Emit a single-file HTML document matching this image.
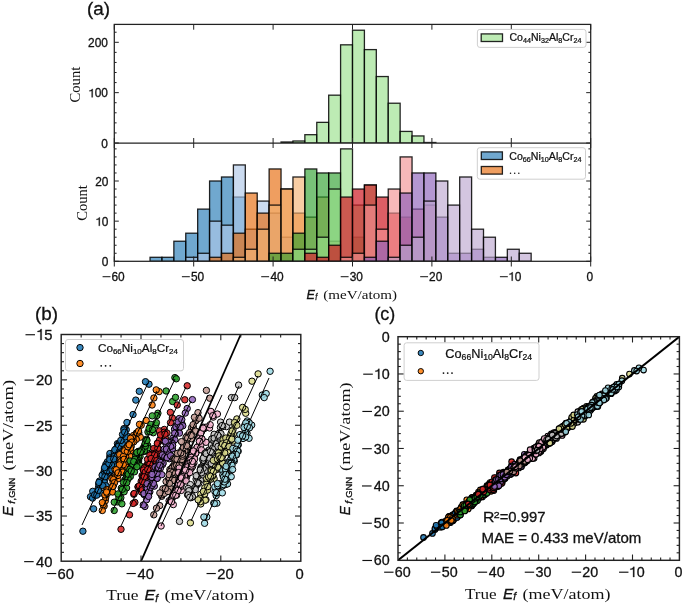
<!DOCTYPE html>
<html><head><meta charset="utf-8"><style>
html,body{margin:0;padding:0;background:#fff;}
svg{display:block;will-change:transform;filter:blur(0.3px);}
</style></head><body>
<svg width="685" height="606" viewBox="0 0 685 606" font-family='"Liberation Sans", sans-serif'>
<rect width="685" height="606" fill="#fff"/>
<defs>
<clipPath id="cu"><rect x="114.3" y="24.4" width="476.4" height="118.6"/></clipPath>
<clipPath id="cl"><rect x="114.3" y="143.0" width="476.4" height="118.3"/></clipPath>
</defs>
<rect x="281.04" y="141.99" width="11.91" height="1.01" fill="#98df8a" fill-opacity="0.64" stroke="#000" stroke-opacity="0.85" stroke-width="1.3" clip-path="url(#cu)"/>
<rect x="292.95" y="140.99" width="11.91" height="2.01" fill="#98df8a" fill-opacity="0.64" stroke="#000" stroke-opacity="0.85" stroke-width="1.3" clip-path="url(#cu)"/>
<rect x="304.86" y="134.69" width="11.91" height="8.31" fill="#98df8a" fill-opacity="0.64" stroke="#000" stroke-opacity="0.85" stroke-width="1.3" clip-path="url(#cu)"/>
<rect x="316.77" y="122.36" width="11.91" height="20.64" fill="#98df8a" fill-opacity="0.64" stroke="#000" stroke-opacity="0.85" stroke-width="1.3" clip-path="url(#cu)"/>
<rect x="328.68" y="95.17" width="11.91" height="47.83" fill="#98df8a" fill-opacity="0.64" stroke="#000" stroke-opacity="0.85" stroke-width="1.3" clip-path="url(#cu)"/>
<rect x="340.59" y="44.82" width="11.91" height="98.18" fill="#98df8a" fill-opacity="0.64" stroke="#000" stroke-opacity="0.85" stroke-width="1.3" clip-path="url(#cu)"/>
<rect x="352.5" y="30.22" width="11.91" height="112.78" fill="#98df8a" fill-opacity="0.64" stroke="#000" stroke-opacity="0.85" stroke-width="1.3" clip-path="url(#cu)"/>
<rect x="364.41" y="49.6" width="11.91" height="93.4" fill="#98df8a" fill-opacity="0.64" stroke="#000" stroke-opacity="0.85" stroke-width="1.3" clip-path="url(#cu)"/>
<rect x="376.32" y="76.54" width="11.91" height="66.46" fill="#98df8a" fill-opacity="0.64" stroke="#000" stroke-opacity="0.85" stroke-width="1.3" clip-path="url(#cu)"/>
<rect x="388.23" y="103.22" width="11.91" height="39.78" fill="#98df8a" fill-opacity="0.64" stroke="#000" stroke-opacity="0.85" stroke-width="1.3" clip-path="url(#cu)"/>
<rect x="400.14" y="131.42" width="11.91" height="11.58" fill="#98df8a" fill-opacity="0.64" stroke="#000" stroke-opacity="0.85" stroke-width="1.3" clip-path="url(#cu)"/>
<rect x="412.05" y="135.95" width="11.91" height="7.05" fill="#98df8a" fill-opacity="0.64" stroke="#000" stroke-opacity="0.85" stroke-width="1.3" clip-path="url(#cu)"/>
<rect x="423.96" y="142.5" width="11.91" height="0.5" fill="#98df8a" fill-opacity="0.64" stroke="#000" stroke-opacity="0.85" stroke-width="1.3" clip-path="url(#cu)"/>
<rect x="150.03" y="257.29" width="11.91" height="4.01" fill="#1f77b4" fill-opacity="0.64" stroke="#000" stroke-opacity="0.85" stroke-width="1.3" clip-path="url(#cl)"/>
<rect x="161.94" y="257.29" width="11.91" height="4.01" fill="#1f77b4" fill-opacity="0.64" stroke="#000" stroke-opacity="0.85" stroke-width="1.3" clip-path="url(#cl)"/>
<rect x="173.85" y="241.23" width="11.91" height="20.07" fill="#1f77b4" fill-opacity="0.64" stroke="#000" stroke-opacity="0.85" stroke-width="1.3" clip-path="url(#cl)"/>
<rect x="185.76" y="233.2" width="11.91" height="28.1" fill="#1f77b4" fill-opacity="0.64" stroke="#000" stroke-opacity="0.85" stroke-width="1.3" clip-path="url(#cl)"/>
<rect x="197.67" y="209.11" width="11.91" height="52.19" fill="#1f77b4" fill-opacity="0.64" stroke="#000" stroke-opacity="0.85" stroke-width="1.3" clip-path="url(#cl)"/>
<rect x="209.58" y="181" width="11.91" height="80.3" fill="#1f77b4" fill-opacity="0.64" stroke="#000" stroke-opacity="0.85" stroke-width="1.3" clip-path="url(#cl)"/>
<rect x="221.49" y="176.99" width="11.91" height="84.31" fill="#1f77b4" fill-opacity="0.64" stroke="#000" stroke-opacity="0.85" stroke-width="1.3" clip-path="url(#cl)"/>
<rect x="233.4" y="197.06" width="11.91" height="64.24" fill="#1f77b4" fill-opacity="0.64" stroke="#000" stroke-opacity="0.85" stroke-width="1.3" clip-path="url(#cl)"/>
<rect x="185.76" y="257.29" width="11.91" height="4.01" fill="#aec7e8" fill-opacity="0.64" stroke="#000" stroke-opacity="0.85" stroke-width="1.3" clip-path="url(#cl)"/>
<rect x="197.67" y="253.27" width="11.91" height="8.03" fill="#aec7e8" fill-opacity="0.64" stroke="#000" stroke-opacity="0.85" stroke-width="1.3" clip-path="url(#cl)"/>
<rect x="209.58" y="221.15" width="11.91" height="40.15" fill="#aec7e8" fill-opacity="0.64" stroke="#000" stroke-opacity="0.85" stroke-width="1.3" clip-path="url(#cl)"/>
<rect x="221.49" y="225.17" width="11.91" height="36.13" fill="#aec7e8" fill-opacity="0.64" stroke="#000" stroke-opacity="0.85" stroke-width="1.3" clip-path="url(#cl)"/>
<rect x="233.4" y="164.94" width="11.91" height="96.36" fill="#aec7e8" fill-opacity="0.64" stroke="#000" stroke-opacity="0.85" stroke-width="1.3" clip-path="url(#cl)"/>
<rect x="245.31" y="229.18" width="11.91" height="32.12" fill="#aec7e8" fill-opacity="0.64" stroke="#000" stroke-opacity="0.85" stroke-width="1.3" clip-path="url(#cl)"/>
<rect x="257.22" y="201.08" width="11.91" height="60.22" fill="#aec7e8" fill-opacity="0.64" stroke="#000" stroke-opacity="0.85" stroke-width="1.3" clip-path="url(#cl)"/>
<rect x="269.13" y="213.12" width="11.91" height="48.18" fill="#aec7e8" fill-opacity="0.64" stroke="#000" stroke-opacity="0.85" stroke-width="1.3" clip-path="url(#cl)"/>
<rect x="281.04" y="237.21" width="11.91" height="24.09" fill="#aec7e8" fill-opacity="0.64" stroke="#000" stroke-opacity="0.85" stroke-width="1.3" clip-path="url(#cl)"/>
<rect x="209.58" y="257.29" width="11.91" height="4.01" fill="#e66806" fill-opacity="0.64" stroke="#000" stroke-opacity="0.85" stroke-width="1.3" clip-path="url(#cl)"/>
<rect x="221.49" y="253.27" width="11.91" height="8.03" fill="#e66806" fill-opacity="0.64" stroke="#000" stroke-opacity="0.85" stroke-width="1.3" clip-path="url(#cl)"/>
<rect x="233.4" y="233.2" width="11.91" height="28.1" fill="#e66806" fill-opacity="0.64" stroke="#000" stroke-opacity="0.85" stroke-width="1.3" clip-path="url(#cl)"/>
<rect x="245.31" y="193.05" width="11.91" height="68.25" fill="#e66806" fill-opacity="0.64" stroke="#000" stroke-opacity="0.85" stroke-width="1.3" clip-path="url(#cl)"/>
<rect x="257.22" y="213.12" width="11.91" height="48.18" fill="#e66806" fill-opacity="0.64" stroke="#000" stroke-opacity="0.85" stroke-width="1.3" clip-path="url(#cl)"/>
<rect x="269.13" y="168.96" width="11.91" height="92.34" fill="#e66806" fill-opacity="0.64" stroke="#000" stroke-opacity="0.85" stroke-width="1.3" clip-path="url(#cl)"/>
<rect x="281.04" y="189.03" width="11.91" height="72.27" fill="#e66806" fill-opacity="0.64" stroke="#000" stroke-opacity="0.85" stroke-width="1.3" clip-path="url(#cl)"/>
<rect x="292.95" y="213.12" width="11.91" height="48.18" fill="#e66806" fill-opacity="0.64" stroke="#000" stroke-opacity="0.85" stroke-width="1.3" clip-path="url(#cl)"/>
<rect x="233.4" y="257.29" width="11.91" height="4.01" fill="#f2b170" fill-opacity="0.64" stroke="#000" stroke-opacity="0.85" stroke-width="1.3" clip-path="url(#cl)"/>
<rect x="245.31" y="249.26" width="11.91" height="12.04" fill="#f2b170" fill-opacity="0.64" stroke="#000" stroke-opacity="0.85" stroke-width="1.3" clip-path="url(#cl)"/>
<rect x="257.22" y="229.18" width="11.91" height="32.12" fill="#f2b170" fill-opacity="0.64" stroke="#000" stroke-opacity="0.85" stroke-width="1.3" clip-path="url(#cl)"/>
<rect x="269.13" y="205.09" width="11.91" height="56.21" fill="#f2b170" fill-opacity="0.64" stroke="#000" stroke-opacity="0.85" stroke-width="1.3" clip-path="url(#cl)"/>
<rect x="281.04" y="189.03" width="11.91" height="72.27" fill="#f2b170" fill-opacity="0.64" stroke="#000" stroke-opacity="0.85" stroke-width="1.3" clip-path="url(#cl)"/>
<rect x="292.95" y="176.99" width="11.91" height="84.31" fill="#f2b170" fill-opacity="0.64" stroke="#000" stroke-opacity="0.85" stroke-width="1.3" clip-path="url(#cl)"/>
<rect x="304.86" y="217.14" width="11.91" height="44.16" fill="#f2b170" fill-opacity="0.64" stroke="#000" stroke-opacity="0.85" stroke-width="1.3" clip-path="url(#cl)"/>
<rect x="316.77" y="197.06" width="11.91" height="64.24" fill="#f2b170" fill-opacity="0.64" stroke="#000" stroke-opacity="0.85" stroke-width="1.3" clip-path="url(#cl)"/>
<rect x="328.68" y="241.23" width="11.91" height="20.07" fill="#f2b170" fill-opacity="0.64" stroke="#000" stroke-opacity="0.85" stroke-width="1.3" clip-path="url(#cl)"/>
<rect x="269.13" y="253.27" width="11.91" height="8.03" fill="#2ca02c" fill-opacity="0.64" stroke="#000" stroke-opacity="0.85" stroke-width="1.3" clip-path="url(#cl)"/>
<rect x="281.04" y="253.27" width="11.91" height="8.03" fill="#2ca02c" fill-opacity="0.64" stroke="#000" stroke-opacity="0.85" stroke-width="1.3" clip-path="url(#cl)"/>
<rect x="292.95" y="233.2" width="11.91" height="28.1" fill="#2ca02c" fill-opacity="0.64" stroke="#000" stroke-opacity="0.85" stroke-width="1.3" clip-path="url(#cl)"/>
<rect x="304.86" y="168.96" width="11.91" height="92.34" fill="#2ca02c" fill-opacity="0.64" stroke="#000" stroke-opacity="0.85" stroke-width="1.3" clip-path="url(#cl)"/>
<rect x="316.77" y="172.97" width="11.91" height="88.33" fill="#2ca02c" fill-opacity="0.64" stroke="#000" stroke-opacity="0.85" stroke-width="1.3" clip-path="url(#cl)"/>
<rect x="328.68" y="172.97" width="11.91" height="88.33" fill="#2ca02c" fill-opacity="0.64" stroke="#000" stroke-opacity="0.85" stroke-width="1.3" clip-path="url(#cl)"/>
<rect x="352.5" y="237.21" width="11.91" height="24.09" fill="#2ca02c" fill-opacity="0.64" stroke="#000" stroke-opacity="0.85" stroke-width="1.3" clip-path="url(#cl)"/>
<rect x="292.95" y="249.26" width="11.91" height="12.04" fill="#98df8a" fill-opacity="0.64" stroke="#000" stroke-opacity="0.85" stroke-width="1.3" clip-path="url(#cl)"/>
<rect x="304.86" y="249.26" width="11.91" height="12.04" fill="#98df8a" fill-opacity="0.64" stroke="#000" stroke-opacity="0.85" stroke-width="1.3" clip-path="url(#cl)"/>
<rect x="316.77" y="237.21" width="11.91" height="24.09" fill="#98df8a" fill-opacity="0.64" stroke="#000" stroke-opacity="0.85" stroke-width="1.3" clip-path="url(#cl)"/>
<rect x="328.68" y="189.03" width="11.91" height="72.27" fill="#98df8a" fill-opacity="0.64" stroke="#000" stroke-opacity="0.85" stroke-width="1.3" clip-path="url(#cl)"/>
<rect x="340.59" y="148.88" width="11.91" height="112.42" fill="#98df8a" fill-opacity="0.64" stroke="#000" stroke-opacity="0.85" stroke-width="1.3" clip-path="url(#cl)"/>
<rect x="352.5" y="205.09" width="11.91" height="56.21" fill="#98df8a" fill-opacity="0.64" stroke="#000" stroke-opacity="0.85" stroke-width="1.3" clip-path="url(#cl)"/>
<rect x="364.41" y="185.02" width="11.91" height="76.28" fill="#98df8a" fill-opacity="0.64" stroke="#000" stroke-opacity="0.85" stroke-width="1.3" clip-path="url(#cl)"/>
<rect x="304.86" y="253.27" width="11.91" height="8.03" fill="#d0202a" fill-opacity="0.72" stroke="#000" stroke-opacity="0.85" stroke-width="1.3" clip-path="url(#cl)"/>
<rect x="316.77" y="257.29" width="11.91" height="4.01" fill="#d0202a" fill-opacity="0.72" stroke="#000" stroke-opacity="0.85" stroke-width="1.3" clip-path="url(#cl)"/>
<rect x="328.68" y="245.24" width="11.91" height="16.06" fill="#d0202a" fill-opacity="0.72" stroke="#000" stroke-opacity="0.85" stroke-width="1.3" clip-path="url(#cl)"/>
<rect x="340.59" y="197.06" width="11.91" height="64.24" fill="#d0202a" fill-opacity="0.72" stroke="#000" stroke-opacity="0.85" stroke-width="1.3" clip-path="url(#cl)"/>
<rect x="352.5" y="189.03" width="11.91" height="72.27" fill="#d0202a" fill-opacity="0.72" stroke="#000" stroke-opacity="0.85" stroke-width="1.3" clip-path="url(#cl)"/>
<rect x="364.41" y="185.02" width="11.91" height="76.28" fill="#d0202a" fill-opacity="0.72" stroke="#000" stroke-opacity="0.85" stroke-width="1.3" clip-path="url(#cl)"/>
<rect x="376.32" y="197.06" width="11.91" height="64.24" fill="#d0202a" fill-opacity="0.72" stroke="#000" stroke-opacity="0.85" stroke-width="1.3" clip-path="url(#cl)"/>
<rect x="388.23" y="213.12" width="11.91" height="48.18" fill="#d0202a" fill-opacity="0.72" stroke="#000" stroke-opacity="0.85" stroke-width="1.3" clip-path="url(#cl)"/>
<rect x="400.14" y="217.14" width="11.91" height="44.16" fill="#d0202a" fill-opacity="0.72" stroke="#000" stroke-opacity="0.85" stroke-width="1.3" clip-path="url(#cl)"/>
<rect x="340.59" y="257.29" width="11.91" height="4.01" fill="#f39092" fill-opacity="0.64" stroke="#000" stroke-opacity="0.85" stroke-width="1.3" clip-path="url(#cl)"/>
<rect x="352.5" y="253.27" width="11.91" height="8.03" fill="#f39092" fill-opacity="0.64" stroke="#000" stroke-opacity="0.85" stroke-width="1.3" clip-path="url(#cl)"/>
<rect x="364.41" y="205.09" width="11.91" height="56.21" fill="#f39092" fill-opacity="0.64" stroke="#000" stroke-opacity="0.85" stroke-width="1.3" clip-path="url(#cl)"/>
<rect x="376.32" y="229.18" width="11.91" height="32.12" fill="#f39092" fill-opacity="0.64" stroke="#000" stroke-opacity="0.85" stroke-width="1.3" clip-path="url(#cl)"/>
<rect x="388.23" y="189.03" width="11.91" height="72.27" fill="#f39092" fill-opacity="0.64" stroke="#000" stroke-opacity="0.85" stroke-width="1.3" clip-path="url(#cl)"/>
<rect x="400.14" y="156.91" width="11.91" height="104.39" fill="#f39092" fill-opacity="0.64" stroke="#000" stroke-opacity="0.85" stroke-width="1.3" clip-path="url(#cl)"/>
<rect x="412.05" y="209.11" width="11.91" height="52.19" fill="#f39092" fill-opacity="0.64" stroke="#000" stroke-opacity="0.85" stroke-width="1.3" clip-path="url(#cl)"/>
<rect x="423.96" y="205.09" width="11.91" height="56.21" fill="#f39092" fill-opacity="0.64" stroke="#000" stroke-opacity="0.85" stroke-width="1.3" clip-path="url(#cl)"/>
<rect x="364.41" y="257.29" width="11.91" height="4.01" fill="#8a5cb8" fill-opacity="0.64" stroke="#000" stroke-opacity="0.85" stroke-width="1.3" clip-path="url(#cl)"/>
<rect x="376.32" y="241.23" width="11.91" height="20.07" fill="#8a5cb8" fill-opacity="0.64" stroke="#000" stroke-opacity="0.85" stroke-width="1.3" clip-path="url(#cl)"/>
<rect x="400.14" y="193.05" width="11.91" height="68.25" fill="#8a5cb8" fill-opacity="0.64" stroke="#000" stroke-opacity="0.85" stroke-width="1.3" clip-path="url(#cl)"/>
<rect x="412.05" y="172.97" width="11.91" height="88.33" fill="#8a5cb8" fill-opacity="0.64" stroke="#000" stroke-opacity="0.85" stroke-width="1.3" clip-path="url(#cl)"/>
<rect x="423.96" y="172.97" width="11.91" height="88.33" fill="#8a5cb8" fill-opacity="0.64" stroke="#000" stroke-opacity="0.85" stroke-width="1.3" clip-path="url(#cl)"/>
<rect x="435.87" y="217.14" width="11.91" height="44.16" fill="#8a5cb8" fill-opacity="0.64" stroke="#000" stroke-opacity="0.85" stroke-width="1.3" clip-path="url(#cl)"/>
<rect x="447.78" y="253.27" width="11.91" height="8.03" fill="#8a5cb8" fill-opacity="0.64" stroke="#000" stroke-opacity="0.85" stroke-width="1.3" clip-path="url(#cl)"/>
<rect x="459.69" y="253.27" width="11.91" height="8.03" fill="#8a5cb8" fill-opacity="0.64" stroke="#000" stroke-opacity="0.85" stroke-width="1.3" clip-path="url(#cl)"/>
<rect x="471.6" y="249.26" width="11.91" height="12.04" fill="#8a5cb8" fill-opacity="0.64" stroke="#000" stroke-opacity="0.85" stroke-width="1.3" clip-path="url(#cl)"/>
<rect x="483.51" y="257.29" width="11.91" height="4.01" fill="#8a5cb8" fill-opacity="0.64" stroke="#000" stroke-opacity="0.85" stroke-width="1.3" clip-path="url(#cl)"/>
<rect x="495.42" y="257.29" width="11.91" height="4.01" fill="#8a5cb8" fill-opacity="0.64" stroke="#000" stroke-opacity="0.85" stroke-width="1.3" clip-path="url(#cl)"/>
<rect x="388.23" y="257.29" width="11.91" height="4.01" fill="#bba6cf" fill-opacity="0.64" stroke="#000" stroke-opacity="0.85" stroke-width="1.3" clip-path="url(#cl)"/>
<rect x="400.14" y="245.24" width="11.91" height="16.06" fill="#bba6cf" fill-opacity="0.64" stroke="#000" stroke-opacity="0.85" stroke-width="1.3" clip-path="url(#cl)"/>
<rect x="412.05" y="237.21" width="11.91" height="24.09" fill="#bba6cf" fill-opacity="0.64" stroke="#000" stroke-opacity="0.85" stroke-width="1.3" clip-path="url(#cl)"/>
<rect x="423.96" y="201.08" width="11.91" height="60.22" fill="#bba6cf" fill-opacity="0.64" stroke="#000" stroke-opacity="0.85" stroke-width="1.3" clip-path="url(#cl)"/>
<rect x="435.87" y="181" width="11.91" height="80.3" fill="#bba6cf" fill-opacity="0.64" stroke="#000" stroke-opacity="0.85" stroke-width="1.3" clip-path="url(#cl)"/>
<rect x="447.78" y="205.09" width="11.91" height="56.21" fill="#bba6cf" fill-opacity="0.64" stroke="#000" stroke-opacity="0.85" stroke-width="1.3" clip-path="url(#cl)"/>
<rect x="459.69" y="176.99" width="11.91" height="84.31" fill="#bba6cf" fill-opacity="0.64" stroke="#000" stroke-opacity="0.85" stroke-width="1.3" clip-path="url(#cl)"/>
<rect x="471.6" y="229.18" width="11.91" height="32.12" fill="#bba6cf" fill-opacity="0.64" stroke="#000" stroke-opacity="0.85" stroke-width="1.3" clip-path="url(#cl)"/>
<rect x="483.51" y="237.21" width="11.91" height="24.09" fill="#bba6cf" fill-opacity="0.64" stroke="#000" stroke-opacity="0.85" stroke-width="1.3" clip-path="url(#cl)"/>
<rect x="507.33" y="249.26" width="11.91" height="12.04" fill="#bba6cf" fill-opacity="0.64" stroke="#000" stroke-opacity="0.85" stroke-width="1.3" clip-path="url(#cl)"/>
<rect x="519.24" y="253.27" width="11.91" height="8.03" fill="#bba6cf" fill-opacity="0.64" stroke="#000" stroke-opacity="0.85" stroke-width="1.3" clip-path="url(#cl)"/>
<rect x="114.3" y="24.4" width="476.4" height="236.9" fill="none" stroke="#222" stroke-width="1.25"/>
<line x1="114.3" y1="143.0" x2="590.7" y2="143.0" stroke="#222" stroke-width="1.25"/>
<line x1="114.3" y1="24.4" x2="114.3" y2="29.7" stroke="#222" stroke-width="1.0"/>
<line x1="114.3" y1="138" x2="114.3" y2="148" stroke="#222" stroke-width="1.0"/>
<line x1="114.3" y1="256.5" x2="114.3" y2="266.5" stroke="#222" stroke-width="1.0"/>
<line x1="193.7" y1="24.4" x2="193.7" y2="29.7" stroke="#222" stroke-width="1.0"/>
<line x1="193.7" y1="138" x2="193.7" y2="148" stroke="#222" stroke-width="1.0"/>
<line x1="193.7" y1="256.5" x2="193.7" y2="266.5" stroke="#222" stroke-width="1.0"/>
<line x1="273.1" y1="24.4" x2="273.1" y2="29.7" stroke="#222" stroke-width="1.0"/>
<line x1="273.1" y1="138" x2="273.1" y2="148" stroke="#222" stroke-width="1.0"/>
<line x1="273.1" y1="256.5" x2="273.1" y2="266.5" stroke="#222" stroke-width="1.0"/>
<line x1="352.5" y1="24.4" x2="352.5" y2="29.7" stroke="#222" stroke-width="1.0"/>
<line x1="352.5" y1="138" x2="352.5" y2="148" stroke="#222" stroke-width="1.0"/>
<line x1="352.5" y1="256.5" x2="352.5" y2="266.5" stroke="#222" stroke-width="1.0"/>
<line x1="431.9" y1="24.4" x2="431.9" y2="29.7" stroke="#222" stroke-width="1.0"/>
<line x1="431.9" y1="138" x2="431.9" y2="148" stroke="#222" stroke-width="1.0"/>
<line x1="431.9" y1="256.5" x2="431.9" y2="266.5" stroke="#222" stroke-width="1.0"/>
<line x1="511.3" y1="24.4" x2="511.3" y2="29.7" stroke="#222" stroke-width="1.0"/>
<line x1="511.3" y1="138" x2="511.3" y2="148" stroke="#222" stroke-width="1.0"/>
<line x1="511.3" y1="256.5" x2="511.3" y2="266.5" stroke="#222" stroke-width="1.0"/>
<line x1="590.7" y1="24.4" x2="590.7" y2="29.7" stroke="#222" stroke-width="1.0"/>
<line x1="590.7" y1="138" x2="590.7" y2="148" stroke="#222" stroke-width="1.0"/>
<line x1="590.7" y1="256.5" x2="590.7" y2="266.5" stroke="#222" stroke-width="1.0"/>
<line x1="114.3" y1="143" x2="118.8" y2="143" stroke="#222" stroke-width="1.0"/>
<line x1="590.7" y1="143" x2="586.2" y2="143" stroke="#222" stroke-width="1.0"/>
<line x1="114.3" y1="132.93" x2="116.6" y2="132.93" stroke="#222" stroke-width="1.0"/>
<line x1="590.7" y1="132.93" x2="588.4" y2="132.93" stroke="#222" stroke-width="1.0"/>
<line x1="114.3" y1="122.86" x2="116.6" y2="122.86" stroke="#222" stroke-width="1.0"/>
<line x1="590.7" y1="122.86" x2="588.4" y2="122.86" stroke="#222" stroke-width="1.0"/>
<line x1="114.3" y1="112.79" x2="116.6" y2="112.79" stroke="#222" stroke-width="1.0"/>
<line x1="590.7" y1="112.79" x2="588.4" y2="112.79" stroke="#222" stroke-width="1.0"/>
<line x1="114.3" y1="102.72" x2="116.6" y2="102.72" stroke="#222" stroke-width="1.0"/>
<line x1="590.7" y1="102.72" x2="588.4" y2="102.72" stroke="#222" stroke-width="1.0"/>
<line x1="114.3" y1="92.65" x2="118.8" y2="92.65" stroke="#222" stroke-width="1.0"/>
<line x1="590.7" y1="92.65" x2="586.2" y2="92.65" stroke="#222" stroke-width="1.0"/>
<line x1="114.3" y1="82.58" x2="116.6" y2="82.58" stroke="#222" stroke-width="1.0"/>
<line x1="590.7" y1="82.58" x2="588.4" y2="82.58" stroke="#222" stroke-width="1.0"/>
<line x1="114.3" y1="72.51" x2="116.6" y2="72.51" stroke="#222" stroke-width="1.0"/>
<line x1="590.7" y1="72.51" x2="588.4" y2="72.51" stroke="#222" stroke-width="1.0"/>
<line x1="114.3" y1="62.44" x2="116.6" y2="62.44" stroke="#222" stroke-width="1.0"/>
<line x1="590.7" y1="62.44" x2="588.4" y2="62.44" stroke="#222" stroke-width="1.0"/>
<line x1="114.3" y1="52.37" x2="116.6" y2="52.37" stroke="#222" stroke-width="1.0"/>
<line x1="590.7" y1="52.37" x2="588.4" y2="52.37" stroke="#222" stroke-width="1.0"/>
<line x1="114.3" y1="42.3" x2="118.8" y2="42.3" stroke="#222" stroke-width="1.0"/>
<line x1="590.7" y1="42.3" x2="586.2" y2="42.3" stroke="#222" stroke-width="1.0"/>
<line x1="114.3" y1="32.23" x2="116.6" y2="32.23" stroke="#222" stroke-width="1.0"/>
<line x1="590.7" y1="32.23" x2="588.4" y2="32.23" stroke="#222" stroke-width="1.0"/>
<line x1="114.3" y1="261.3" x2="118.8" y2="261.3" stroke="#222" stroke-width="1.0"/>
<line x1="590.7" y1="261.3" x2="586.2" y2="261.3" stroke="#222" stroke-width="1.0"/>
<line x1="114.3" y1="253.27" x2="116.6" y2="253.27" stroke="#222" stroke-width="1.0"/>
<line x1="590.7" y1="253.27" x2="588.4" y2="253.27" stroke="#222" stroke-width="1.0"/>
<line x1="114.3" y1="245.24" x2="116.6" y2="245.24" stroke="#222" stroke-width="1.0"/>
<line x1="590.7" y1="245.24" x2="588.4" y2="245.24" stroke="#222" stroke-width="1.0"/>
<line x1="114.3" y1="237.21" x2="116.6" y2="237.21" stroke="#222" stroke-width="1.0"/>
<line x1="590.7" y1="237.21" x2="588.4" y2="237.21" stroke="#222" stroke-width="1.0"/>
<line x1="114.3" y1="229.18" x2="116.6" y2="229.18" stroke="#222" stroke-width="1.0"/>
<line x1="590.7" y1="229.18" x2="588.4" y2="229.18" stroke="#222" stroke-width="1.0"/>
<line x1="114.3" y1="221.15" x2="118.8" y2="221.15" stroke="#222" stroke-width="1.0"/>
<line x1="590.7" y1="221.15" x2="586.2" y2="221.15" stroke="#222" stroke-width="1.0"/>
<line x1="114.3" y1="213.12" x2="116.6" y2="213.12" stroke="#222" stroke-width="1.0"/>
<line x1="590.7" y1="213.12" x2="588.4" y2="213.12" stroke="#222" stroke-width="1.0"/>
<line x1="114.3" y1="205.09" x2="116.6" y2="205.09" stroke="#222" stroke-width="1.0"/>
<line x1="590.7" y1="205.09" x2="588.4" y2="205.09" stroke="#222" stroke-width="1.0"/>
<line x1="114.3" y1="197.06" x2="116.6" y2="197.06" stroke="#222" stroke-width="1.0"/>
<line x1="590.7" y1="197.06" x2="588.4" y2="197.06" stroke="#222" stroke-width="1.0"/>
<line x1="114.3" y1="189.03" x2="116.6" y2="189.03" stroke="#222" stroke-width="1.0"/>
<line x1="590.7" y1="189.03" x2="588.4" y2="189.03" stroke="#222" stroke-width="1.0"/>
<line x1="114.3" y1="181" x2="118.8" y2="181" stroke="#222" stroke-width="1.0"/>
<line x1="590.7" y1="181" x2="586.2" y2="181" stroke="#222" stroke-width="1.0"/>
<line x1="114.3" y1="172.97" x2="116.6" y2="172.97" stroke="#222" stroke-width="1.0"/>
<line x1="590.7" y1="172.97" x2="588.4" y2="172.97" stroke="#222" stroke-width="1.0"/>
<line x1="114.3" y1="164.94" x2="116.6" y2="164.94" stroke="#222" stroke-width="1.0"/>
<line x1="590.7" y1="164.94" x2="588.4" y2="164.94" stroke="#222" stroke-width="1.0"/>
<line x1="114.3" y1="156.91" x2="116.6" y2="156.91" stroke="#222" stroke-width="1.0"/>
<line x1="590.7" y1="156.91" x2="588.4" y2="156.91" stroke="#222" stroke-width="1.0"/>
<line x1="114.3" y1="148.88" x2="116.6" y2="148.88" stroke="#222" stroke-width="1.0"/>
<line x1="590.7" y1="148.88" x2="588.4" y2="148.88" stroke="#222" stroke-width="1.0"/>
<text x="88.11" y="46.99" font-size="11.9" fill="#111" stroke="#111" stroke-width="0.3">2</text>
<text x="94.73" y="46.99" font-size="11.9" fill="#111" stroke="#111" stroke-width="0.3">0</text>
<text x="101.35" y="46.99" font-size="11.9" fill="#111" stroke="#111" stroke-width="0.3">0</text>
<polygon points="92.7,97.34 92.7,88.91 91.95,88.91 91.57,89.67 90.73,90.23 89.42,90.47 89.42,91.25 91.68,90.95 91.68,97.34" fill="#111" stroke="#111" stroke-width="0.3"/>
<text x="94.73" y="97.34" font-size="11.9" fill="#111" stroke="#111" stroke-width="0.3">0</text>
<text x="101.35" y="97.34" font-size="11.9" fill="#111" stroke="#111" stroke-width="0.3">0</text>
<text x="101.35" y="147.69" font-size="11.9" fill="#111" stroke="#111" stroke-width="0.3">0</text>
<text x="95.23" y="185.69" font-size="11.9" fill="#111" stroke="#111" stroke-width="0.3">2</text>
<text x="101.85" y="185.69" font-size="11.9" fill="#111" stroke="#111" stroke-width="0.3">0</text>
<polygon points="99.81,225.84 99.81,217.41 99.06,217.41 98.68,218.17 97.85,218.73 96.54,218.97 96.54,219.75 98.8,219.45 98.8,225.84" fill="#111" stroke="#111" stroke-width="0.3"/>
<text x="101.85" y="225.84" font-size="11.9" fill="#111" stroke="#111" stroke-width="0.3">0</text>
<text x="101.85" y="265.99" font-size="11.9" fill="#111" stroke="#111" stroke-width="0.3">0</text>
<text x="111.46" y="280.7" font-size="11.9" fill="#111" stroke="#111" stroke-width="0.3">6</text>
<text x="118.08" y="280.7" font-size="11.9" fill="#111" stroke="#111" stroke-width="0.3">0</text>
<rect x="102.57" y="276.21" width="7.9" height="1" fill="#111"/>
<text x="190.93" y="280.7" font-size="11.9" fill="#111" stroke="#111" stroke-width="0.3">5</text>
<text x="197.54" y="280.7" font-size="11.9" fill="#111" stroke="#111" stroke-width="0.3">0</text>
<rect x="181.9" y="276.21" width="7.9" height="1" fill="#111"/>
<text x="270.43" y="280.7" font-size="11.9" fill="#111" stroke="#111" stroke-width="0.3">4</text>
<text x="277.05" y="280.7" font-size="11.9" fill="#111" stroke="#111" stroke-width="0.3">0</text>
<rect x="261.2" y="276.21" width="7.9" height="1" fill="#111"/>
<text x="349.74" y="280.7" font-size="11.9" fill="#111" stroke="#111" stroke-width="0.3">3</text>
<text x="356.36" y="280.7" font-size="11.9" fill="#111" stroke="#111" stroke-width="0.3">0</text>
<rect x="340.69" y="276.21" width="7.9" height="1" fill="#111"/>
<text x="429.07" y="280.7" font-size="11.9" fill="#111" stroke="#111" stroke-width="0.3">2</text>
<text x="435.68" y="280.7" font-size="11.9" fill="#111" stroke="#111" stroke-width="0.3">0</text>
<rect x="420.16" y="276.21" width="7.9" height="1" fill="#111"/>
<polygon points="512.7,280.7 512.7,272.26 511.95,272.26 511.57,273.02 510.74,273.58 509.43,273.82 509.43,274.61 511.69,274.31 511.69,280.7" fill="#111" stroke="#111" stroke-width="0.3"/>
<text x="514.73" y="280.7" font-size="11.9" fill="#111" stroke="#111" stroke-width="0.3">0</text>
<rect x="499.91" y="276.21" width="7.9" height="1" fill="#111"/>
<text x="586.49" y="280.7" font-size="11.9" fill="#111" stroke="#111" stroke-width="0.3">0</text>
<text transform="translate(79.7,102) rotate(-90)" x="-0.6" y="0" font-family='"Liberation Serif", serif' font-size="13.7" fill="#111" textLength="35.99" lengthAdjust="spacingAndGlyphs">Count</text>
<text transform="translate(86.5,220.2) rotate(-90)" x="-0.6" y="0" font-family='"Liberation Serif", serif' font-size="13.7" fill="#111" textLength="35.68" lengthAdjust="spacingAndGlyphs">Count</text>
<text x="306.61" y="298.8" font-family='"Liberation Sans", sans-serif' font-style="italic" font-size="12.3" fill="#111" stroke="#111" stroke-width="0.3" textLength="8.37" lengthAdjust="spacingAndGlyphs">E</text>
<text x="315.26" y="299.9" font-family='"Liberation Sans", sans-serif' font-style="italic" font-size="8.6" fill="#111" stroke="#111" stroke-width="0.3" textLength="2.02" lengthAdjust="spacingAndGlyphs">f</text>
<text x="323.34" y="298.8" font-family='"Liberation Serif", serif' font-size="12.4" fill="#111" textLength="73.62" lengthAdjust="spacingAndGlyphs">(meV/atom)</text>
<rect x="477.4" y="29.4" width="108.6" height="18" rx="2.5" fill="#fff" fill-opacity="0.8" stroke="#cfcfcf" stroke-width="1"/>
<rect x="481.2" y="33.9" width="21.3" height="7.6" fill="#98df8a" fill-opacity="0.64" stroke="#000" stroke-opacity="0.85" stroke-width="1.3"/>
<text x="509.46" y="40.9" font-family='"Liberation Sans", sans-serif' font-size="10.0" fill="#111" stroke="#111" stroke-width="0.24" textLength="71.95" lengthAdjust="spacingAndGlyphs"><tspan>Co</tspan><tspan font-size="6.8" dy="2.1">44</tspan><tspan dy="-2.1">Ni</tspan><tspan font-size="6.8" dy="2.1">32</tspan><tspan dy="-2.1">Al</tspan><tspan font-size="6.8" dy="2.1">8</tspan><tspan dy="-2.1">Cr</tspan><tspan font-size="6.8" dy="2.1">24</tspan></text>
<rect x="477.3" y="147.7" width="108.2" height="31.5" rx="2.5" fill="#fff" fill-opacity="0.8" stroke="#cfcfcf" stroke-width="1"/>
<rect x="481.3" y="151.9" width="21.1" height="7.6" fill="#1f77b4" fill-opacity="0.64" stroke="#000" stroke-opacity="0.85" stroke-width="1.3"/>
<rect x="481.3" y="166.5" width="21.1" height="7.6" fill="#e66806" fill-opacity="0.64" stroke="#000" stroke-opacity="0.85" stroke-width="1.3"/>
<text x="509.26" y="159.5" font-family='"Liberation Sans", sans-serif' font-size="10.0" fill="#111" stroke="#111" stroke-width="0.24" textLength="72.25" lengthAdjust="spacingAndGlyphs"><tspan>Co</tspan><tspan font-size="6.8" dy="2.1">66</tspan><tspan dy="-2.1">Ni</tspan><tspan font-size="6.8" dy="2.1">10</tspan><tspan dy="-2.1">Al</tspan><tspan font-size="6.8" dy="2.1">8</tspan><tspan dy="-2.1">Cr</tspan><tspan font-size="6.8" dy="2.1">24</tspan></text>
<circle cx="510.5" cy="173.2" r="0.75" fill="#111"/>
<circle cx="514.7" cy="173.2" r="0.75" fill="#111"/>
<circle cx="518.8" cy="173.2" r="0.75" fill="#111"/>
<text x="86.93" y="15.2" font-family='"Liberation Sans", sans-serif' font-size="18" fill="#111" stroke="#111" stroke-width="0.3" textLength="23.04" lengthAdjust="spacingAndGlyphs">(a)</text>
<defs>
<clipPath id="cb"><rect x="61.2" y="334.5" width="239.6" height="226.7"/></clipPath>
</defs>
<g clip-path="url(#cb)">
<circle cx="106.56" cy="471.61" r="3.2" fill="#1f77b4" fill-opacity="0.88" stroke="#000" stroke-width="1"/>
<circle cx="104.51" cy="479.31" r="3.2" fill="#1f77b4" fill-opacity="0.88" stroke="#000" stroke-width="1"/>
<circle cx="111" cy="458.16" r="3.2" fill="#1f77b4" fill-opacity="0.88" stroke="#000" stroke-width="1"/>
<circle cx="114.73" cy="461.87" r="3.2" fill="#1f77b4" fill-opacity="0.88" stroke="#000" stroke-width="1"/>
<circle cx="107.44" cy="461.79" r="3.2" fill="#1f77b4" fill-opacity="0.88" stroke="#000" stroke-width="1"/>
<circle cx="149" cy="384.2" r="3.2" fill="#1f77b4" fill-opacity="0.88" stroke="#000" stroke-width="1"/>
<circle cx="107.73" cy="466.61" r="3.2" fill="#1f77b4" fill-opacity="0.88" stroke="#000" stroke-width="1"/>
<circle cx="109.58" cy="463.55" r="3.2" fill="#1f77b4" fill-opacity="0.88" stroke="#000" stroke-width="1"/>
<circle cx="107.44" cy="475.35" r="3.2" fill="#1f77b4" fill-opacity="0.88" stroke="#000" stroke-width="1"/>
<circle cx="108.05" cy="470.01" r="3.2" fill="#1f77b4" fill-opacity="0.88" stroke="#000" stroke-width="1"/>
<circle cx="117" cy="447.99" r="3.2" fill="#1f77b4" fill-opacity="0.88" stroke="#000" stroke-width="1"/>
<circle cx="110.98" cy="461.95" r="3.2" fill="#1f77b4" fill-opacity="0.88" stroke="#000" stroke-width="1"/>
<circle cx="105.22" cy="469.54" r="3.2" fill="#1f77b4" fill-opacity="0.88" stroke="#000" stroke-width="1"/>
<circle cx="105.84" cy="475.31" r="3.2" fill="#1f77b4" fill-opacity="0.88" stroke="#000" stroke-width="1"/>
<circle cx="107.47" cy="469.01" r="3.2" fill="#1f77b4" fill-opacity="0.88" stroke="#000" stroke-width="1"/>
<circle cx="106.43" cy="474.58" r="3.2" fill="#1f77b4" fill-opacity="0.88" stroke="#000" stroke-width="1"/>
<circle cx="110.13" cy="457.39" r="3.2" fill="#1f77b4" fill-opacity="0.88" stroke="#000" stroke-width="1"/>
<circle cx="110.81" cy="470.96" r="3.2" fill="#1f77b4" fill-opacity="0.88" stroke="#000" stroke-width="1"/>
<circle cx="123.41" cy="437.72" r="3.2" fill="#1f77b4" fill-opacity="0.88" stroke="#000" stroke-width="1"/>
<circle cx="108.05" cy="469.57" r="3.2" fill="#1f77b4" fill-opacity="0.88" stroke="#000" stroke-width="1"/>
<circle cx="117.65" cy="456.68" r="3.2" fill="#1f77b4" fill-opacity="0.88" stroke="#000" stroke-width="1"/>
<circle cx="124.61" cy="440.34" r="3.2" fill="#1f77b4" fill-opacity="0.88" stroke="#000" stroke-width="1"/>
<circle cx="126.24" cy="429.66" r="3.2" fill="#1f77b4" fill-opacity="0.88" stroke="#000" stroke-width="1"/>
<circle cx="112.9" cy="457.8" r="3.2" fill="#1f77b4" fill-opacity="0.88" stroke="#000" stroke-width="1"/>
<circle cx="123.94" cy="428.58" r="3.2" fill="#1f77b4" fill-opacity="0.88" stroke="#000" stroke-width="1"/>
<circle cx="120.25" cy="446.64" r="3.2" fill="#1f77b4" fill-opacity="0.88" stroke="#000" stroke-width="1"/>
<circle cx="113.02" cy="455.61" r="3.2" fill="#1f77b4" fill-opacity="0.88" stroke="#000" stroke-width="1"/>
<circle cx="108.48" cy="474.95" r="3.2" fill="#1f77b4" fill-opacity="0.88" stroke="#000" stroke-width="1"/>
<circle cx="109.35" cy="466.64" r="3.2" fill="#1f77b4" fill-opacity="0.88" stroke="#000" stroke-width="1"/>
<circle cx="109.83" cy="456.38" r="3.2" fill="#1f77b4" fill-opacity="0.88" stroke="#000" stroke-width="1"/>
<circle cx="104.51" cy="470.27" r="3.2" fill="#1f77b4" fill-opacity="0.88" stroke="#000" stroke-width="1"/>
<circle cx="90.51" cy="496.75" r="3.2" fill="#1f77b4" fill-opacity="0.88" stroke="#000" stroke-width="1"/>
<circle cx="108.67" cy="465.32" r="3.2" fill="#1f77b4" fill-opacity="0.88" stroke="#000" stroke-width="1"/>
<circle cx="114.1" cy="463.94" r="3.2" fill="#1f77b4" fill-opacity="0.88" stroke="#000" stroke-width="1"/>
<circle cx="118.97" cy="446.71" r="3.2" fill="#1f77b4" fill-opacity="0.88" stroke="#000" stroke-width="1"/>
<circle cx="110.34" cy="460.27" r="3.2" fill="#1f77b4" fill-opacity="0.88" stroke="#000" stroke-width="1"/>
<circle cx="92.74" cy="491.33" r="3.2" fill="#1f77b4" fill-opacity="0.88" stroke="#000" stroke-width="1"/>
<circle cx="92.6" cy="498.1" r="3.2" fill="#1f77b4" fill-opacity="0.88" stroke="#000" stroke-width="1"/>
<circle cx="117.44" cy="443.64" r="3.2" fill="#1f77b4" fill-opacity="0.88" stroke="#000" stroke-width="1"/>
<circle cx="109.87" cy="453.53" r="3.2" fill="#1f77b4" fill-opacity="0.88" stroke="#000" stroke-width="1"/>
<circle cx="99.26" cy="487.53" r="3.2" fill="#1f77b4" fill-opacity="0.88" stroke="#000" stroke-width="1"/>
<circle cx="112.12" cy="462.46" r="3.2" fill="#1f77b4" fill-opacity="0.88" stroke="#000" stroke-width="1"/>
<circle cx="82.9" cy="531.2" r="3.2" fill="#1f77b4" fill-opacity="0.88" stroke="#000" stroke-width="1"/>
<circle cx="104.46" cy="482.45" r="3.2" fill="#1f77b4" fill-opacity="0.88" stroke="#000" stroke-width="1"/>
<circle cx="115.44" cy="455.28" r="3.2" fill="#1f77b4" fill-opacity="0.88" stroke="#000" stroke-width="1"/>
<circle cx="104.78" cy="474.63" r="3.2" fill="#1f77b4" fill-opacity="0.88" stroke="#000" stroke-width="1"/>
<circle cx="114.27" cy="451.84" r="3.2" fill="#1f77b4" fill-opacity="0.88" stroke="#000" stroke-width="1"/>
<circle cx="127.07" cy="436" r="3.2" fill="#1f77b4" fill-opacity="0.88" stroke="#000" stroke-width="1"/>
<circle cx="109.84" cy="466.71" r="3.2" fill="#1f77b4" fill-opacity="0.88" stroke="#000" stroke-width="1"/>
<circle cx="98.53" cy="487.4" r="3.2" fill="#1f77b4" fill-opacity="0.88" stroke="#000" stroke-width="1"/>
<circle cx="98.71" cy="483.92" r="3.2" fill="#1f77b4" fill-opacity="0.88" stroke="#000" stroke-width="1"/>
<circle cx="103.92" cy="472.39" r="3.2" fill="#1f77b4" fill-opacity="0.88" stroke="#000" stroke-width="1"/>
<circle cx="108.04" cy="472.95" r="3.2" fill="#1f77b4" fill-opacity="0.88" stroke="#000" stroke-width="1"/>
<circle cx="102.12" cy="475.09" r="3.2" fill="#1f77b4" fill-opacity="0.88" stroke="#000" stroke-width="1"/>
<circle cx="118.9" cy="443.67" r="3.2" fill="#1f77b4" fill-opacity="0.88" stroke="#000" stroke-width="1"/>
<circle cx="125.27" cy="436.75" r="3.2" fill="#1f77b4" fill-opacity="0.88" stroke="#000" stroke-width="1"/>
<circle cx="105.84" cy="464.47" r="3.2" fill="#1f77b4" fill-opacity="0.88" stroke="#000" stroke-width="1"/>
<circle cx="110.62" cy="457.71" r="3.2" fill="#1f77b4" fill-opacity="0.88" stroke="#000" stroke-width="1"/>
<circle cx="105.97" cy="485.79" r="3.2" fill="#1f77b4" fill-opacity="0.88" stroke="#000" stroke-width="1"/>
<circle cx="99.55" cy="481.07" r="3.2" fill="#1f77b4" fill-opacity="0.88" stroke="#000" stroke-width="1"/>
<circle cx="104.58" cy="471.57" r="3.2" fill="#1f77b4" fill-opacity="0.88" stroke="#000" stroke-width="1"/>
<circle cx="122.51" cy="434.47" r="3.2" fill="#1f77b4" fill-opacity="0.88" stroke="#000" stroke-width="1"/>
<circle cx="119.39" cy="443.92" r="3.2" fill="#1f77b4" fill-opacity="0.88" stroke="#000" stroke-width="1"/>
<circle cx="139.3" cy="391.3" r="3.2" fill="#1f77b4" fill-opacity="0.88" stroke="#000" stroke-width="1"/>
<circle cx="102.51" cy="485.6" r="3.2" fill="#1f77b4" fill-opacity="0.88" stroke="#000" stroke-width="1"/>
<circle cx="118.5" cy="445.91" r="3.2" fill="#1f77b4" fill-opacity="0.88" stroke="#000" stroke-width="1"/>
<circle cx="104.43" cy="468.98" r="3.2" fill="#1f77b4" fill-opacity="0.88" stroke="#000" stroke-width="1"/>
<circle cx="106.65" cy="471.88" r="3.2" fill="#1f77b4" fill-opacity="0.88" stroke="#000" stroke-width="1"/>
<circle cx="135.8" cy="400.1" r="3.2" fill="#1f77b4" fill-opacity="0.88" stroke="#000" stroke-width="1"/>
<circle cx="100.66" cy="493" r="3.2" fill="#1f77b4" fill-opacity="0.88" stroke="#000" stroke-width="1"/>
<circle cx="105.83" cy="466.11" r="3.2" fill="#1f77b4" fill-opacity="0.88" stroke="#000" stroke-width="1"/>
<circle cx="106.87" cy="470.62" r="3.2" fill="#1f77b4" fill-opacity="0.88" stroke="#000" stroke-width="1"/>
<circle cx="112.29" cy="458.34" r="3.2" fill="#1f77b4" fill-opacity="0.88" stroke="#000" stroke-width="1"/>
<circle cx="95.27" cy="494.98" r="3.2" fill="#1f77b4" fill-opacity="0.88" stroke="#000" stroke-width="1"/>
<circle cx="97.78" cy="491.39" r="3.2" fill="#1f77b4" fill-opacity="0.88" stroke="#000" stroke-width="1"/>
<circle cx="123.95" cy="429.92" r="3.2" fill="#1f77b4" fill-opacity="0.88" stroke="#000" stroke-width="1"/>
<circle cx="111.92" cy="469.87" r="3.2" fill="#1f77b4" fill-opacity="0.88" stroke="#000" stroke-width="1"/>
<circle cx="94.6" cy="494.77" r="3.2" fill="#1f77b4" fill-opacity="0.88" stroke="#000" stroke-width="1"/>
<circle cx="114.3" cy="456.38" r="3.2" fill="#1f77b4" fill-opacity="0.88" stroke="#000" stroke-width="1"/>
<circle cx="96.81" cy="495.13" r="3.2" fill="#1f77b4" fill-opacity="0.88" stroke="#000" stroke-width="1"/>
<circle cx="126.95" cy="422.49" r="3.2" fill="#1f77b4" fill-opacity="0.88" stroke="#000" stroke-width="1"/>
<circle cx="98.35" cy="490.39" r="3.2" fill="#1f77b4" fill-opacity="0.88" stroke="#000" stroke-width="1"/>
<circle cx="104.63" cy="467.54" r="3.2" fill="#1f77b4" fill-opacity="0.88" stroke="#000" stroke-width="1"/>
<circle cx="118.06" cy="451.72" r="3.2" fill="#1f77b4" fill-opacity="0.88" stroke="#000" stroke-width="1"/>
<circle cx="104.91" cy="476.76" r="3.2" fill="#1f77b4" fill-opacity="0.88" stroke="#000" stroke-width="1"/>
<circle cx="133.03" cy="414.51" r="3.2" fill="#1f77b4" fill-opacity="0.88" stroke="#000" stroke-width="1"/>
<circle cx="116.41" cy="448.42" r="3.2" fill="#1f77b4" fill-opacity="0.88" stroke="#000" stroke-width="1"/>
<circle cx="118.68" cy="447.6" r="3.2" fill="#1f77b4" fill-opacity="0.88" stroke="#000" stroke-width="1"/>
<circle cx="118.48" cy="446.27" r="3.2" fill="#1f77b4" fill-opacity="0.88" stroke="#000" stroke-width="1"/>
<circle cx="122.13" cy="443.43" r="3.2" fill="#1f77b4" fill-opacity="0.88" stroke="#000" stroke-width="1"/>
<circle cx="93.6" cy="508.85" r="3.2" fill="#1f77b4" fill-opacity="0.88" stroke="#000" stroke-width="1"/>
<circle cx="111.49" cy="465.1" r="3.2" fill="#1f77b4" fill-opacity="0.88" stroke="#000" stroke-width="1"/>
<circle cx="145.5" cy="381.7" r="3.2" fill="#1f77b4" fill-opacity="0.88" stroke="#000" stroke-width="1"/>
<circle cx="108.92" cy="463.73" r="3.2" fill="#1f77b4" fill-opacity="0.88" stroke="#000" stroke-width="1"/>
<circle cx="124.66" cy="432.2" r="3.2" fill="#1f77b4" fill-opacity="0.88" stroke="#000" stroke-width="1"/>
<circle cx="109.71" cy="459.58" r="3.2" fill="#1f77b4" fill-opacity="0.88" stroke="#000" stroke-width="1"/>
<circle cx="98.93" cy="482.43" r="3.2" fill="#1f77b4" fill-opacity="0.88" stroke="#000" stroke-width="1"/>
<circle cx="114.88" cy="449.73" r="3.2" fill="#1f77b4" fill-opacity="0.88" stroke="#000" stroke-width="1"/>
<circle cx="120.82" cy="440.45" r="3.2" fill="#1f77b4" fill-opacity="0.88" stroke="#000" stroke-width="1"/>
<circle cx="113.72" cy="458.92" r="3.2" fill="#1f77b4" fill-opacity="0.88" stroke="#000" stroke-width="1"/>
<circle cx="112.53" cy="478.24" r="3.2" fill="#ff7f0e" fill-opacity="0.88" stroke="#000" stroke-width="1"/>
<circle cx="105.88" cy="495.28" r="3.2" fill="#ff7f0e" fill-opacity="0.88" stroke="#000" stroke-width="1"/>
<circle cx="117.11" cy="472.19" r="3.2" fill="#ff7f0e" fill-opacity="0.88" stroke="#000" stroke-width="1"/>
<circle cx="121.2" cy="463.71" r="3.2" fill="#ff7f0e" fill-opacity="0.88" stroke="#000" stroke-width="1"/>
<circle cx="141.19" cy="425.19" r="3.2" fill="#ff7f0e" fill-opacity="0.88" stroke="#000" stroke-width="1"/>
<circle cx="125.94" cy="454.1" r="3.2" fill="#ff7f0e" fill-opacity="0.88" stroke="#000" stroke-width="1"/>
<circle cx="118.2" cy="469.35" r="3.2" fill="#ff7f0e" fill-opacity="0.88" stroke="#000" stroke-width="1"/>
<circle cx="115.05" cy="476.87" r="3.2" fill="#ff7f0e" fill-opacity="0.88" stroke="#000" stroke-width="1"/>
<circle cx="126.68" cy="460.86" r="3.2" fill="#ff7f0e" fill-opacity="0.88" stroke="#000" stroke-width="1"/>
<circle cx="134.72" cy="437.36" r="3.2" fill="#ff7f0e" fill-opacity="0.88" stroke="#000" stroke-width="1"/>
<circle cx="104.14" cy="506.01" r="3.2" fill="#ff7f0e" fill-opacity="0.88" stroke="#000" stroke-width="1"/>
<circle cx="106.72" cy="489.45" r="3.2" fill="#ff7f0e" fill-opacity="0.88" stroke="#000" stroke-width="1"/>
<circle cx="159.1" cy="391.6" r="3.2" fill="#ff7f0e" fill-opacity="0.88" stroke="#000" stroke-width="1"/>
<circle cx="105.29" cy="500.84" r="3.2" fill="#ff7f0e" fill-opacity="0.88" stroke="#000" stroke-width="1"/>
<circle cx="153.9" cy="398" r="3.2" fill="#ff7f0e" fill-opacity="0.88" stroke="#000" stroke-width="1"/>
<circle cx="123.65" cy="462.34" r="3.2" fill="#ff7f0e" fill-opacity="0.88" stroke="#000" stroke-width="1"/>
<circle cx="125.23" cy="461.17" r="3.2" fill="#ff7f0e" fill-opacity="0.88" stroke="#000" stroke-width="1"/>
<circle cx="119.66" cy="454.65" r="3.2" fill="#ff7f0e" fill-opacity="0.88" stroke="#000" stroke-width="1"/>
<circle cx="130.82" cy="441.5" r="3.2" fill="#ff7f0e" fill-opacity="0.88" stroke="#000" stroke-width="1"/>
<circle cx="117.54" cy="474.29" r="3.2" fill="#ff7f0e" fill-opacity="0.88" stroke="#000" stroke-width="1"/>
<circle cx="105.69" cy="497.71" r="3.2" fill="#ff7f0e" fill-opacity="0.88" stroke="#000" stroke-width="1"/>
<circle cx="111.89" cy="478.66" r="3.2" fill="#ff7f0e" fill-opacity="0.88" stroke="#000" stroke-width="1"/>
<circle cx="138.8" cy="432.84" r="3.2" fill="#ff7f0e" fill-opacity="0.88" stroke="#000" stroke-width="1"/>
<circle cx="133.49" cy="435.47" r="3.2" fill="#ff7f0e" fill-opacity="0.88" stroke="#000" stroke-width="1"/>
<circle cx="112.69" cy="486.09" r="3.2" fill="#ff7f0e" fill-opacity="0.88" stroke="#000" stroke-width="1"/>
<circle cx="156.2" cy="389.9" r="3.2" fill="#ff7f0e" fill-opacity="0.88" stroke="#000" stroke-width="1"/>
<circle cx="120.6" cy="472.64" r="3.2" fill="#ff7f0e" fill-opacity="0.88" stroke="#000" stroke-width="1"/>
<circle cx="121.3" cy="465.05" r="3.2" fill="#ff7f0e" fill-opacity="0.88" stroke="#000" stroke-width="1"/>
<circle cx="136.4" cy="433.01" r="3.2" fill="#ff7f0e" fill-opacity="0.88" stroke="#000" stroke-width="1"/>
<circle cx="125.24" cy="465.88" r="3.2" fill="#ff7f0e" fill-opacity="0.88" stroke="#000" stroke-width="1"/>
<circle cx="140.3" cy="437.16" r="3.2" fill="#ff7f0e" fill-opacity="0.88" stroke="#000" stroke-width="1"/>
<circle cx="125.45" cy="448.68" r="3.2" fill="#ff7f0e" fill-opacity="0.88" stroke="#000" stroke-width="1"/>
<circle cx="121.52" cy="471.18" r="3.2" fill="#ff7f0e" fill-opacity="0.88" stroke="#000" stroke-width="1"/>
<circle cx="130.94" cy="451.71" r="3.2" fill="#ff7f0e" fill-opacity="0.88" stroke="#000" stroke-width="1"/>
<circle cx="137.29" cy="433.17" r="3.2" fill="#ff7f0e" fill-opacity="0.88" stroke="#000" stroke-width="1"/>
<circle cx="120.31" cy="459.81" r="3.2" fill="#ff7f0e" fill-opacity="0.88" stroke="#000" stroke-width="1"/>
<circle cx="127.66" cy="450.37" r="3.2" fill="#ff7f0e" fill-opacity="0.88" stroke="#000" stroke-width="1"/>
<circle cx="119.43" cy="463.34" r="3.2" fill="#ff7f0e" fill-opacity="0.88" stroke="#000" stroke-width="1"/>
<circle cx="152.1" cy="405" r="3.2" fill="#ff7f0e" fill-opacity="0.88" stroke="#000" stroke-width="1"/>
<circle cx="146.2" cy="420.44" r="3.2" fill="#ff7f0e" fill-opacity="0.88" stroke="#000" stroke-width="1"/>
<circle cx="121.22" cy="465.2" r="3.2" fill="#ff7f0e" fill-opacity="0.88" stroke="#000" stroke-width="1"/>
<circle cx="104.78" cy="494.86" r="3.2" fill="#ff7f0e" fill-opacity="0.88" stroke="#000" stroke-width="1"/>
<circle cx="118.02" cy="470.82" r="3.2" fill="#ff7f0e" fill-opacity="0.88" stroke="#000" stroke-width="1"/>
<circle cx="131.66" cy="440.24" r="3.2" fill="#ff7f0e" fill-opacity="0.88" stroke="#000" stroke-width="1"/>
<circle cx="121.84" cy="462.1" r="3.2" fill="#ff7f0e" fill-opacity="0.88" stroke="#000" stroke-width="1"/>
<circle cx="123.84" cy="461.78" r="3.2" fill="#ff7f0e" fill-opacity="0.88" stroke="#000" stroke-width="1"/>
<circle cx="113.11" cy="485.63" r="3.2" fill="#ff7f0e" fill-opacity="0.88" stroke="#000" stroke-width="1"/>
<circle cx="113.47" cy="484.96" r="3.2" fill="#ff7f0e" fill-opacity="0.88" stroke="#000" stroke-width="1"/>
<circle cx="120.94" cy="461.52" r="3.2" fill="#ff7f0e" fill-opacity="0.88" stroke="#000" stroke-width="1"/>
<circle cx="126.56" cy="465.01" r="3.2" fill="#ff7f0e" fill-opacity="0.88" stroke="#000" stroke-width="1"/>
<circle cx="111.91" cy="491.45" r="3.2" fill="#ff7f0e" fill-opacity="0.88" stroke="#000" stroke-width="1"/>
<circle cx="123.35" cy="458.81" r="3.2" fill="#ff7f0e" fill-opacity="0.88" stroke="#000" stroke-width="1"/>
<circle cx="102.3" cy="510.5" r="3.2" fill="#ff7f0e" fill-opacity="0.88" stroke="#000" stroke-width="1"/>
<circle cx="135.62" cy="438.52" r="3.2" fill="#ff7f0e" fill-opacity="0.88" stroke="#000" stroke-width="1"/>
<circle cx="127.27" cy="446.53" r="3.2" fill="#ff7f0e" fill-opacity="0.88" stroke="#000" stroke-width="1"/>
<circle cx="139.52" cy="424.31" r="3.2" fill="#ff7f0e" fill-opacity="0.88" stroke="#000" stroke-width="1"/>
<circle cx="122.25" cy="471.86" r="3.2" fill="#ff7f0e" fill-opacity="0.88" stroke="#000" stroke-width="1"/>
<circle cx="129.66" cy="455.94" r="3.2" fill="#ff7f0e" fill-opacity="0.88" stroke="#000" stroke-width="1"/>
<circle cx="131.23" cy="446.43" r="3.2" fill="#ff7f0e" fill-opacity="0.88" stroke="#000" stroke-width="1"/>
<circle cx="111.51" cy="488.75" r="3.2" fill="#ff7f0e" fill-opacity="0.88" stroke="#000" stroke-width="1"/>
<circle cx="111.72" cy="489.88" r="3.2" fill="#ff7f0e" fill-opacity="0.88" stroke="#000" stroke-width="1"/>
<circle cx="125.67" cy="456.32" r="3.2" fill="#ff7f0e" fill-opacity="0.88" stroke="#000" stroke-width="1"/>
<circle cx="117.93" cy="472.36" r="3.2" fill="#ff7f0e" fill-opacity="0.88" stroke="#000" stroke-width="1"/>
<circle cx="136.32" cy="439.33" r="3.2" fill="#ff7f0e" fill-opacity="0.88" stroke="#000" stroke-width="1"/>
<circle cx="138.6" cy="430.95" r="3.2" fill="#ff7f0e" fill-opacity="0.88" stroke="#000" stroke-width="1"/>
<circle cx="133.02" cy="437.84" r="3.2" fill="#ff7f0e" fill-opacity="0.88" stroke="#000" stroke-width="1"/>
<circle cx="107.73" cy="489.86" r="3.2" fill="#ff7f0e" fill-opacity="0.88" stroke="#000" stroke-width="1"/>
<circle cx="130.72" cy="450.46" r="3.2" fill="#ff7f0e" fill-opacity="0.88" stroke="#000" stroke-width="1"/>
<circle cx="114.39" cy="480.55" r="3.2" fill="#ff7f0e" fill-opacity="0.88" stroke="#000" stroke-width="1"/>
<circle cx="123.37" cy="456.37" r="3.2" fill="#ff7f0e" fill-opacity="0.88" stroke="#000" stroke-width="1"/>
<circle cx="113.09" cy="482.39" r="3.2" fill="#ff7f0e" fill-opacity="0.88" stroke="#000" stroke-width="1"/>
<circle cx="133.79" cy="441.78" r="3.2" fill="#ff7f0e" fill-opacity="0.88" stroke="#000" stroke-width="1"/>
<circle cx="111.71" cy="488.05" r="3.2" fill="#ff7f0e" fill-opacity="0.88" stroke="#000" stroke-width="1"/>
<circle cx="103.24" cy="504.66" r="3.2" fill="#ff7f0e" fill-opacity="0.88" stroke="#000" stroke-width="1"/>
<circle cx="124.6" cy="450.72" r="3.2" fill="#ff7f0e" fill-opacity="0.88" stroke="#000" stroke-width="1"/>
<circle cx="124.09" cy="459.27" r="3.2" fill="#ff7f0e" fill-opacity="0.88" stroke="#000" stroke-width="1"/>
<circle cx="130.54" cy="438.29" r="3.2" fill="#ff7f0e" fill-opacity="0.88" stroke="#000" stroke-width="1"/>
<circle cx="120.87" cy="466.32" r="3.2" fill="#ff7f0e" fill-opacity="0.88" stroke="#000" stroke-width="1"/>
<circle cx="107.39" cy="493.49" r="3.2" fill="#ff7f0e" fill-opacity="0.88" stroke="#000" stroke-width="1"/>
<circle cx="127.49" cy="451.55" r="3.2" fill="#ff7f0e" fill-opacity="0.88" stroke="#000" stroke-width="1"/>
<circle cx="117.87" cy="478.74" r="3.2" fill="#ff7f0e" fill-opacity="0.88" stroke="#000" stroke-width="1"/>
<circle cx="113.59" cy="479.44" r="3.2" fill="#ff7f0e" fill-opacity="0.88" stroke="#000" stroke-width="1"/>
<circle cx="127.86" cy="467.48" r="3.2" fill="#ff7f0e" fill-opacity="0.88" stroke="#000" stroke-width="1"/>
<circle cx="114.53" cy="482.71" r="3.2" fill="#ff7f0e" fill-opacity="0.88" stroke="#000" stroke-width="1"/>
<circle cx="112.61" cy="492.02" r="3.2" fill="#ff7f0e" fill-opacity="0.88" stroke="#000" stroke-width="1"/>
<circle cx="117.94" cy="475.46" r="3.2" fill="#ff7f0e" fill-opacity="0.88" stroke="#000" stroke-width="1"/>
<circle cx="112.8" cy="486.5" r="3.2" fill="#ff7f0e" fill-opacity="0.88" stroke="#000" stroke-width="1"/>
<circle cx="129.1" cy="444.12" r="3.2" fill="#ff7f0e" fill-opacity="0.88" stroke="#000" stroke-width="1"/>
<circle cx="117.22" cy="470.97" r="3.2" fill="#ff7f0e" fill-opacity="0.88" stroke="#000" stroke-width="1"/>
<circle cx="123.28" cy="464.73" r="3.2" fill="#ff7f0e" fill-opacity="0.88" stroke="#000" stroke-width="1"/>
<circle cx="131.93" cy="442.1" r="3.2" fill="#ff7f0e" fill-opacity="0.88" stroke="#000" stroke-width="1"/>
<circle cx="115.07" cy="469.58" r="3.2" fill="#ff7f0e" fill-opacity="0.88" stroke="#000" stroke-width="1"/>
<circle cx="130.41" cy="448.11" r="3.2" fill="#ff7f0e" fill-opacity="0.88" stroke="#000" stroke-width="1"/>
<circle cx="127.96" cy="446.76" r="3.2" fill="#ff7f0e" fill-opacity="0.88" stroke="#000" stroke-width="1"/>
<circle cx="106.55" cy="492.08" r="3.2" fill="#ff7f0e" fill-opacity="0.88" stroke="#000" stroke-width="1"/>
<circle cx="119.37" cy="464.87" r="3.2" fill="#ff7f0e" fill-opacity="0.88" stroke="#000" stroke-width="1"/>
<circle cx="102.34" cy="502.56" r="3.2" fill="#ff7f0e" fill-opacity="0.88" stroke="#000" stroke-width="1"/>
<circle cx="116.26" cy="469.74" r="3.2" fill="#ff7f0e" fill-opacity="0.88" stroke="#000" stroke-width="1"/>
<circle cx="118.05" cy="472.85" r="3.2" fill="#ff7f0e" fill-opacity="0.88" stroke="#000" stroke-width="1"/>
<circle cx="129.23" cy="444.7" r="3.2" fill="#ff7f0e" fill-opacity="0.88" stroke="#000" stroke-width="1"/>
<circle cx="130.56" cy="468.36" r="3.2" fill="#2ca02c" fill-opacity="0.88" stroke="#000" stroke-width="1"/>
<circle cx="125.04" cy="482.22" r="3.2" fill="#2ca02c" fill-opacity="0.88" stroke="#000" stroke-width="1"/>
<circle cx="142.99" cy="448.22" r="3.2" fill="#2ca02c" fill-opacity="0.88" stroke="#000" stroke-width="1"/>
<circle cx="146.39" cy="444.97" r="3.2" fill="#2ca02c" fill-opacity="0.88" stroke="#000" stroke-width="1"/>
<circle cx="123.87" cy="488.38" r="3.2" fill="#2ca02c" fill-opacity="0.88" stroke="#000" stroke-width="1"/>
<circle cx="138.48" cy="459.76" r="3.2" fill="#2ca02c" fill-opacity="0.88" stroke="#000" stroke-width="1"/>
<circle cx="136.77" cy="462.95" r="3.2" fill="#2ca02c" fill-opacity="0.88" stroke="#000" stroke-width="1"/>
<circle cx="132.37" cy="465.31" r="3.2" fill="#2ca02c" fill-opacity="0.88" stroke="#000" stroke-width="1"/>
<circle cx="147.95" cy="431.96" r="3.2" fill="#2ca02c" fill-opacity="0.88" stroke="#000" stroke-width="1"/>
<circle cx="131.52" cy="470.58" r="3.2" fill="#2ca02c" fill-opacity="0.88" stroke="#000" stroke-width="1"/>
<circle cx="126.4" cy="474.48" r="3.2" fill="#2ca02c" fill-opacity="0.88" stroke="#000" stroke-width="1"/>
<circle cx="118.94" cy="499.72" r="3.2" fill="#2ca02c" fill-opacity="0.88" stroke="#000" stroke-width="1"/>
<circle cx="130.04" cy="461" r="3.2" fill="#2ca02c" fill-opacity="0.88" stroke="#000" stroke-width="1"/>
<circle cx="153.33" cy="432.74" r="3.2" fill="#2ca02c" fill-opacity="0.88" stroke="#000" stroke-width="1"/>
<circle cx="127.34" cy="472.87" r="3.2" fill="#2ca02c" fill-opacity="0.88" stroke="#000" stroke-width="1"/>
<circle cx="133.61" cy="464.37" r="3.2" fill="#2ca02c" fill-opacity="0.88" stroke="#000" stroke-width="1"/>
<circle cx="138.65" cy="460.97" r="3.2" fill="#2ca02c" fill-opacity="0.88" stroke="#000" stroke-width="1"/>
<circle cx="128.05" cy="478.38" r="3.2" fill="#2ca02c" fill-opacity="0.88" stroke="#000" stroke-width="1"/>
<circle cx="141.8" cy="451.83" r="3.2" fill="#2ca02c" fill-opacity="0.88" stroke="#000" stroke-width="1"/>
<circle cx="137.42" cy="462.22" r="3.2" fill="#2ca02c" fill-opacity="0.88" stroke="#000" stroke-width="1"/>
<circle cx="140.04" cy="456.53" r="3.2" fill="#2ca02c" fill-opacity="0.88" stroke="#000" stroke-width="1"/>
<circle cx="172.6" cy="401.5" r="3.2" fill="#2ca02c" fill-opacity="0.88" stroke="#000" stroke-width="1"/>
<circle cx="129.11" cy="477.23" r="3.2" fill="#2ca02c" fill-opacity="0.88" stroke="#000" stroke-width="1"/>
<circle cx="149.88" cy="426.87" r="3.2" fill="#2ca02c" fill-opacity="0.88" stroke="#000" stroke-width="1"/>
<circle cx="144.72" cy="451.28" r="3.2" fill="#2ca02c" fill-opacity="0.88" stroke="#000" stroke-width="1"/>
<circle cx="157.92" cy="413.21" r="3.2" fill="#2ca02c" fill-opacity="0.88" stroke="#000" stroke-width="1"/>
<circle cx="125.12" cy="479.58" r="3.2" fill="#2ca02c" fill-opacity="0.88" stroke="#000" stroke-width="1"/>
<circle cx="135.48" cy="464.57" r="3.2" fill="#2ca02c" fill-opacity="0.88" stroke="#000" stroke-width="1"/>
<circle cx="147.68" cy="445.39" r="3.2" fill="#2ca02c" fill-opacity="0.88" stroke="#000" stroke-width="1"/>
<circle cx="133.73" cy="464.16" r="3.2" fill="#2ca02c" fill-opacity="0.88" stroke="#000" stroke-width="1"/>
<circle cx="149.94" cy="431.74" r="3.2" fill="#2ca02c" fill-opacity="0.88" stroke="#000" stroke-width="1"/>
<circle cx="144.64" cy="445.73" r="3.2" fill="#2ca02c" fill-opacity="0.88" stroke="#000" stroke-width="1"/>
<circle cx="123.49" cy="482.53" r="3.2" fill="#2ca02c" fill-opacity="0.88" stroke="#000" stroke-width="1"/>
<circle cx="137.81" cy="459.23" r="3.2" fill="#2ca02c" fill-opacity="0.88" stroke="#000" stroke-width="1"/>
<circle cx="138.43" cy="456.6" r="3.2" fill="#2ca02c" fill-opacity="0.88" stroke="#000" stroke-width="1"/>
<circle cx="166.1" cy="391" r="3.2" fill="#2ca02c" fill-opacity="0.88" stroke="#000" stroke-width="1"/>
<circle cx="174.9" cy="377.6" r="3.2" fill="#2ca02c" fill-opacity="0.88" stroke="#000" stroke-width="1"/>
<circle cx="126.23" cy="477.69" r="3.2" fill="#2ca02c" fill-opacity="0.88" stroke="#000" stroke-width="1"/>
<circle cx="136.54" cy="459.8" r="3.2" fill="#2ca02c" fill-opacity="0.88" stroke="#000" stroke-width="1"/>
<circle cx="146.57" cy="439.21" r="3.2" fill="#2ca02c" fill-opacity="0.88" stroke="#000" stroke-width="1"/>
<circle cx="119.49" cy="495.26" r="3.2" fill="#2ca02c" fill-opacity="0.88" stroke="#000" stroke-width="1"/>
<circle cx="145.64" cy="440.73" r="3.2" fill="#2ca02c" fill-opacity="0.88" stroke="#000" stroke-width="1"/>
<circle cx="128.92" cy="475.33" r="3.2" fill="#2ca02c" fill-opacity="0.88" stroke="#000" stroke-width="1"/>
<circle cx="138.55" cy="451.32" r="3.2" fill="#2ca02c" fill-opacity="0.88" stroke="#000" stroke-width="1"/>
<circle cx="119.89" cy="499.75" r="3.2" fill="#2ca02c" fill-opacity="0.88" stroke="#000" stroke-width="1"/>
<circle cx="127.97" cy="476.93" r="3.2" fill="#2ca02c" fill-opacity="0.88" stroke="#000" stroke-width="1"/>
<circle cx="121.29" cy="488.16" r="3.2" fill="#2ca02c" fill-opacity="0.88" stroke="#000" stroke-width="1"/>
<circle cx="136.85" cy="458.41" r="3.2" fill="#2ca02c" fill-opacity="0.88" stroke="#000" stroke-width="1"/>
<circle cx="147.79" cy="447.93" r="3.2" fill="#2ca02c" fill-opacity="0.88" stroke="#000" stroke-width="1"/>
<circle cx="130.35" cy="468.29" r="3.2" fill="#2ca02c" fill-opacity="0.88" stroke="#000" stroke-width="1"/>
<circle cx="117.44" cy="501.92" r="3.2" fill="#2ca02c" fill-opacity="0.88" stroke="#000" stroke-width="1"/>
<circle cx="138.19" cy="451.91" r="3.2" fill="#2ca02c" fill-opacity="0.88" stroke="#000" stroke-width="1"/>
<circle cx="175.5" cy="397.4" r="3.2" fill="#2ca02c" fill-opacity="0.88" stroke="#000" stroke-width="1"/>
<circle cx="130.34" cy="472.4" r="3.2" fill="#2ca02c" fill-opacity="0.88" stroke="#000" stroke-width="1"/>
<circle cx="127.64" cy="479.32" r="3.2" fill="#2ca02c" fill-opacity="0.88" stroke="#000" stroke-width="1"/>
<circle cx="144.34" cy="450.82" r="3.2" fill="#2ca02c" fill-opacity="0.88" stroke="#000" stroke-width="1"/>
<circle cx="144.72" cy="445.82" r="3.2" fill="#2ca02c" fill-opacity="0.88" stroke="#000" stroke-width="1"/>
<circle cx="136.08" cy="455.6" r="3.2" fill="#2ca02c" fill-opacity="0.88" stroke="#000" stroke-width="1"/>
<circle cx="136.6" cy="462.17" r="3.2" fill="#2ca02c" fill-opacity="0.88" stroke="#000" stroke-width="1"/>
<circle cx="176.3" cy="378.8" r="3.2" fill="#2ca02c" fill-opacity="0.88" stroke="#000" stroke-width="1"/>
<circle cx="133.37" cy="464.99" r="3.2" fill="#2ca02c" fill-opacity="0.88" stroke="#000" stroke-width="1"/>
<circle cx="145.38" cy="446.05" r="3.2" fill="#2ca02c" fill-opacity="0.88" stroke="#000" stroke-width="1"/>
<circle cx="145.1" cy="443.61" r="3.2" fill="#2ca02c" fill-opacity="0.88" stroke="#000" stroke-width="1"/>
<circle cx="150.89" cy="424.37" r="3.2" fill="#2ca02c" fill-opacity="0.88" stroke="#000" stroke-width="1"/>
<circle cx="149.08" cy="428.44" r="3.2" fill="#2ca02c" fill-opacity="0.88" stroke="#000" stroke-width="1"/>
<circle cx="120.85" cy="497.71" r="3.2" fill="#2ca02c" fill-opacity="0.88" stroke="#000" stroke-width="1"/>
<circle cx="137.11" cy="453.08" r="3.2" fill="#2ca02c" fill-opacity="0.88" stroke="#000" stroke-width="1"/>
<circle cx="130.7" cy="471.96" r="3.2" fill="#2ca02c" fill-opacity="0.88" stroke="#000" stroke-width="1"/>
<circle cx="133.44" cy="465.94" r="3.2" fill="#2ca02c" fill-opacity="0.88" stroke="#000" stroke-width="1"/>
<circle cx="126.54" cy="487.93" r="3.2" fill="#2ca02c" fill-opacity="0.88" stroke="#000" stroke-width="1"/>
<circle cx="155.69" cy="425.06" r="3.2" fill="#2ca02c" fill-opacity="0.88" stroke="#000" stroke-width="1"/>
<circle cx="140.18" cy="465.83" r="3.2" fill="#2ca02c" fill-opacity="0.88" stroke="#000" stroke-width="1"/>
<circle cx="114.25" cy="502.18" r="3.2" fill="#2ca02c" fill-opacity="0.88" stroke="#000" stroke-width="1"/>
<circle cx="152.57" cy="429.63" r="3.2" fill="#2ca02c" fill-opacity="0.88" stroke="#000" stroke-width="1"/>
<circle cx="146.93" cy="440.47" r="3.2" fill="#2ca02c" fill-opacity="0.88" stroke="#000" stroke-width="1"/>
<circle cx="135.11" cy="460.57" r="3.2" fill="#2ca02c" fill-opacity="0.88" stroke="#000" stroke-width="1"/>
<circle cx="134.99" cy="459.27" r="3.2" fill="#2ca02c" fill-opacity="0.88" stroke="#000" stroke-width="1"/>
<circle cx="139.06" cy="452.34" r="3.2" fill="#2ca02c" fill-opacity="0.88" stroke="#000" stroke-width="1"/>
<circle cx="132.84" cy="465.01" r="3.2" fill="#2ca02c" fill-opacity="0.88" stroke="#000" stroke-width="1"/>
<circle cx="129.83" cy="469.33" r="3.2" fill="#2ca02c" fill-opacity="0.88" stroke="#000" stroke-width="1"/>
<circle cx="136.87" cy="452.38" r="3.2" fill="#2ca02c" fill-opacity="0.88" stroke="#000" stroke-width="1"/>
<circle cx="130.35" cy="476.55" r="3.2" fill="#2ca02c" fill-opacity="0.88" stroke="#000" stroke-width="1"/>
<circle cx="128.14" cy="478.7" r="3.2" fill="#2ca02c" fill-opacity="0.88" stroke="#000" stroke-width="1"/>
<circle cx="124.13" cy="491.8" r="3.2" fill="#2ca02c" fill-opacity="0.88" stroke="#000" stroke-width="1"/>
<circle cx="141.65" cy="450.44" r="3.2" fill="#2ca02c" fill-opacity="0.88" stroke="#000" stroke-width="1"/>
<circle cx="156.91" cy="415.6" r="3.2" fill="#2ca02c" fill-opacity="0.88" stroke="#000" stroke-width="1"/>
<circle cx="122.24" cy="489.34" r="3.2" fill="#2ca02c" fill-opacity="0.88" stroke="#000" stroke-width="1"/>
<circle cx="126.71" cy="482.6" r="3.2" fill="#2ca02c" fill-opacity="0.88" stroke="#000" stroke-width="1"/>
<circle cx="156.39" cy="422.61" r="3.2" fill="#2ca02c" fill-opacity="0.88" stroke="#000" stroke-width="1"/>
<circle cx="118.91" cy="497.56" r="3.2" fill="#2ca02c" fill-opacity="0.88" stroke="#000" stroke-width="1"/>
<circle cx="114.2" cy="510.5" r="3.2" fill="#2ca02c" fill-opacity="0.88" stroke="#000" stroke-width="1"/>
<circle cx="134.49" cy="471.78" r="3.2" fill="#2ca02c" fill-opacity="0.88" stroke="#000" stroke-width="1"/>
<circle cx="121.9" cy="503.83" r="3.2" fill="#2ca02c" fill-opacity="0.88" stroke="#000" stroke-width="1"/>
<circle cx="128.27" cy="474.24" r="3.2" fill="#2ca02c" fill-opacity="0.88" stroke="#000" stroke-width="1"/>
<circle cx="136.89" cy="466.74" r="3.2" fill="#2ca02c" fill-opacity="0.88" stroke="#000" stroke-width="1"/>
<circle cx="133.67" cy="461.6" r="3.2" fill="#2ca02c" fill-opacity="0.88" stroke="#000" stroke-width="1"/>
<circle cx="152.26" cy="415.85" r="3.2" fill="#2ca02c" fill-opacity="0.88" stroke="#000" stroke-width="1"/>
<circle cx="117.96" cy="493.97" r="3.2" fill="#2ca02c" fill-opacity="0.88" stroke="#000" stroke-width="1"/>
<circle cx="131.24" cy="470.96" r="3.2" fill="#2ca02c" fill-opacity="0.88" stroke="#000" stroke-width="1"/>
<circle cx="140.33" cy="451.89" r="3.2" fill="#2ca02c" fill-opacity="0.88" stroke="#000" stroke-width="1"/>
<circle cx="144.09" cy="475.1" r="3.2" fill="#d62728" fill-opacity="0.88" stroke="#000" stroke-width="1"/>
<circle cx="139.32" cy="488.41" r="3.2" fill="#d62728" fill-opacity="0.88" stroke="#000" stroke-width="1"/>
<circle cx="142.06" cy="475.67" r="3.2" fill="#d62728" fill-opacity="0.88" stroke="#000" stroke-width="1"/>
<circle cx="157.85" cy="451.64" r="3.2" fill="#d62728" fill-opacity="0.88" stroke="#000" stroke-width="1"/>
<circle cx="143.8" cy="485.22" r="3.2" fill="#d62728" fill-opacity="0.88" stroke="#000" stroke-width="1"/>
<circle cx="155.58" cy="449.3" r="3.2" fill="#d62728" fill-opacity="0.88" stroke="#000" stroke-width="1"/>
<circle cx="142.31" cy="484.37" r="3.2" fill="#d62728" fill-opacity="0.88" stroke="#000" stroke-width="1"/>
<circle cx="156.56" cy="448.63" r="3.2" fill="#d62728" fill-opacity="0.88" stroke="#000" stroke-width="1"/>
<circle cx="145.6" cy="475.38" r="3.2" fill="#d62728" fill-opacity="0.88" stroke="#000" stroke-width="1"/>
<circle cx="145.67" cy="471.63" r="3.2" fill="#d62728" fill-opacity="0.88" stroke="#000" stroke-width="1"/>
<circle cx="147.39" cy="479.3" r="3.2" fill="#d62728" fill-opacity="0.88" stroke="#000" stroke-width="1"/>
<circle cx="147.7" cy="472.61" r="3.2" fill="#d62728" fill-opacity="0.88" stroke="#000" stroke-width="1"/>
<circle cx="141.19" cy="481.26" r="3.2" fill="#d62728" fill-opacity="0.88" stroke="#000" stroke-width="1"/>
<circle cx="170.36" cy="412.36" r="3.2" fill="#d62728" fill-opacity="0.88" stroke="#000" stroke-width="1"/>
<circle cx="137.97" cy="486.88" r="3.2" fill="#d62728" fill-opacity="0.88" stroke="#000" stroke-width="1"/>
<circle cx="147.47" cy="465.55" r="3.2" fill="#d62728" fill-opacity="0.88" stroke="#000" stroke-width="1"/>
<circle cx="147.53" cy="474.39" r="3.2" fill="#d62728" fill-opacity="0.88" stroke="#000" stroke-width="1"/>
<circle cx="152.33" cy="464.86" r="3.2" fill="#d62728" fill-opacity="0.88" stroke="#000" stroke-width="1"/>
<circle cx="146.09" cy="465.94" r="3.2" fill="#d62728" fill-opacity="0.88" stroke="#000" stroke-width="1"/>
<circle cx="158.19" cy="452.83" r="3.2" fill="#d62728" fill-opacity="0.88" stroke="#000" stroke-width="1"/>
<circle cx="147.63" cy="463.78" r="3.2" fill="#d62728" fill-opacity="0.88" stroke="#000" stroke-width="1"/>
<circle cx="145.55" cy="468.72" r="3.2" fill="#d62728" fill-opacity="0.88" stroke="#000" stroke-width="1"/>
<circle cx="159.55" cy="430.86" r="3.2" fill="#d62728" fill-opacity="0.88" stroke="#000" stroke-width="1"/>
<circle cx="153.28" cy="459.64" r="3.2" fill="#d62728" fill-opacity="0.88" stroke="#000" stroke-width="1"/>
<circle cx="143.24" cy="469.9" r="3.2" fill="#d62728" fill-opacity="0.88" stroke="#000" stroke-width="1"/>
<circle cx="138.31" cy="486.63" r="3.2" fill="#d62728" fill-opacity="0.88" stroke="#000" stroke-width="1"/>
<circle cx="142.76" cy="476.52" r="3.2" fill="#d62728" fill-opacity="0.88" stroke="#000" stroke-width="1"/>
<circle cx="148.6" cy="463.66" r="3.2" fill="#d62728" fill-opacity="0.88" stroke="#000" stroke-width="1"/>
<circle cx="141.47" cy="491.97" r="3.2" fill="#d62728" fill-opacity="0.88" stroke="#000" stroke-width="1"/>
<circle cx="153.95" cy="455.57" r="3.2" fill="#d62728" fill-opacity="0.88" stroke="#000" stroke-width="1"/>
<circle cx="144.85" cy="476.91" r="3.2" fill="#d62728" fill-opacity="0.88" stroke="#000" stroke-width="1"/>
<circle cx="147.96" cy="467.33" r="3.2" fill="#d62728" fill-opacity="0.88" stroke="#000" stroke-width="1"/>
<circle cx="134.88" cy="502.38" r="3.2" fill="#d62728" fill-opacity="0.88" stroke="#000" stroke-width="1"/>
<circle cx="147.27" cy="469.83" r="3.2" fill="#d62728" fill-opacity="0.88" stroke="#000" stroke-width="1"/>
<circle cx="157.42" cy="448.52" r="3.2" fill="#d62728" fill-opacity="0.88" stroke="#000" stroke-width="1"/>
<circle cx="153.58" cy="454.63" r="3.2" fill="#d62728" fill-opacity="0.88" stroke="#000" stroke-width="1"/>
<circle cx="143.03" cy="482.98" r="3.2" fill="#d62728" fill-opacity="0.88" stroke="#000" stroke-width="1"/>
<circle cx="154.78" cy="462.84" r="3.2" fill="#d62728" fill-opacity="0.88" stroke="#000" stroke-width="1"/>
<circle cx="164.3" cy="429.46" r="3.2" fill="#d62728" fill-opacity="0.88" stroke="#000" stroke-width="1"/>
<circle cx="153.83" cy="448.52" r="3.2" fill="#d62728" fill-opacity="0.88" stroke="#000" stroke-width="1"/>
<circle cx="144.13" cy="468.01" r="3.2" fill="#d62728" fill-opacity="0.88" stroke="#000" stroke-width="1"/>
<circle cx="121" cy="529.3" r="3.2" fill="#d62728" fill-opacity="0.88" stroke="#000" stroke-width="1"/>
<circle cx="143.51" cy="470.04" r="3.2" fill="#d62728" fill-opacity="0.88" stroke="#000" stroke-width="1"/>
<circle cx="143.56" cy="476.63" r="3.2" fill="#d62728" fill-opacity="0.88" stroke="#000" stroke-width="1"/>
<circle cx="155.8" cy="458.18" r="3.2" fill="#d62728" fill-opacity="0.88" stroke="#000" stroke-width="1"/>
<circle cx="157.65" cy="442.91" r="3.2" fill="#d62728" fill-opacity="0.88" stroke="#000" stroke-width="1"/>
<circle cx="161.51" cy="437.46" r="3.2" fill="#d62728" fill-opacity="0.88" stroke="#000" stroke-width="1"/>
<circle cx="139.4" cy="485.81" r="3.2" fill="#d62728" fill-opacity="0.88" stroke="#000" stroke-width="1"/>
<circle cx="162.52" cy="440.83" r="3.2" fill="#d62728" fill-opacity="0.88" stroke="#000" stroke-width="1"/>
<circle cx="146.5" cy="477.49" r="3.2" fill="#d62728" fill-opacity="0.88" stroke="#000" stroke-width="1"/>
<circle cx="172.35" cy="417.99" r="3.2" fill="#d62728" fill-opacity="0.88" stroke="#000" stroke-width="1"/>
<circle cx="151.68" cy="454.02" r="3.2" fill="#d62728" fill-opacity="0.88" stroke="#000" stroke-width="1"/>
<circle cx="155.31" cy="462.68" r="3.2" fill="#d62728" fill-opacity="0.88" stroke="#000" stroke-width="1"/>
<circle cx="146.18" cy="479.05" r="3.2" fill="#d62728" fill-opacity="0.88" stroke="#000" stroke-width="1"/>
<circle cx="157.84" cy="448.3" r="3.2" fill="#d62728" fill-opacity="0.88" stroke="#000" stroke-width="1"/>
<circle cx="144.6" cy="477.65" r="3.2" fill="#d62728" fill-opacity="0.88" stroke="#000" stroke-width="1"/>
<circle cx="133.73" cy="494.25" r="3.2" fill="#d62728" fill-opacity="0.88" stroke="#000" stroke-width="1"/>
<circle cx="150.96" cy="467.44" r="3.2" fill="#d62728" fill-opacity="0.88" stroke="#000" stroke-width="1"/>
<circle cx="150.7" cy="463.32" r="3.2" fill="#d62728" fill-opacity="0.88" stroke="#000" stroke-width="1"/>
<circle cx="150.1" cy="466.34" r="3.2" fill="#d62728" fill-opacity="0.88" stroke="#000" stroke-width="1"/>
<circle cx="142.31" cy="489.91" r="3.2" fill="#d62728" fill-opacity="0.88" stroke="#000" stroke-width="1"/>
<circle cx="146.05" cy="481.44" r="3.2" fill="#d62728" fill-opacity="0.88" stroke="#000" stroke-width="1"/>
<circle cx="134.16" cy="493.51" r="3.2" fill="#d62728" fill-opacity="0.88" stroke="#000" stroke-width="1"/>
<circle cx="164.22" cy="432.2" r="3.2" fill="#d62728" fill-opacity="0.88" stroke="#000" stroke-width="1"/>
<circle cx="145.32" cy="472.15" r="3.2" fill="#d62728" fill-opacity="0.88" stroke="#000" stroke-width="1"/>
<circle cx="152.61" cy="458.62" r="3.2" fill="#d62728" fill-opacity="0.88" stroke="#000" stroke-width="1"/>
<circle cx="142.5" cy="481.56" r="3.2" fill="#d62728" fill-opacity="0.88" stroke="#000" stroke-width="1"/>
<circle cx="155.17" cy="453.29" r="3.2" fill="#d62728" fill-opacity="0.88" stroke="#000" stroke-width="1"/>
<circle cx="187.2" cy="385.8" r="3.2" fill="#d62728" fill-opacity="0.88" stroke="#000" stroke-width="1"/>
<circle cx="154.79" cy="459.85" r="3.2" fill="#d62728" fill-opacity="0.88" stroke="#000" stroke-width="1"/>
<circle cx="152.08" cy="454.23" r="3.2" fill="#d62728" fill-opacity="0.88" stroke="#000" stroke-width="1"/>
<circle cx="151.41" cy="459.93" r="3.2" fill="#d62728" fill-opacity="0.88" stroke="#000" stroke-width="1"/>
<circle cx="153.52" cy="456.03" r="3.2" fill="#d62728" fill-opacity="0.88" stroke="#000" stroke-width="1"/>
<circle cx="144.28" cy="476.73" r="3.2" fill="#d62728" fill-opacity="0.88" stroke="#000" stroke-width="1"/>
<circle cx="156.38" cy="459.05" r="3.2" fill="#d62728" fill-opacity="0.88" stroke="#000" stroke-width="1"/>
<circle cx="151.05" cy="459.56" r="3.2" fill="#d62728" fill-opacity="0.88" stroke="#000" stroke-width="1"/>
<circle cx="165.33" cy="438.03" r="3.2" fill="#d62728" fill-opacity="0.88" stroke="#000" stroke-width="1"/>
<circle cx="166.99" cy="433.01" r="3.2" fill="#d62728" fill-opacity="0.88" stroke="#000" stroke-width="1"/>
<circle cx="184.8" cy="399.8" r="3.2" fill="#d62728" fill-opacity="0.88" stroke="#000" stroke-width="1"/>
<circle cx="150.81" cy="465.67" r="3.2" fill="#d62728" fill-opacity="0.88" stroke="#000" stroke-width="1"/>
<circle cx="129.5" cy="514.8" r="3.2" fill="#d62728" fill-opacity="0.88" stroke="#000" stroke-width="1"/>
<circle cx="146.69" cy="488.02" r="3.2" fill="#d62728" fill-opacity="0.88" stroke="#000" stroke-width="1"/>
<circle cx="151.58" cy="458.57" r="3.2" fill="#d62728" fill-opacity="0.88" stroke="#000" stroke-width="1"/>
<circle cx="147.51" cy="459.36" r="3.2" fill="#d62728" fill-opacity="0.88" stroke="#000" stroke-width="1"/>
<circle cx="153.4" cy="460.76" r="3.2" fill="#d62728" fill-opacity="0.88" stroke="#000" stroke-width="1"/>
<circle cx="149.89" cy="455.09" r="3.2" fill="#d62728" fill-opacity="0.88" stroke="#000" stroke-width="1"/>
<circle cx="150.55" cy="462.77" r="3.2" fill="#d62728" fill-opacity="0.88" stroke="#000" stroke-width="1"/>
<circle cx="149.78" cy="464.29" r="3.2" fill="#d62728" fill-opacity="0.88" stroke="#000" stroke-width="1"/>
<circle cx="154.81" cy="458.14" r="3.2" fill="#d62728" fill-opacity="0.88" stroke="#000" stroke-width="1"/>
<circle cx="159.53" cy="439.97" r="3.2" fill="#d62728" fill-opacity="0.88" stroke="#000" stroke-width="1"/>
<circle cx="133.21" cy="503.44" r="3.2" fill="#d62728" fill-opacity="0.88" stroke="#000" stroke-width="1"/>
<circle cx="149.3" cy="468.43" r="3.2" fill="#d62728" fill-opacity="0.88" stroke="#000" stroke-width="1"/>
<circle cx="154.57" cy="454.87" r="3.2" fill="#d62728" fill-opacity="0.88" stroke="#000" stroke-width="1"/>
<circle cx="170.51" cy="422.63" r="3.2" fill="#d62728" fill-opacity="0.88" stroke="#000" stroke-width="1"/>
<circle cx="160.56" cy="434.97" r="3.2" fill="#d62728" fill-opacity="0.88" stroke="#000" stroke-width="1"/>
<circle cx="151.11" cy="458.56" r="3.2" fill="#d62728" fill-opacity="0.88" stroke="#000" stroke-width="1"/>
<circle cx="147.75" cy="469.41" r="3.2" fill="#d62728" fill-opacity="0.88" stroke="#000" stroke-width="1"/>
<circle cx="165" cy="434.14" r="3.2" fill="#d62728" fill-opacity="0.88" stroke="#000" stroke-width="1"/>
<circle cx="177.2" cy="405" r="3.2" fill="#d62728" fill-opacity="0.88" stroke="#000" stroke-width="1"/>
<circle cx="157.36" cy="443.52" r="3.2" fill="#d62728" fill-opacity="0.88" stroke="#000" stroke-width="1"/>
<circle cx="166.86" cy="451.38" r="3.2" fill="#9467bd" fill-opacity="0.88" stroke="#000" stroke-width="1"/>
<circle cx="174.5" cy="429.11" r="3.2" fill="#9467bd" fill-opacity="0.88" stroke="#000" stroke-width="1"/>
<circle cx="144.04" cy="494.62" r="3.2" fill="#9467bd" fill-opacity="0.88" stroke="#000" stroke-width="1"/>
<circle cx="179.27" cy="418.53" r="3.2" fill="#9467bd" fill-opacity="0.88" stroke="#000" stroke-width="1"/>
<circle cx="162.67" cy="464.51" r="3.2" fill="#9467bd" fill-opacity="0.88" stroke="#000" stroke-width="1"/>
<circle cx="164.84" cy="457.7" r="3.2" fill="#9467bd" fill-opacity="0.88" stroke="#000" stroke-width="1"/>
<circle cx="176" cy="426.65" r="3.2" fill="#9467bd" fill-opacity="0.88" stroke="#000" stroke-width="1"/>
<circle cx="169.24" cy="458.74" r="3.2" fill="#9467bd" fill-opacity="0.88" stroke="#000" stroke-width="1"/>
<circle cx="147.17" cy="493.13" r="3.2" fill="#9467bd" fill-opacity="0.88" stroke="#000" stroke-width="1"/>
<circle cx="161.62" cy="458.94" r="3.2" fill="#9467bd" fill-opacity="0.88" stroke="#000" stroke-width="1"/>
<circle cx="160.39" cy="468.2" r="3.2" fill="#9467bd" fill-opacity="0.88" stroke="#000" stroke-width="1"/>
<circle cx="147.25" cy="491.88" r="3.2" fill="#9467bd" fill-opacity="0.88" stroke="#000" stroke-width="1"/>
<circle cx="156.8" cy="478.35" r="3.2" fill="#9467bd" fill-opacity="0.88" stroke="#000" stroke-width="1"/>
<circle cx="156.46" cy="470.4" r="3.2" fill="#9467bd" fill-opacity="0.88" stroke="#000" stroke-width="1"/>
<circle cx="154.34" cy="486.14" r="3.2" fill="#9467bd" fill-opacity="0.88" stroke="#000" stroke-width="1"/>
<circle cx="161.51" cy="460.88" r="3.2" fill="#9467bd" fill-opacity="0.88" stroke="#000" stroke-width="1"/>
<circle cx="172.84" cy="438.23" r="3.2" fill="#9467bd" fill-opacity="0.88" stroke="#000" stroke-width="1"/>
<circle cx="155.78" cy="478.14" r="3.2" fill="#9467bd" fill-opacity="0.88" stroke="#000" stroke-width="1"/>
<circle cx="172.4" cy="440.85" r="3.2" fill="#9467bd" fill-opacity="0.88" stroke="#000" stroke-width="1"/>
<circle cx="152.31" cy="477.72" r="3.2" fill="#9467bd" fill-opacity="0.88" stroke="#000" stroke-width="1"/>
<circle cx="150.06" cy="482.22" r="3.2" fill="#9467bd" fill-opacity="0.88" stroke="#000" stroke-width="1"/>
<circle cx="148.49" cy="494.97" r="3.2" fill="#9467bd" fill-opacity="0.88" stroke="#000" stroke-width="1"/>
<circle cx="164.13" cy="456.62" r="3.2" fill="#9467bd" fill-opacity="0.88" stroke="#000" stroke-width="1"/>
<circle cx="154.12" cy="480.14" r="3.2" fill="#9467bd" fill-opacity="0.88" stroke="#000" stroke-width="1"/>
<circle cx="168.34" cy="453.02" r="3.2" fill="#9467bd" fill-opacity="0.88" stroke="#000" stroke-width="1"/>
<circle cx="154.71" cy="471.19" r="3.2" fill="#9467bd" fill-opacity="0.88" stroke="#000" stroke-width="1"/>
<circle cx="158.36" cy="464.69" r="3.2" fill="#9467bd" fill-opacity="0.88" stroke="#000" stroke-width="1"/>
<circle cx="164.17" cy="449.1" r="3.2" fill="#9467bd" fill-opacity="0.88" stroke="#000" stroke-width="1"/>
<circle cx="192.4" cy="399.6" r="3.2" fill="#9467bd" fill-opacity="0.88" stroke="#000" stroke-width="1"/>
<circle cx="181.08" cy="422.32" r="3.2" fill="#9467bd" fill-opacity="0.88" stroke="#000" stroke-width="1"/>
<circle cx="169.46" cy="451.38" r="3.2" fill="#9467bd" fill-opacity="0.88" stroke="#000" stroke-width="1"/>
<circle cx="157.56" cy="467.07" r="3.2" fill="#9467bd" fill-opacity="0.88" stroke="#000" stroke-width="1"/>
<circle cx="182.11" cy="424.16" r="3.2" fill="#9467bd" fill-opacity="0.88" stroke="#000" stroke-width="1"/>
<circle cx="162.28" cy="454.92" r="3.2" fill="#9467bd" fill-opacity="0.88" stroke="#000" stroke-width="1"/>
<circle cx="149.84" cy="491.82" r="3.2" fill="#9467bd" fill-opacity="0.88" stroke="#000" stroke-width="1"/>
<circle cx="171.3" cy="448.02" r="3.2" fill="#9467bd" fill-opacity="0.88" stroke="#000" stroke-width="1"/>
<circle cx="187.2" cy="408.5" r="3.2" fill="#9467bd" fill-opacity="0.88" stroke="#000" stroke-width="1"/>
<circle cx="175.97" cy="426.9" r="3.2" fill="#9467bd" fill-opacity="0.88" stroke="#000" stroke-width="1"/>
<circle cx="158.32" cy="465.54" r="3.2" fill="#9467bd" fill-opacity="0.88" stroke="#000" stroke-width="1"/>
<circle cx="174.87" cy="439.78" r="3.2" fill="#9467bd" fill-opacity="0.88" stroke="#000" stroke-width="1"/>
<circle cx="156.79" cy="469.91" r="3.2" fill="#9467bd" fill-opacity="0.88" stroke="#000" stroke-width="1"/>
<circle cx="157.25" cy="478.33" r="3.2" fill="#9467bd" fill-opacity="0.88" stroke="#000" stroke-width="1"/>
<circle cx="156.26" cy="473.47" r="3.2" fill="#9467bd" fill-opacity="0.88" stroke="#000" stroke-width="1"/>
<circle cx="146.28" cy="488.13" r="3.2" fill="#9467bd" fill-opacity="0.88" stroke="#000" stroke-width="1"/>
<circle cx="152.11" cy="482.98" r="3.2" fill="#9467bd" fill-opacity="0.88" stroke="#000" stroke-width="1"/>
<circle cx="155.03" cy="467.02" r="3.2" fill="#9467bd" fill-opacity="0.88" stroke="#000" stroke-width="1"/>
<circle cx="178.67" cy="431.26" r="3.2" fill="#9467bd" fill-opacity="0.88" stroke="#000" stroke-width="1"/>
<circle cx="165.37" cy="441.77" r="3.2" fill="#9467bd" fill-opacity="0.88" stroke="#000" stroke-width="1"/>
<circle cx="166.46" cy="444.04" r="3.2" fill="#9467bd" fill-opacity="0.88" stroke="#000" stroke-width="1"/>
<circle cx="178.84" cy="423.8" r="3.2" fill="#9467bd" fill-opacity="0.88" stroke="#000" stroke-width="1"/>
<circle cx="164.77" cy="456.77" r="3.2" fill="#9467bd" fill-opacity="0.88" stroke="#000" stroke-width="1"/>
<circle cx="169.4" cy="451.27" r="3.2" fill="#9467bd" fill-opacity="0.88" stroke="#000" stroke-width="1"/>
<circle cx="158.33" cy="472.17" r="3.2" fill="#9467bd" fill-opacity="0.88" stroke="#000" stroke-width="1"/>
<circle cx="144.91" cy="506.49" r="3.2" fill="#9467bd" fill-opacity="0.88" stroke="#000" stroke-width="1"/>
<circle cx="147.44" cy="488.56" r="3.2" fill="#9467bd" fill-opacity="0.88" stroke="#000" stroke-width="1"/>
<circle cx="163.13" cy="463.06" r="3.2" fill="#9467bd" fill-opacity="0.88" stroke="#000" stroke-width="1"/>
<circle cx="171.54" cy="442.36" r="3.2" fill="#9467bd" fill-opacity="0.88" stroke="#000" stroke-width="1"/>
<circle cx="146.6" cy="499.7" r="3.2" fill="#9467bd" fill-opacity="0.88" stroke="#000" stroke-width="1"/>
<circle cx="166.21" cy="449.71" r="3.2" fill="#9467bd" fill-opacity="0.88" stroke="#000" stroke-width="1"/>
<circle cx="161.76" cy="474.65" r="3.2" fill="#9467bd" fill-opacity="0.88" stroke="#000" stroke-width="1"/>
<circle cx="144.03" cy="493.56" r="3.2" fill="#9467bd" fill-opacity="0.88" stroke="#000" stroke-width="1"/>
<circle cx="168.68" cy="442.43" r="3.2" fill="#9467bd" fill-opacity="0.88" stroke="#000" stroke-width="1"/>
<circle cx="152.13" cy="477.56" r="3.2" fill="#9467bd" fill-opacity="0.88" stroke="#000" stroke-width="1"/>
<circle cx="179.47" cy="433.13" r="3.2" fill="#9467bd" fill-opacity="0.88" stroke="#000" stroke-width="1"/>
<circle cx="148.7" cy="492.12" r="3.2" fill="#9467bd" fill-opacity="0.88" stroke="#000" stroke-width="1"/>
<circle cx="147.11" cy="483.71" r="3.2" fill="#9467bd" fill-opacity="0.88" stroke="#000" stroke-width="1"/>
<circle cx="175.36" cy="433.68" r="3.2" fill="#9467bd" fill-opacity="0.88" stroke="#000" stroke-width="1"/>
<circle cx="148.6" cy="496.4" r="3.2" fill="#9467bd" fill-opacity="0.88" stroke="#000" stroke-width="1"/>
<circle cx="155.49" cy="473.89" r="3.2" fill="#9467bd" fill-opacity="0.88" stroke="#000" stroke-width="1"/>
<circle cx="185.26" cy="413.1" r="3.2" fill="#9467bd" fill-opacity="0.88" stroke="#000" stroke-width="1"/>
<circle cx="172.48" cy="448.83" r="3.2" fill="#9467bd" fill-opacity="0.88" stroke="#000" stroke-width="1"/>
<circle cx="157" cy="473.38" r="3.2" fill="#9467bd" fill-opacity="0.88" stroke="#000" stroke-width="1"/>
<circle cx="174.64" cy="433.19" r="3.2" fill="#9467bd" fill-opacity="0.88" stroke="#000" stroke-width="1"/>
<circle cx="157.65" cy="468.31" r="3.2" fill="#9467bd" fill-opacity="0.88" stroke="#000" stroke-width="1"/>
<circle cx="177.85" cy="424.19" r="3.2" fill="#9467bd" fill-opacity="0.88" stroke="#000" stroke-width="1"/>
<circle cx="151.21" cy="485.33" r="3.2" fill="#9467bd" fill-opacity="0.88" stroke="#000" stroke-width="1"/>
<circle cx="178.06" cy="422.05" r="3.2" fill="#9467bd" fill-opacity="0.88" stroke="#000" stroke-width="1"/>
<circle cx="158.2" cy="468.62" r="3.2" fill="#9467bd" fill-opacity="0.88" stroke="#000" stroke-width="1"/>
<circle cx="159.65" cy="461.48" r="3.2" fill="#9467bd" fill-opacity="0.88" stroke="#000" stroke-width="1"/>
<circle cx="150.44" cy="487.34" r="3.2" fill="#9467bd" fill-opacity="0.88" stroke="#000" stroke-width="1"/>
<circle cx="152" cy="485.31" r="3.2" fill="#9467bd" fill-opacity="0.88" stroke="#000" stroke-width="1"/>
<circle cx="167.02" cy="457.68" r="3.2" fill="#9467bd" fill-opacity="0.88" stroke="#000" stroke-width="1"/>
<circle cx="167.41" cy="451.32" r="3.2" fill="#9467bd" fill-opacity="0.88" stroke="#000" stroke-width="1"/>
<circle cx="182.79" cy="425.79" r="3.2" fill="#9467bd" fill-opacity="0.88" stroke="#000" stroke-width="1"/>
<circle cx="165.33" cy="441.27" r="3.2" fill="#9467bd" fill-opacity="0.88" stroke="#000" stroke-width="1"/>
<circle cx="172.6" cy="443.76" r="3.2" fill="#9467bd" fill-opacity="0.88" stroke="#000" stroke-width="1"/>
<circle cx="160.96" cy="462.54" r="3.2" fill="#9467bd" fill-opacity="0.88" stroke="#000" stroke-width="1"/>
<circle cx="158.61" cy="467.84" r="3.2" fill="#9467bd" fill-opacity="0.88" stroke="#000" stroke-width="1"/>
<circle cx="181.78" cy="419.59" r="3.2" fill="#9467bd" fill-opacity="0.88" stroke="#000" stroke-width="1"/>
<circle cx="152.02" cy="474.42" r="3.2" fill="#9467bd" fill-opacity="0.88" stroke="#000" stroke-width="1"/>
<circle cx="167.55" cy="451.46" r="3.2" fill="#9467bd" fill-opacity="0.88" stroke="#000" stroke-width="1"/>
<circle cx="168.95" cy="446.06" r="3.2" fill="#9467bd" fill-opacity="0.88" stroke="#000" stroke-width="1"/>
<circle cx="172.63" cy="445.55" r="3.2" fill="#9467bd" fill-opacity="0.88" stroke="#000" stroke-width="1"/>
<circle cx="170.56" cy="446.46" r="3.2" fill="#9467bd" fill-opacity="0.88" stroke="#000" stroke-width="1"/>
<circle cx="166.47" cy="449.15" r="3.2" fill="#9467bd" fill-opacity="0.88" stroke="#000" stroke-width="1"/>
<circle cx="159.83" cy="465.2" r="3.2" fill="#9467bd" fill-opacity="0.88" stroke="#000" stroke-width="1"/>
<circle cx="143.3" cy="505" r="3.2" fill="#9467bd" fill-opacity="0.88" stroke="#000" stroke-width="1"/>
<circle cx="170.56" cy="455.65" r="3.2" fill="#9467bd" fill-opacity="0.88" stroke="#000" stroke-width="1"/>
<circle cx="180.18" cy="426.95" r="3.2" fill="#9467bd" fill-opacity="0.88" stroke="#000" stroke-width="1"/>
<circle cx="153.47" cy="483.37" r="3.2" fill="#9467bd" fill-opacity="0.88" stroke="#000" stroke-width="1"/>
<circle cx="209.7" cy="398.2" r="3.2" fill="#c49c94" fill-opacity="0.88" stroke="#000" stroke-width="1"/>
<circle cx="173.55" cy="458.58" r="3.2" fill="#c49c94" fill-opacity="0.88" stroke="#000" stroke-width="1"/>
<circle cx="206.4" cy="390.4" r="3.2" fill="#c49c94" fill-opacity="0.88" stroke="#000" stroke-width="1"/>
<circle cx="188.18" cy="436.06" r="3.2" fill="#c49c94" fill-opacity="0.88" stroke="#000" stroke-width="1"/>
<circle cx="195.57" cy="420.91" r="3.2" fill="#c49c94" fill-opacity="0.88" stroke="#000" stroke-width="1"/>
<circle cx="170.98" cy="469.7" r="3.2" fill="#c49c94" fill-opacity="0.88" stroke="#000" stroke-width="1"/>
<circle cx="176.01" cy="468.78" r="3.2" fill="#c49c94" fill-opacity="0.88" stroke="#000" stroke-width="1"/>
<circle cx="183.61" cy="445.97" r="3.2" fill="#c49c94" fill-opacity="0.88" stroke="#000" stroke-width="1"/>
<circle cx="169.82" cy="478.4" r="3.2" fill="#c49c94" fill-opacity="0.88" stroke="#000" stroke-width="1"/>
<circle cx="185.97" cy="439.4" r="3.2" fill="#c49c94" fill-opacity="0.88" stroke="#000" stroke-width="1"/>
<circle cx="187.05" cy="439.39" r="3.2" fill="#c49c94" fill-opacity="0.88" stroke="#000" stroke-width="1"/>
<circle cx="169.86" cy="469.53" r="3.2" fill="#c49c94" fill-opacity="0.88" stroke="#000" stroke-width="1"/>
<circle cx="161.74" cy="496.28" r="3.2" fill="#c49c94" fill-opacity="0.88" stroke="#000" stroke-width="1"/>
<circle cx="170.04" cy="479.83" r="3.2" fill="#c49c94" fill-opacity="0.88" stroke="#000" stroke-width="1"/>
<circle cx="184.36" cy="448.12" r="3.2" fill="#c49c94" fill-opacity="0.88" stroke="#000" stroke-width="1"/>
<circle cx="172.93" cy="466.23" r="3.2" fill="#c49c94" fill-opacity="0.88" stroke="#000" stroke-width="1"/>
<circle cx="187.71" cy="446.92" r="3.2" fill="#c49c94" fill-opacity="0.88" stroke="#000" stroke-width="1"/>
<circle cx="189.9" cy="436.42" r="3.2" fill="#c49c94" fill-opacity="0.88" stroke="#000" stroke-width="1"/>
<circle cx="188.71" cy="436.22" r="3.2" fill="#c49c94" fill-opacity="0.88" stroke="#000" stroke-width="1"/>
<circle cx="186.06" cy="442.41" r="3.2" fill="#c49c94" fill-opacity="0.88" stroke="#000" stroke-width="1"/>
<circle cx="191.57" cy="427.64" r="3.2" fill="#c49c94" fill-opacity="0.88" stroke="#000" stroke-width="1"/>
<circle cx="177.95" cy="458.9" r="3.2" fill="#c49c94" fill-opacity="0.88" stroke="#000" stroke-width="1"/>
<circle cx="183.91" cy="461.91" r="3.2" fill="#c49c94" fill-opacity="0.88" stroke="#000" stroke-width="1"/>
<circle cx="181.91" cy="458.84" r="3.2" fill="#c49c94" fill-opacity="0.88" stroke="#000" stroke-width="1"/>
<circle cx="187.48" cy="435.51" r="3.2" fill="#c49c94" fill-opacity="0.88" stroke="#000" stroke-width="1"/>
<circle cx="159.7" cy="505.6" r="3.2" fill="#c49c94" fill-opacity="0.88" stroke="#000" stroke-width="1"/>
<circle cx="161.68" cy="494.85" r="3.2" fill="#c49c94" fill-opacity="0.88" stroke="#000" stroke-width="1"/>
<circle cx="178.31" cy="474.89" r="3.2" fill="#c49c94" fill-opacity="0.88" stroke="#000" stroke-width="1"/>
<circle cx="166.45" cy="488.34" r="3.2" fill="#c49c94" fill-opacity="0.88" stroke="#000" stroke-width="1"/>
<circle cx="167.96" cy="488.11" r="3.2" fill="#c49c94" fill-opacity="0.88" stroke="#000" stroke-width="1"/>
<circle cx="162.87" cy="488.85" r="3.2" fill="#c49c94" fill-opacity="0.88" stroke="#000" stroke-width="1"/>
<circle cx="176.74" cy="472.62" r="3.2" fill="#c49c94" fill-opacity="0.88" stroke="#000" stroke-width="1"/>
<circle cx="193.3" cy="427.18" r="3.2" fill="#c49c94" fill-opacity="0.88" stroke="#000" stroke-width="1"/>
<circle cx="182.29" cy="455.35" r="3.2" fill="#c49c94" fill-opacity="0.88" stroke="#000" stroke-width="1"/>
<circle cx="197.98" cy="412.67" r="3.2" fill="#c49c94" fill-opacity="0.88" stroke="#000" stroke-width="1"/>
<circle cx="196.2" cy="420.24" r="3.2" fill="#c49c94" fill-opacity="0.88" stroke="#000" stroke-width="1"/>
<circle cx="194.42" cy="417.24" r="3.2" fill="#c49c94" fill-opacity="0.88" stroke="#000" stroke-width="1"/>
<circle cx="186.51" cy="441.41" r="3.2" fill="#c49c94" fill-opacity="0.88" stroke="#000" stroke-width="1"/>
<circle cx="199.1" cy="418.25" r="3.2" fill="#c49c94" fill-opacity="0.88" stroke="#000" stroke-width="1"/>
<circle cx="189.09" cy="436.96" r="3.2" fill="#c49c94" fill-opacity="0.88" stroke="#000" stroke-width="1"/>
<circle cx="175.79" cy="472.88" r="3.2" fill="#c49c94" fill-opacity="0.88" stroke="#000" stroke-width="1"/>
<circle cx="177.47" cy="453.55" r="3.2" fill="#c49c94" fill-opacity="0.88" stroke="#000" stroke-width="1"/>
<circle cx="170.66" cy="488.61" r="3.2" fill="#c49c94" fill-opacity="0.88" stroke="#000" stroke-width="1"/>
<circle cx="182.48" cy="450.72" r="3.2" fill="#c49c94" fill-opacity="0.88" stroke="#000" stroke-width="1"/>
<circle cx="191.56" cy="438.77" r="3.2" fill="#c49c94" fill-opacity="0.88" stroke="#000" stroke-width="1"/>
<circle cx="195.57" cy="431.11" r="3.2" fill="#c49c94" fill-opacity="0.88" stroke="#000" stroke-width="1"/>
<circle cx="173.69" cy="468.01" r="3.2" fill="#c49c94" fill-opacity="0.88" stroke="#000" stroke-width="1"/>
<circle cx="172.34" cy="479.57" r="3.2" fill="#c49c94" fill-opacity="0.88" stroke="#000" stroke-width="1"/>
<circle cx="174.63" cy="466.69" r="3.2" fill="#c49c94" fill-opacity="0.88" stroke="#000" stroke-width="1"/>
<circle cx="169.32" cy="473.68" r="3.2" fill="#c49c94" fill-opacity="0.88" stroke="#000" stroke-width="1"/>
<circle cx="169.36" cy="481.51" r="3.2" fill="#c49c94" fill-opacity="0.88" stroke="#000" stroke-width="1"/>
<circle cx="171.98" cy="468.01" r="3.2" fill="#c49c94" fill-opacity="0.88" stroke="#000" stroke-width="1"/>
<circle cx="174.69" cy="463.41" r="3.2" fill="#c49c94" fill-opacity="0.88" stroke="#000" stroke-width="1"/>
<circle cx="182.04" cy="449.84" r="3.2" fill="#c49c94" fill-opacity="0.88" stroke="#000" stroke-width="1"/>
<circle cx="171.99" cy="468.3" r="3.2" fill="#c49c94" fill-opacity="0.88" stroke="#000" stroke-width="1"/>
<circle cx="178.28" cy="454.85" r="3.2" fill="#c49c94" fill-opacity="0.88" stroke="#000" stroke-width="1"/>
<circle cx="170.44" cy="471.44" r="3.2" fill="#c49c94" fill-opacity="0.88" stroke="#000" stroke-width="1"/>
<circle cx="172.42" cy="472.62" r="3.2" fill="#c49c94" fill-opacity="0.88" stroke="#000" stroke-width="1"/>
<circle cx="174.46" cy="465.6" r="3.2" fill="#c49c94" fill-opacity="0.88" stroke="#000" stroke-width="1"/>
<circle cx="176.7" cy="465.83" r="3.2" fill="#c49c94" fill-opacity="0.88" stroke="#000" stroke-width="1"/>
<circle cx="166.09" cy="481.53" r="3.2" fill="#c49c94" fill-opacity="0.88" stroke="#000" stroke-width="1"/>
<circle cx="174.63" cy="459.2" r="3.2" fill="#c49c94" fill-opacity="0.88" stroke="#000" stroke-width="1"/>
<circle cx="186.05" cy="437.3" r="3.2" fill="#c49c94" fill-opacity="0.88" stroke="#000" stroke-width="1"/>
<circle cx="156.5" cy="508.2" r="3.2" fill="#c49c94" fill-opacity="0.88" stroke="#000" stroke-width="1"/>
<circle cx="187.67" cy="438.06" r="3.2" fill="#c49c94" fill-opacity="0.88" stroke="#000" stroke-width="1"/>
<circle cx="175.19" cy="459.24" r="3.2" fill="#c49c94" fill-opacity="0.88" stroke="#000" stroke-width="1"/>
<circle cx="168.79" cy="478.99" r="3.2" fill="#c49c94" fill-opacity="0.88" stroke="#000" stroke-width="1"/>
<circle cx="164.5" cy="493.32" r="3.2" fill="#c49c94" fill-opacity="0.88" stroke="#000" stroke-width="1"/>
<circle cx="174.01" cy="480.47" r="3.2" fill="#c49c94" fill-opacity="0.88" stroke="#000" stroke-width="1"/>
<circle cx="176.82" cy="464.91" r="3.2" fill="#c49c94" fill-opacity="0.88" stroke="#000" stroke-width="1"/>
<circle cx="159.85" cy="492.91" r="3.2" fill="#c49c94" fill-opacity="0.88" stroke="#000" stroke-width="1"/>
<circle cx="177.21" cy="460.6" r="3.2" fill="#c49c94" fill-opacity="0.88" stroke="#000" stroke-width="1"/>
<circle cx="181.98" cy="459.46" r="3.2" fill="#c49c94" fill-opacity="0.88" stroke="#000" stroke-width="1"/>
<circle cx="189.66" cy="432.56" r="3.2" fill="#c49c94" fill-opacity="0.88" stroke="#000" stroke-width="1"/>
<circle cx="180.03" cy="465.8" r="3.2" fill="#c49c94" fill-opacity="0.88" stroke="#000" stroke-width="1"/>
<circle cx="185.12" cy="449.54" r="3.2" fill="#c49c94" fill-opacity="0.88" stroke="#000" stroke-width="1"/>
<circle cx="193.13" cy="424.65" r="3.2" fill="#c49c94" fill-opacity="0.88" stroke="#000" stroke-width="1"/>
<circle cx="186.17" cy="443.79" r="3.2" fill="#c49c94" fill-opacity="0.88" stroke="#000" stroke-width="1"/>
<circle cx="168.05" cy="491.48" r="3.2" fill="#c49c94" fill-opacity="0.88" stroke="#000" stroke-width="1"/>
<circle cx="169.16" cy="477.64" r="3.2" fill="#c49c94" fill-opacity="0.88" stroke="#000" stroke-width="1"/>
<circle cx="174.73" cy="466.2" r="3.2" fill="#c49c94" fill-opacity="0.88" stroke="#000" stroke-width="1"/>
<circle cx="179.64" cy="455.11" r="3.2" fill="#c49c94" fill-opacity="0.88" stroke="#000" stroke-width="1"/>
<circle cx="181.19" cy="451.73" r="3.2" fill="#c49c94" fill-opacity="0.88" stroke="#000" stroke-width="1"/>
<circle cx="153.8" cy="514.8" r="3.2" fill="#c49c94" fill-opacity="0.88" stroke="#000" stroke-width="1"/>
<circle cx="191.32" cy="434.36" r="3.2" fill="#c49c94" fill-opacity="0.88" stroke="#000" stroke-width="1"/>
<circle cx="169.16" cy="474.66" r="3.2" fill="#c49c94" fill-opacity="0.88" stroke="#000" stroke-width="1"/>
<circle cx="165.37" cy="488.54" r="3.2" fill="#c49c94" fill-opacity="0.88" stroke="#000" stroke-width="1"/>
<circle cx="184.94" cy="451.03" r="3.2" fill="#c49c94" fill-opacity="0.88" stroke="#000" stroke-width="1"/>
<circle cx="182.5" cy="456.15" r="3.2" fill="#c49c94" fill-opacity="0.88" stroke="#000" stroke-width="1"/>
<circle cx="176.59" cy="465.32" r="3.2" fill="#c49c94" fill-opacity="0.88" stroke="#000" stroke-width="1"/>
<circle cx="182.81" cy="453.04" r="3.2" fill="#c49c94" fill-opacity="0.88" stroke="#000" stroke-width="1"/>
<circle cx="182.65" cy="454.25" r="3.2" fill="#c49c94" fill-opacity="0.88" stroke="#000" stroke-width="1"/>
<circle cx="176.99" cy="459.3" r="3.2" fill="#c49c94" fill-opacity="0.88" stroke="#000" stroke-width="1"/>
<circle cx="177.29" cy="453.38" r="3.2" fill="#c49c94" fill-opacity="0.88" stroke="#000" stroke-width="1"/>
<circle cx="181.52" cy="441.63" r="3.2" fill="#c49c94" fill-opacity="0.88" stroke="#000" stroke-width="1"/>
<circle cx="180.79" cy="452.9" r="3.2" fill="#c49c94" fill-opacity="0.88" stroke="#000" stroke-width="1"/>
<circle cx="183.5" cy="447.62" r="3.2" fill="#c49c94" fill-opacity="0.88" stroke="#000" stroke-width="1"/>
<circle cx="186.7" cy="445.68" r="3.2" fill="#c49c94" fill-opacity="0.88" stroke="#000" stroke-width="1"/>
<circle cx="191.13" cy="435.55" r="3.2" fill="#c49c94" fill-opacity="0.88" stroke="#000" stroke-width="1"/>
<circle cx="169.49" cy="483.34" r="3.2" fill="#c49c94" fill-opacity="0.88" stroke="#000" stroke-width="1"/>
<circle cx="193.85" cy="455.69" r="3.2" fill="#f7b6d2" fill-opacity="0.88" stroke="#000" stroke-width="1"/>
<circle cx="202.61" cy="441.86" r="3.2" fill="#f7b6d2" fill-opacity="0.88" stroke="#000" stroke-width="1"/>
<circle cx="186.67" cy="476.96" r="3.2" fill="#f7b6d2" fill-opacity="0.88" stroke="#000" stroke-width="1"/>
<circle cx="191.06" cy="461.85" r="3.2" fill="#f7b6d2" fill-opacity="0.88" stroke="#000" stroke-width="1"/>
<circle cx="183.28" cy="478.77" r="3.2" fill="#f7b6d2" fill-opacity="0.88" stroke="#000" stroke-width="1"/>
<circle cx="184.06" cy="479.91" r="3.2" fill="#f7b6d2" fill-opacity="0.88" stroke="#000" stroke-width="1"/>
<circle cx="191.61" cy="468.04" r="3.2" fill="#f7b6d2" fill-opacity="0.88" stroke="#000" stroke-width="1"/>
<circle cx="203.62" cy="427.25" r="3.2" fill="#f7b6d2" fill-opacity="0.88" stroke="#000" stroke-width="1"/>
<circle cx="176.64" cy="495.19" r="3.2" fill="#f7b6d2" fill-opacity="0.88" stroke="#000" stroke-width="1"/>
<circle cx="204.37" cy="428.61" r="3.2" fill="#f7b6d2" fill-opacity="0.88" stroke="#000" stroke-width="1"/>
<circle cx="193.72" cy="455.14" r="3.2" fill="#f7b6d2" fill-opacity="0.88" stroke="#000" stroke-width="1"/>
<circle cx="180.12" cy="484.64" r="3.2" fill="#f7b6d2" fill-opacity="0.88" stroke="#000" stroke-width="1"/>
<circle cx="206.19" cy="427.15" r="3.2" fill="#f7b6d2" fill-opacity="0.88" stroke="#000" stroke-width="1"/>
<circle cx="195.29" cy="449.75" r="3.2" fill="#f7b6d2" fill-opacity="0.88" stroke="#000" stroke-width="1"/>
<circle cx="177.56" cy="486.51" r="3.2" fill="#f7b6d2" fill-opacity="0.88" stroke="#000" stroke-width="1"/>
<circle cx="191.8" cy="456.24" r="3.2" fill="#f7b6d2" fill-opacity="0.88" stroke="#000" stroke-width="1"/>
<circle cx="201.89" cy="440.47" r="3.2" fill="#f7b6d2" fill-opacity="0.88" stroke="#000" stroke-width="1"/>
<circle cx="213" cy="414.7" r="3.2" fill="#f7b6d2" fill-opacity="0.88" stroke="#000" stroke-width="1"/>
<circle cx="190.64" cy="469.16" r="3.2" fill="#f7b6d2" fill-opacity="0.88" stroke="#000" stroke-width="1"/>
<circle cx="193.93" cy="462.95" r="3.2" fill="#f7b6d2" fill-opacity="0.88" stroke="#000" stroke-width="1"/>
<circle cx="179.95" cy="480.22" r="3.2" fill="#f7b6d2" fill-opacity="0.88" stroke="#000" stroke-width="1"/>
<circle cx="185.73" cy="475.48" r="3.2" fill="#f7b6d2" fill-opacity="0.88" stroke="#000" stroke-width="1"/>
<circle cx="180.66" cy="475.95" r="3.2" fill="#f7b6d2" fill-opacity="0.88" stroke="#000" stroke-width="1"/>
<circle cx="179.2" cy="468.01" r="3.2" fill="#f7b6d2" fill-opacity="0.88" stroke="#000" stroke-width="1"/>
<circle cx="209.55" cy="427.96" r="3.2" fill="#f7b6d2" fill-opacity="0.88" stroke="#000" stroke-width="1"/>
<circle cx="178.62" cy="472.61" r="3.2" fill="#f7b6d2" fill-opacity="0.88" stroke="#000" stroke-width="1"/>
<circle cx="187.52" cy="464.48" r="3.2" fill="#f7b6d2" fill-opacity="0.88" stroke="#000" stroke-width="1"/>
<circle cx="195.85" cy="453.04" r="3.2" fill="#f7b6d2" fill-opacity="0.88" stroke="#000" stroke-width="1"/>
<circle cx="181.51" cy="480.33" r="3.2" fill="#f7b6d2" fill-opacity="0.88" stroke="#000" stroke-width="1"/>
<circle cx="187.47" cy="474.1" r="3.2" fill="#f7b6d2" fill-opacity="0.88" stroke="#000" stroke-width="1"/>
<circle cx="181.25" cy="490.45" r="3.2" fill="#f7b6d2" fill-opacity="0.88" stroke="#000" stroke-width="1"/>
<circle cx="213.3" cy="417.12" r="3.2" fill="#f7b6d2" fill-opacity="0.88" stroke="#000" stroke-width="1"/>
<circle cx="182.94" cy="475.52" r="3.2" fill="#f7b6d2" fill-opacity="0.88" stroke="#000" stroke-width="1"/>
<circle cx="174.52" cy="493.47" r="3.2" fill="#f7b6d2" fill-opacity="0.88" stroke="#000" stroke-width="1"/>
<circle cx="199.91" cy="437.66" r="3.2" fill="#f7b6d2" fill-opacity="0.88" stroke="#000" stroke-width="1"/>
<circle cx="182.65" cy="481.74" r="3.2" fill="#f7b6d2" fill-opacity="0.88" stroke="#000" stroke-width="1"/>
<circle cx="194.23" cy="457.67" r="3.2" fill="#f7b6d2" fill-opacity="0.88" stroke="#000" stroke-width="1"/>
<circle cx="201.9" cy="430.29" r="3.2" fill="#f7b6d2" fill-opacity="0.88" stroke="#000" stroke-width="1"/>
<circle cx="195.63" cy="453.36" r="3.2" fill="#f7b6d2" fill-opacity="0.88" stroke="#000" stroke-width="1"/>
<circle cx="180.77" cy="486.57" r="3.2" fill="#f7b6d2" fill-opacity="0.88" stroke="#000" stroke-width="1"/>
<circle cx="172.24" cy="498.24" r="3.2" fill="#f7b6d2" fill-opacity="0.88" stroke="#000" stroke-width="1"/>
<circle cx="180.77" cy="482.31" r="3.2" fill="#f7b6d2" fill-opacity="0.88" stroke="#000" stroke-width="1"/>
<circle cx="181.7" cy="480.19" r="3.2" fill="#f7b6d2" fill-opacity="0.88" stroke="#000" stroke-width="1"/>
<circle cx="188.67" cy="467.89" r="3.2" fill="#f7b6d2" fill-opacity="0.88" stroke="#000" stroke-width="1"/>
<circle cx="186.04" cy="474.6" r="3.2" fill="#f7b6d2" fill-opacity="0.88" stroke="#000" stroke-width="1"/>
<circle cx="172.85" cy="496.74" r="3.2" fill="#f7b6d2" fill-opacity="0.88" stroke="#000" stroke-width="1"/>
<circle cx="199.43" cy="447.35" r="3.2" fill="#f7b6d2" fill-opacity="0.88" stroke="#000" stroke-width="1"/>
<circle cx="175.23" cy="492.97" r="3.2" fill="#f7b6d2" fill-opacity="0.88" stroke="#000" stroke-width="1"/>
<circle cx="192.33" cy="453.53" r="3.2" fill="#f7b6d2" fill-opacity="0.88" stroke="#000" stroke-width="1"/>
<circle cx="199.4" cy="443.9" r="3.2" fill="#f7b6d2" fill-opacity="0.88" stroke="#000" stroke-width="1"/>
<circle cx="181.91" cy="483.33" r="3.2" fill="#f7b6d2" fill-opacity="0.88" stroke="#000" stroke-width="1"/>
<circle cx="173.6" cy="495.24" r="3.2" fill="#f7b6d2" fill-opacity="0.88" stroke="#000" stroke-width="1"/>
<circle cx="189.65" cy="472.62" r="3.2" fill="#f7b6d2" fill-opacity="0.88" stroke="#000" stroke-width="1"/>
<circle cx="188.34" cy="465.6" r="3.2" fill="#f7b6d2" fill-opacity="0.88" stroke="#000" stroke-width="1"/>
<circle cx="191.29" cy="457.35" r="3.2" fill="#f7b6d2" fill-opacity="0.88" stroke="#000" stroke-width="1"/>
<circle cx="200.87" cy="445.07" r="3.2" fill="#f7b6d2" fill-opacity="0.88" stroke="#000" stroke-width="1"/>
<circle cx="175.76" cy="495.28" r="3.2" fill="#f7b6d2" fill-opacity="0.88" stroke="#000" stroke-width="1"/>
<circle cx="200.8" cy="432.95" r="3.2" fill="#f7b6d2" fill-opacity="0.88" stroke="#000" stroke-width="1"/>
<circle cx="179.59" cy="483.36" r="3.2" fill="#f7b6d2" fill-opacity="0.88" stroke="#000" stroke-width="1"/>
<circle cx="177.97" cy="487.26" r="3.2" fill="#f7b6d2" fill-opacity="0.88" stroke="#000" stroke-width="1"/>
<circle cx="177.54" cy="486.74" r="3.2" fill="#f7b6d2" fill-opacity="0.88" stroke="#000" stroke-width="1"/>
<circle cx="178.65" cy="488.15" r="3.2" fill="#f7b6d2" fill-opacity="0.88" stroke="#000" stroke-width="1"/>
<circle cx="178.03" cy="483.35" r="3.2" fill="#f7b6d2" fill-opacity="0.88" stroke="#000" stroke-width="1"/>
<circle cx="178.88" cy="479.84" r="3.2" fill="#f7b6d2" fill-opacity="0.88" stroke="#000" stroke-width="1"/>
<circle cx="201.74" cy="439.06" r="3.2" fill="#f7b6d2" fill-opacity="0.88" stroke="#000" stroke-width="1"/>
<circle cx="173.31" cy="504.59" r="3.2" fill="#f7b6d2" fill-opacity="0.88" stroke="#000" stroke-width="1"/>
<circle cx="169.09" cy="500.71" r="3.2" fill="#f7b6d2" fill-opacity="0.88" stroke="#000" stroke-width="1"/>
<circle cx="171.47" cy="501.86" r="3.2" fill="#f7b6d2" fill-opacity="0.88" stroke="#000" stroke-width="1"/>
<circle cx="206.02" cy="442.3" r="3.2" fill="#f7b6d2" fill-opacity="0.88" stroke="#000" stroke-width="1"/>
<circle cx="192.77" cy="464.02" r="3.2" fill="#f7b6d2" fill-opacity="0.88" stroke="#000" stroke-width="1"/>
<circle cx="210.91" cy="411.42" r="3.2" fill="#f7b6d2" fill-opacity="0.88" stroke="#000" stroke-width="1"/>
<circle cx="190.3" cy="459.92" r="3.2" fill="#f7b6d2" fill-opacity="0.88" stroke="#000" stroke-width="1"/>
<circle cx="201.96" cy="438.88" r="3.2" fill="#f7b6d2" fill-opacity="0.88" stroke="#000" stroke-width="1"/>
<circle cx="197.12" cy="447.27" r="3.2" fill="#f7b6d2" fill-opacity="0.88" stroke="#000" stroke-width="1"/>
<circle cx="201.47" cy="449.87" r="3.2" fill="#f7b6d2" fill-opacity="0.88" stroke="#000" stroke-width="1"/>
<circle cx="203.09" cy="428.13" r="3.2" fill="#f7b6d2" fill-opacity="0.88" stroke="#000" stroke-width="1"/>
<circle cx="217.38" cy="414.03" r="3.2" fill="#f7b6d2" fill-opacity="0.88" stroke="#000" stroke-width="1"/>
<circle cx="184.21" cy="474.26" r="3.2" fill="#f7b6d2" fill-opacity="0.88" stroke="#000" stroke-width="1"/>
<circle cx="180.53" cy="484.5" r="3.2" fill="#f7b6d2" fill-opacity="0.88" stroke="#000" stroke-width="1"/>
<circle cx="199.77" cy="441.2" r="3.2" fill="#f7b6d2" fill-opacity="0.88" stroke="#000" stroke-width="1"/>
<circle cx="183.27" cy="476.58" r="3.2" fill="#f7b6d2" fill-opacity="0.88" stroke="#000" stroke-width="1"/>
<circle cx="188.91" cy="463.23" r="3.2" fill="#f7b6d2" fill-opacity="0.88" stroke="#000" stroke-width="1"/>
<circle cx="192.62" cy="466.43" r="3.2" fill="#f7b6d2" fill-opacity="0.88" stroke="#000" stroke-width="1"/>
<circle cx="190.47" cy="462.78" r="3.2" fill="#f7b6d2" fill-opacity="0.88" stroke="#000" stroke-width="1"/>
<circle cx="187.67" cy="466.89" r="3.2" fill="#f7b6d2" fill-opacity="0.88" stroke="#000" stroke-width="1"/>
<circle cx="199.34" cy="441.4" r="3.2" fill="#f7b6d2" fill-opacity="0.88" stroke="#000" stroke-width="1"/>
<circle cx="184.54" cy="476.05" r="3.2" fill="#f7b6d2" fill-opacity="0.88" stroke="#000" stroke-width="1"/>
<circle cx="191.36" cy="466" r="3.2" fill="#f7b6d2" fill-opacity="0.88" stroke="#000" stroke-width="1"/>
<circle cx="182.14" cy="476.7" r="3.2" fill="#f7b6d2" fill-opacity="0.88" stroke="#000" stroke-width="1"/>
<circle cx="193.38" cy="451.03" r="3.2" fill="#f7b6d2" fill-opacity="0.88" stroke="#000" stroke-width="1"/>
<circle cx="186.14" cy="480.94" r="3.2" fill="#f7b6d2" fill-opacity="0.88" stroke="#000" stroke-width="1"/>
<circle cx="194.6" cy="458.95" r="3.2" fill="#f7b6d2" fill-opacity="0.88" stroke="#000" stroke-width="1"/>
<circle cx="161.1" cy="526" r="3.2" fill="#f7b6d2" fill-opacity="0.88" stroke="#000" stroke-width="1"/>
<circle cx="210.19" cy="424.71" r="3.2" fill="#f7b6d2" fill-opacity="0.88" stroke="#000" stroke-width="1"/>
<circle cx="212.81" cy="415.7" r="3.2" fill="#f7b6d2" fill-opacity="0.88" stroke="#000" stroke-width="1"/>
<circle cx="191.68" cy="464.06" r="3.2" fill="#f7b6d2" fill-opacity="0.88" stroke="#000" stroke-width="1"/>
<circle cx="181.14" cy="477.8" r="3.2" fill="#f7b6d2" fill-opacity="0.88" stroke="#000" stroke-width="1"/>
<circle cx="192.44" cy="461.33" r="3.2" fill="#f7b6d2" fill-opacity="0.88" stroke="#000" stroke-width="1"/>
<circle cx="177.95" cy="490.41" r="3.2" fill="#f7b6d2" fill-opacity="0.88" stroke="#000" stroke-width="1"/>
<circle cx="185.57" cy="470.19" r="3.2" fill="#f7b6d2" fill-opacity="0.88" stroke="#000" stroke-width="1"/>
<circle cx="215.55" cy="440.6" r="3.2" fill="#c7c7c7" fill-opacity="0.88" stroke="#000" stroke-width="1"/>
<circle cx="179.5" cy="521.4" r="3.2" fill="#c7c7c7" fill-opacity="0.88" stroke="#000" stroke-width="1"/>
<circle cx="219.2" cy="433.14" r="3.2" fill="#c7c7c7" fill-opacity="0.88" stroke="#000" stroke-width="1"/>
<circle cx="203.71" cy="463.07" r="3.2" fill="#c7c7c7" fill-opacity="0.88" stroke="#000" stroke-width="1"/>
<circle cx="199.35" cy="478.9" r="3.2" fill="#c7c7c7" fill-opacity="0.88" stroke="#000" stroke-width="1"/>
<circle cx="220.44" cy="427.34" r="3.2" fill="#c7c7c7" fill-opacity="0.88" stroke="#000" stroke-width="1"/>
<circle cx="192.47" cy="496.92" r="3.2" fill="#c7c7c7" fill-opacity="0.88" stroke="#000" stroke-width="1"/>
<circle cx="208.14" cy="450.96" r="3.2" fill="#c7c7c7" fill-opacity="0.88" stroke="#000" stroke-width="1"/>
<circle cx="196.95" cy="484.77" r="3.2" fill="#c7c7c7" fill-opacity="0.88" stroke="#000" stroke-width="1"/>
<circle cx="207.15" cy="462.77" r="3.2" fill="#c7c7c7" fill-opacity="0.88" stroke="#000" stroke-width="1"/>
<circle cx="190.39" cy="484.59" r="3.2" fill="#c7c7c7" fill-opacity="0.88" stroke="#000" stroke-width="1"/>
<circle cx="211.23" cy="453.49" r="3.2" fill="#c7c7c7" fill-opacity="0.88" stroke="#000" stroke-width="1"/>
<circle cx="200.85" cy="479.58" r="3.2" fill="#c7c7c7" fill-opacity="0.88" stroke="#000" stroke-width="1"/>
<circle cx="211.18" cy="451.78" r="3.2" fill="#c7c7c7" fill-opacity="0.88" stroke="#000" stroke-width="1"/>
<circle cx="202.63" cy="472.93" r="3.2" fill="#c7c7c7" fill-opacity="0.88" stroke="#000" stroke-width="1"/>
<circle cx="231.4" cy="397.6" r="3.2" fill="#c7c7c7" fill-opacity="0.88" stroke="#000" stroke-width="1"/>
<circle cx="215.97" cy="452.36" r="3.2" fill="#c7c7c7" fill-opacity="0.88" stroke="#000" stroke-width="1"/>
<circle cx="201.26" cy="470.23" r="3.2" fill="#c7c7c7" fill-opacity="0.88" stroke="#000" stroke-width="1"/>
<circle cx="212.66" cy="438.35" r="3.2" fill="#c7c7c7" fill-opacity="0.88" stroke="#000" stroke-width="1"/>
<circle cx="198.48" cy="475.82" r="3.2" fill="#c7c7c7" fill-opacity="0.88" stroke="#000" stroke-width="1"/>
<circle cx="203.69" cy="464.6" r="3.2" fill="#c7c7c7" fill-opacity="0.88" stroke="#000" stroke-width="1"/>
<circle cx="201.51" cy="469.93" r="3.2" fill="#c7c7c7" fill-opacity="0.88" stroke="#000" stroke-width="1"/>
<circle cx="203.55" cy="468.2" r="3.2" fill="#c7c7c7" fill-opacity="0.88" stroke="#000" stroke-width="1"/>
<circle cx="209.06" cy="450.05" r="3.2" fill="#c7c7c7" fill-opacity="0.88" stroke="#000" stroke-width="1"/>
<circle cx="195.56" cy="487.23" r="3.2" fill="#c7c7c7" fill-opacity="0.88" stroke="#000" stroke-width="1"/>
<circle cx="190.99" cy="493.13" r="3.2" fill="#c7c7c7" fill-opacity="0.88" stroke="#000" stroke-width="1"/>
<circle cx="204.38" cy="471.26" r="3.2" fill="#c7c7c7" fill-opacity="0.88" stroke="#000" stroke-width="1"/>
<circle cx="208.73" cy="459.55" r="3.2" fill="#c7c7c7" fill-opacity="0.88" stroke="#000" stroke-width="1"/>
<circle cx="197.54" cy="474.99" r="3.2" fill="#c7c7c7" fill-opacity="0.88" stroke="#000" stroke-width="1"/>
<circle cx="216.21" cy="441.9" r="3.2" fill="#c7c7c7" fill-opacity="0.88" stroke="#000" stroke-width="1"/>
<circle cx="190.95" cy="489.75" r="3.2" fill="#c7c7c7" fill-opacity="0.88" stroke="#000" stroke-width="1"/>
<circle cx="210.91" cy="451.43" r="3.2" fill="#c7c7c7" fill-opacity="0.88" stroke="#000" stroke-width="1"/>
<circle cx="216.38" cy="446.01" r="3.2" fill="#c7c7c7" fill-opacity="0.88" stroke="#000" stroke-width="1"/>
<circle cx="234.7" cy="397.6" r="3.2" fill="#c7c7c7" fill-opacity="0.88" stroke="#000" stroke-width="1"/>
<circle cx="187.56" cy="494.77" r="3.2" fill="#c7c7c7" fill-opacity="0.88" stroke="#000" stroke-width="1"/>
<circle cx="196.1" cy="479.02" r="3.2" fill="#c7c7c7" fill-opacity="0.88" stroke="#000" stroke-width="1"/>
<circle cx="217.71" cy="435.59" r="3.2" fill="#c7c7c7" fill-opacity="0.88" stroke="#000" stroke-width="1"/>
<circle cx="211.37" cy="444.94" r="3.2" fill="#c7c7c7" fill-opacity="0.88" stroke="#000" stroke-width="1"/>
<circle cx="204.65" cy="453.77" r="3.2" fill="#c7c7c7" fill-opacity="0.88" stroke="#000" stroke-width="1"/>
<circle cx="210.83" cy="453.33" r="3.2" fill="#c7c7c7" fill-opacity="0.88" stroke="#000" stroke-width="1"/>
<circle cx="212.51" cy="453.26" r="3.2" fill="#c7c7c7" fill-opacity="0.88" stroke="#000" stroke-width="1"/>
<circle cx="194.9" cy="487.76" r="3.2" fill="#c7c7c7" fill-opacity="0.88" stroke="#000" stroke-width="1"/>
<circle cx="198.79" cy="483.24" r="3.2" fill="#c7c7c7" fill-opacity="0.88" stroke="#000" stroke-width="1"/>
<circle cx="226.39" cy="426.67" r="3.2" fill="#c7c7c7" fill-opacity="0.88" stroke="#000" stroke-width="1"/>
<circle cx="229.44" cy="422.08" r="3.2" fill="#c7c7c7" fill-opacity="0.88" stroke="#000" stroke-width="1"/>
<circle cx="200.98" cy="467.08" r="3.2" fill="#c7c7c7" fill-opacity="0.88" stroke="#000" stroke-width="1"/>
<circle cx="208.55" cy="462.24" r="3.2" fill="#c7c7c7" fill-opacity="0.88" stroke="#000" stroke-width="1"/>
<circle cx="213.06" cy="447.78" r="3.2" fill="#c7c7c7" fill-opacity="0.88" stroke="#000" stroke-width="1"/>
<circle cx="222.7" cy="426.64" r="3.2" fill="#c7c7c7" fill-opacity="0.88" stroke="#000" stroke-width="1"/>
<circle cx="218.78" cy="438.96" r="3.2" fill="#c7c7c7" fill-opacity="0.88" stroke="#000" stroke-width="1"/>
<circle cx="207.06" cy="452.41" r="3.2" fill="#c7c7c7" fill-opacity="0.88" stroke="#000" stroke-width="1"/>
<circle cx="213.47" cy="439.34" r="3.2" fill="#c7c7c7" fill-opacity="0.88" stroke="#000" stroke-width="1"/>
<circle cx="202.62" cy="459.62" r="3.2" fill="#c7c7c7" fill-opacity="0.88" stroke="#000" stroke-width="1"/>
<circle cx="190.63" cy="497.75" r="3.2" fill="#c7c7c7" fill-opacity="0.88" stroke="#000" stroke-width="1"/>
<circle cx="205.4" cy="452.88" r="3.2" fill="#c7c7c7" fill-opacity="0.88" stroke="#000" stroke-width="1"/>
<circle cx="188.16" cy="488.44" r="3.2" fill="#c7c7c7" fill-opacity="0.88" stroke="#000" stroke-width="1"/>
<circle cx="205.18" cy="457.67" r="3.2" fill="#c7c7c7" fill-opacity="0.88" stroke="#000" stroke-width="1"/>
<circle cx="214.13" cy="434.3" r="3.2" fill="#c7c7c7" fill-opacity="0.88" stroke="#000" stroke-width="1"/>
<circle cx="204.12" cy="460.64" r="3.2" fill="#c7c7c7" fill-opacity="0.88" stroke="#000" stroke-width="1"/>
<circle cx="197.06" cy="477.12" r="3.2" fill="#c7c7c7" fill-opacity="0.88" stroke="#000" stroke-width="1"/>
<circle cx="204.85" cy="456.73" r="3.2" fill="#c7c7c7" fill-opacity="0.88" stroke="#000" stroke-width="1"/>
<circle cx="201.55" cy="471.51" r="3.2" fill="#c7c7c7" fill-opacity="0.88" stroke="#000" stroke-width="1"/>
<circle cx="207.74" cy="464.58" r="3.2" fill="#c7c7c7" fill-opacity="0.88" stroke="#000" stroke-width="1"/>
<circle cx="209.27" cy="460.47" r="3.2" fill="#c7c7c7" fill-opacity="0.88" stroke="#000" stroke-width="1"/>
<circle cx="204.22" cy="466.63" r="3.2" fill="#c7c7c7" fill-opacity="0.88" stroke="#000" stroke-width="1"/>
<circle cx="201.18" cy="467.95" r="3.2" fill="#c7c7c7" fill-opacity="0.88" stroke="#000" stroke-width="1"/>
<circle cx="220.61" cy="422.12" r="3.2" fill="#c7c7c7" fill-opacity="0.88" stroke="#000" stroke-width="1"/>
<circle cx="202.94" cy="474.92" r="3.2" fill="#c7c7c7" fill-opacity="0.88" stroke="#000" stroke-width="1"/>
<circle cx="211.68" cy="439.05" r="3.2" fill="#c7c7c7" fill-opacity="0.88" stroke="#000" stroke-width="1"/>
<circle cx="204.23" cy="457.48" r="3.2" fill="#c7c7c7" fill-opacity="0.88" stroke="#000" stroke-width="1"/>
<circle cx="207.28" cy="456.81" r="3.2" fill="#c7c7c7" fill-opacity="0.88" stroke="#000" stroke-width="1"/>
<circle cx="203.34" cy="457.99" r="3.2" fill="#c7c7c7" fill-opacity="0.88" stroke="#000" stroke-width="1"/>
<circle cx="206.16" cy="453.65" r="3.2" fill="#c7c7c7" fill-opacity="0.88" stroke="#000" stroke-width="1"/>
<circle cx="209.57" cy="458.23" r="3.2" fill="#c7c7c7" fill-opacity="0.88" stroke="#000" stroke-width="1"/>
<circle cx="188.98" cy="490.73" r="3.2" fill="#c7c7c7" fill-opacity="0.88" stroke="#000" stroke-width="1"/>
<circle cx="205.44" cy="467.2" r="3.2" fill="#c7c7c7" fill-opacity="0.88" stroke="#000" stroke-width="1"/>
<circle cx="197.5" cy="482.86" r="3.2" fill="#c7c7c7" fill-opacity="0.88" stroke="#000" stroke-width="1"/>
<circle cx="220.94" cy="433.62" r="3.2" fill="#c7c7c7" fill-opacity="0.88" stroke="#000" stroke-width="1"/>
<circle cx="195.3" cy="489.59" r="3.2" fill="#c7c7c7" fill-opacity="0.88" stroke="#000" stroke-width="1"/>
<circle cx="205.31" cy="470.42" r="3.2" fill="#c7c7c7" fill-opacity="0.88" stroke="#000" stroke-width="1"/>
<circle cx="219.14" cy="436.93" r="3.2" fill="#c7c7c7" fill-opacity="0.88" stroke="#000" stroke-width="1"/>
<circle cx="211.44" cy="463.54" r="3.2" fill="#c7c7c7" fill-opacity="0.88" stroke="#000" stroke-width="1"/>
<circle cx="222.01" cy="425.58" r="3.2" fill="#c7c7c7" fill-opacity="0.88" stroke="#000" stroke-width="1"/>
<circle cx="214.02" cy="441.1" r="3.2" fill="#c7c7c7" fill-opacity="0.88" stroke="#000" stroke-width="1"/>
<circle cx="214.16" cy="438.26" r="3.2" fill="#c7c7c7" fill-opacity="0.88" stroke="#000" stroke-width="1"/>
<circle cx="188.25" cy="494.92" r="3.2" fill="#c7c7c7" fill-opacity="0.88" stroke="#000" stroke-width="1"/>
<circle cx="203.13" cy="468.46" r="3.2" fill="#c7c7c7" fill-opacity="0.88" stroke="#000" stroke-width="1"/>
<circle cx="211.74" cy="452.37" r="3.2" fill="#c7c7c7" fill-opacity="0.88" stroke="#000" stroke-width="1"/>
<circle cx="210.33" cy="451.6" r="3.2" fill="#c7c7c7" fill-opacity="0.88" stroke="#000" stroke-width="1"/>
<circle cx="200.44" cy="472.51" r="3.2" fill="#c7c7c7" fill-opacity="0.88" stroke="#000" stroke-width="1"/>
<circle cx="238.6" cy="385.1" r="3.2" fill="#c7c7c7" fill-opacity="0.88" stroke="#000" stroke-width="1"/>
<circle cx="200.41" cy="469.15" r="3.2" fill="#c7c7c7" fill-opacity="0.88" stroke="#000" stroke-width="1"/>
<circle cx="217.8" cy="435.22" r="3.2" fill="#c7c7c7" fill-opacity="0.88" stroke="#000" stroke-width="1"/>
<circle cx="215.76" cy="443.74" r="3.2" fill="#c7c7c7" fill-opacity="0.88" stroke="#000" stroke-width="1"/>
<circle cx="196.21" cy="475.7" r="3.2" fill="#c7c7c7" fill-opacity="0.88" stroke="#000" stroke-width="1"/>
<circle cx="218" cy="446.38" r="3.2" fill="#c7c7c7" fill-opacity="0.88" stroke="#000" stroke-width="1"/>
<circle cx="192.39" cy="496.77" r="3.2" fill="#c7c7c7" fill-opacity="0.88" stroke="#000" stroke-width="1"/>
<circle cx="189.71" cy="497.29" r="3.2" fill="#c7c7c7" fill-opacity="0.88" stroke="#000" stroke-width="1"/>
<circle cx="201.5" cy="472.81" r="3.2" fill="#c7c7c7" fill-opacity="0.88" stroke="#000" stroke-width="1"/>
<circle cx="200.23" cy="470" r="3.2" fill="#c7c7c7" fill-opacity="0.88" stroke="#000" stroke-width="1"/>
<circle cx="217.14" cy="461.54" r="3.2" fill="#dbdb8d" fill-opacity="0.88" stroke="#000" stroke-width="1"/>
<circle cx="221.62" cy="453.31" r="3.2" fill="#dbdb8d" fill-opacity="0.88" stroke="#000" stroke-width="1"/>
<circle cx="200.74" cy="503.96" r="3.2" fill="#dbdb8d" fill-opacity="0.88" stroke="#000" stroke-width="1"/>
<circle cx="233.29" cy="434.13" r="3.2" fill="#dbdb8d" fill-opacity="0.88" stroke="#000" stroke-width="1"/>
<circle cx="224.56" cy="441.23" r="3.2" fill="#dbdb8d" fill-opacity="0.88" stroke="#000" stroke-width="1"/>
<circle cx="219.06" cy="460.54" r="3.2" fill="#dbdb8d" fill-opacity="0.88" stroke="#000" stroke-width="1"/>
<circle cx="200.72" cy="494.25" r="3.2" fill="#dbdb8d" fill-opacity="0.88" stroke="#000" stroke-width="1"/>
<circle cx="210.56" cy="476.9" r="3.2" fill="#dbdb8d" fill-opacity="0.88" stroke="#000" stroke-width="1"/>
<circle cx="245.7" cy="413.25" r="3.2" fill="#dbdb8d" fill-opacity="0.88" stroke="#000" stroke-width="1"/>
<circle cx="227.29" cy="447.58" r="3.2" fill="#dbdb8d" fill-opacity="0.88" stroke="#000" stroke-width="1"/>
<circle cx="210.92" cy="470.09" r="3.2" fill="#dbdb8d" fill-opacity="0.88" stroke="#000" stroke-width="1"/>
<circle cx="224.27" cy="450.03" r="3.2" fill="#dbdb8d" fill-opacity="0.88" stroke="#000" stroke-width="1"/>
<circle cx="225.57" cy="462.86" r="3.2" fill="#dbdb8d" fill-opacity="0.88" stroke="#000" stroke-width="1"/>
<circle cx="212.66" cy="475.44" r="3.2" fill="#dbdb8d" fill-opacity="0.88" stroke="#000" stroke-width="1"/>
<circle cx="214.43" cy="469.08" r="3.2" fill="#dbdb8d" fill-opacity="0.88" stroke="#000" stroke-width="1"/>
<circle cx="233.02" cy="429.74" r="3.2" fill="#dbdb8d" fill-opacity="0.88" stroke="#000" stroke-width="1"/>
<circle cx="214.11" cy="478.8" r="3.2" fill="#dbdb8d" fill-opacity="0.88" stroke="#000" stroke-width="1"/>
<circle cx="212.9" cy="475.85" r="3.2" fill="#dbdb8d" fill-opacity="0.88" stroke="#000" stroke-width="1"/>
<circle cx="245.2" cy="409.4" r="3.2" fill="#dbdb8d" fill-opacity="0.88" stroke="#000" stroke-width="1"/>
<circle cx="219.01" cy="456.81" r="3.2" fill="#dbdb8d" fill-opacity="0.88" stroke="#000" stroke-width="1"/>
<circle cx="223.1" cy="439.67" r="3.2" fill="#dbdb8d" fill-opacity="0.88" stroke="#000" stroke-width="1"/>
<circle cx="208.97" cy="478.12" r="3.2" fill="#dbdb8d" fill-opacity="0.88" stroke="#000" stroke-width="1"/>
<circle cx="236.85" cy="418.94" r="3.2" fill="#dbdb8d" fill-opacity="0.88" stroke="#000" stroke-width="1"/>
<circle cx="235.08" cy="424.02" r="3.2" fill="#dbdb8d" fill-opacity="0.88" stroke="#000" stroke-width="1"/>
<circle cx="218.52" cy="452.92" r="3.2" fill="#dbdb8d" fill-opacity="0.88" stroke="#000" stroke-width="1"/>
<circle cx="231.02" cy="436.34" r="3.2" fill="#dbdb8d" fill-opacity="0.88" stroke="#000" stroke-width="1"/>
<circle cx="213.27" cy="460.38" r="3.2" fill="#dbdb8d" fill-opacity="0.88" stroke="#000" stroke-width="1"/>
<circle cx="221.14" cy="456.4" r="3.2" fill="#dbdb8d" fill-opacity="0.88" stroke="#000" stroke-width="1"/>
<circle cx="216.54" cy="468.55" r="3.2" fill="#dbdb8d" fill-opacity="0.88" stroke="#000" stroke-width="1"/>
<circle cx="234.77" cy="424.21" r="3.2" fill="#dbdb8d" fill-opacity="0.88" stroke="#000" stroke-width="1"/>
<circle cx="222.48" cy="455.86" r="3.2" fill="#dbdb8d" fill-opacity="0.88" stroke="#000" stroke-width="1"/>
<circle cx="233.28" cy="440.96" r="3.2" fill="#dbdb8d" fill-opacity="0.88" stroke="#000" stroke-width="1"/>
<circle cx="207.42" cy="483.05" r="3.2" fill="#dbdb8d" fill-opacity="0.88" stroke="#000" stroke-width="1"/>
<circle cx="205.88" cy="490.05" r="3.2" fill="#dbdb8d" fill-opacity="0.88" stroke="#000" stroke-width="1"/>
<circle cx="205.95" cy="499.79" r="3.2" fill="#dbdb8d" fill-opacity="0.88" stroke="#000" stroke-width="1"/>
<circle cx="206.46" cy="489.61" r="3.2" fill="#dbdb8d" fill-opacity="0.88" stroke="#000" stroke-width="1"/>
<circle cx="212.61" cy="475.44" r="3.2" fill="#dbdb8d" fill-opacity="0.88" stroke="#000" stroke-width="1"/>
<circle cx="230.37" cy="435.82" r="3.2" fill="#dbdb8d" fill-opacity="0.88" stroke="#000" stroke-width="1"/>
<circle cx="204.02" cy="491.23" r="3.2" fill="#dbdb8d" fill-opacity="0.88" stroke="#000" stroke-width="1"/>
<circle cx="227.62" cy="452.1" r="3.2" fill="#dbdb8d" fill-opacity="0.88" stroke="#000" stroke-width="1"/>
<circle cx="218.14" cy="468.99" r="3.2" fill="#dbdb8d" fill-opacity="0.88" stroke="#000" stroke-width="1"/>
<circle cx="205.29" cy="500.18" r="3.2" fill="#dbdb8d" fill-opacity="0.88" stroke="#000" stroke-width="1"/>
<circle cx="215.38" cy="469.07" r="3.2" fill="#dbdb8d" fill-opacity="0.88" stroke="#000" stroke-width="1"/>
<circle cx="234.52" cy="422.53" r="3.2" fill="#dbdb8d" fill-opacity="0.88" stroke="#000" stroke-width="1"/>
<circle cx="252" cy="381.2" r="3.2" fill="#dbdb8d" fill-opacity="0.88" stroke="#000" stroke-width="1"/>
<circle cx="219.8" cy="460.22" r="3.2" fill="#dbdb8d" fill-opacity="0.88" stroke="#000" stroke-width="1"/>
<circle cx="207.74" cy="481.56" r="3.2" fill="#dbdb8d" fill-opacity="0.88" stroke="#000" stroke-width="1"/>
<circle cx="215.52" cy="467.09" r="3.2" fill="#dbdb8d" fill-opacity="0.88" stroke="#000" stroke-width="1"/>
<circle cx="242.6" cy="407.4" r="3.2" fill="#dbdb8d" fill-opacity="0.88" stroke="#000" stroke-width="1"/>
<circle cx="221.14" cy="446.98" r="3.2" fill="#dbdb8d" fill-opacity="0.88" stroke="#000" stroke-width="1"/>
<circle cx="218.54" cy="466.19" r="3.2" fill="#dbdb8d" fill-opacity="0.88" stroke="#000" stroke-width="1"/>
<circle cx="230.88" cy="439.77" r="3.2" fill="#dbdb8d" fill-opacity="0.88" stroke="#000" stroke-width="1"/>
<circle cx="225.49" cy="447.54" r="3.2" fill="#dbdb8d" fill-opacity="0.88" stroke="#000" stroke-width="1"/>
<circle cx="219.69" cy="468.76" r="3.2" fill="#dbdb8d" fill-opacity="0.88" stroke="#000" stroke-width="1"/>
<circle cx="227.83" cy="440.58" r="3.2" fill="#dbdb8d" fill-opacity="0.88" stroke="#000" stroke-width="1"/>
<circle cx="222.57" cy="463.07" r="3.2" fill="#dbdb8d" fill-opacity="0.88" stroke="#000" stroke-width="1"/>
<circle cx="222.48" cy="443.89" r="3.2" fill="#dbdb8d" fill-opacity="0.88" stroke="#000" stroke-width="1"/>
<circle cx="222.52" cy="456.22" r="3.2" fill="#dbdb8d" fill-opacity="0.88" stroke="#000" stroke-width="1"/>
<circle cx="220.92" cy="455.75" r="3.2" fill="#dbdb8d" fill-opacity="0.88" stroke="#000" stroke-width="1"/>
<circle cx="236.86" cy="425.27" r="3.2" fill="#dbdb8d" fill-opacity="0.88" stroke="#000" stroke-width="1"/>
<circle cx="200.31" cy="501.78" r="3.2" fill="#dbdb8d" fill-opacity="0.88" stroke="#000" stroke-width="1"/>
<circle cx="227.14" cy="440.66" r="3.2" fill="#dbdb8d" fill-opacity="0.88" stroke="#000" stroke-width="1"/>
<circle cx="227.88" cy="438.76" r="3.2" fill="#dbdb8d" fill-opacity="0.88" stroke="#000" stroke-width="1"/>
<circle cx="204.62" cy="494.06" r="3.2" fill="#dbdb8d" fill-opacity="0.88" stroke="#000" stroke-width="1"/>
<circle cx="206.79" cy="483.36" r="3.2" fill="#dbdb8d" fill-opacity="0.88" stroke="#000" stroke-width="1"/>
<circle cx="205.03" cy="489.69" r="3.2" fill="#dbdb8d" fill-opacity="0.88" stroke="#000" stroke-width="1"/>
<circle cx="217.37" cy="459.09" r="3.2" fill="#dbdb8d" fill-opacity="0.88" stroke="#000" stroke-width="1"/>
<circle cx="204.79" cy="487.82" r="3.2" fill="#dbdb8d" fill-opacity="0.88" stroke="#000" stroke-width="1"/>
<circle cx="207.63" cy="490.08" r="3.2" fill="#dbdb8d" fill-opacity="0.88" stroke="#000" stroke-width="1"/>
<circle cx="218.04" cy="468.34" r="3.2" fill="#dbdb8d" fill-opacity="0.88" stroke="#000" stroke-width="1"/>
<circle cx="207.8" cy="486.6" r="3.2" fill="#dbdb8d" fill-opacity="0.88" stroke="#000" stroke-width="1"/>
<circle cx="215.21" cy="470.1" r="3.2" fill="#dbdb8d" fill-opacity="0.88" stroke="#000" stroke-width="1"/>
<circle cx="231.5" cy="435.34" r="3.2" fill="#dbdb8d" fill-opacity="0.88" stroke="#000" stroke-width="1"/>
<circle cx="225.83" cy="438.06" r="3.2" fill="#dbdb8d" fill-opacity="0.88" stroke="#000" stroke-width="1"/>
<circle cx="211.64" cy="470.63" r="3.2" fill="#dbdb8d" fill-opacity="0.88" stroke="#000" stroke-width="1"/>
<circle cx="210.65" cy="479.3" r="3.2" fill="#dbdb8d" fill-opacity="0.88" stroke="#000" stroke-width="1"/>
<circle cx="231.06" cy="433.39" r="3.2" fill="#dbdb8d" fill-opacity="0.88" stroke="#000" stroke-width="1"/>
<circle cx="224.74" cy="452.88" r="3.2" fill="#dbdb8d" fill-opacity="0.88" stroke="#000" stroke-width="1"/>
<circle cx="213.36" cy="471.4" r="3.2" fill="#dbdb8d" fill-opacity="0.88" stroke="#000" stroke-width="1"/>
<circle cx="258.1" cy="373.9" r="3.2" fill="#dbdb8d" fill-opacity="0.88" stroke="#000" stroke-width="1"/>
<circle cx="190.4" cy="522.8" r="3.2" fill="#dbdb8d" fill-opacity="0.88" stroke="#000" stroke-width="1"/>
<circle cx="220.3" cy="456.89" r="3.2" fill="#dbdb8d" fill-opacity="0.88" stroke="#000" stroke-width="1"/>
<circle cx="225.13" cy="445.1" r="3.2" fill="#dbdb8d" fill-opacity="0.88" stroke="#000" stroke-width="1"/>
<circle cx="217.87" cy="467.22" r="3.2" fill="#dbdb8d" fill-opacity="0.88" stroke="#000" stroke-width="1"/>
<circle cx="218.81" cy="455.99" r="3.2" fill="#dbdb8d" fill-opacity="0.88" stroke="#000" stroke-width="1"/>
<circle cx="220.09" cy="458.67" r="3.2" fill="#dbdb8d" fill-opacity="0.88" stroke="#000" stroke-width="1"/>
<circle cx="221.23" cy="457.72" r="3.2" fill="#dbdb8d" fill-opacity="0.88" stroke="#000" stroke-width="1"/>
<circle cx="229.55" cy="438.63" r="3.2" fill="#dbdb8d" fill-opacity="0.88" stroke="#000" stroke-width="1"/>
<circle cx="226.48" cy="442.74" r="3.2" fill="#dbdb8d" fill-opacity="0.88" stroke="#000" stroke-width="1"/>
<circle cx="206.68" cy="478.57" r="3.2" fill="#dbdb8d" fill-opacity="0.88" stroke="#000" stroke-width="1"/>
<circle cx="199.84" cy="498.22" r="3.2" fill="#dbdb8d" fill-opacity="0.88" stroke="#000" stroke-width="1"/>
<circle cx="224.79" cy="445.62" r="3.2" fill="#dbdb8d" fill-opacity="0.88" stroke="#000" stroke-width="1"/>
<circle cx="209.55" cy="478.25" r="3.2" fill="#dbdb8d" fill-opacity="0.88" stroke="#000" stroke-width="1"/>
<circle cx="232.07" cy="431.02" r="3.2" fill="#dbdb8d" fill-opacity="0.88" stroke="#000" stroke-width="1"/>
<circle cx="208.45" cy="476.98" r="3.2" fill="#dbdb8d" fill-opacity="0.88" stroke="#000" stroke-width="1"/>
<circle cx="203.37" cy="491.45" r="3.2" fill="#dbdb8d" fill-opacity="0.88" stroke="#000" stroke-width="1"/>
<circle cx="229.13" cy="446.62" r="3.2" fill="#dbdb8d" fill-opacity="0.88" stroke="#000" stroke-width="1"/>
<circle cx="231.81" cy="439.11" r="3.2" fill="#dbdb8d" fill-opacity="0.88" stroke="#000" stroke-width="1"/>
<circle cx="210.62" cy="476.19" r="3.2" fill="#dbdb8d" fill-opacity="0.88" stroke="#000" stroke-width="1"/>
<circle cx="198.17" cy="499.84" r="3.2" fill="#dbdb8d" fill-opacity="0.88" stroke="#000" stroke-width="1"/>
<circle cx="223.31" cy="483.71" r="3.2" fill="#9edae5" fill-opacity="0.88" stroke="#000" stroke-width="1"/>
<circle cx="226.8" cy="480.09" r="3.2" fill="#9edae5" fill-opacity="0.88" stroke="#000" stroke-width="1"/>
<circle cx="239.91" cy="434.6" r="3.2" fill="#9edae5" fill-opacity="0.88" stroke="#000" stroke-width="1"/>
<circle cx="230.66" cy="465.5" r="3.2" fill="#9edae5" fill-opacity="0.88" stroke="#000" stroke-width="1"/>
<circle cx="227.99" cy="465.07" r="3.2" fill="#9edae5" fill-opacity="0.88" stroke="#000" stroke-width="1"/>
<circle cx="223.3" cy="485.33" r="3.2" fill="#9edae5" fill-opacity="0.88" stroke="#000" stroke-width="1"/>
<circle cx="236.39" cy="455.08" r="3.2" fill="#9edae5" fill-opacity="0.88" stroke="#000" stroke-width="1"/>
<circle cx="222.77" cy="470.62" r="3.2" fill="#9edae5" fill-opacity="0.88" stroke="#000" stroke-width="1"/>
<circle cx="225.83" cy="484.38" r="3.2" fill="#9edae5" fill-opacity="0.88" stroke="#000" stroke-width="1"/>
<circle cx="226.02" cy="479.69" r="3.2" fill="#9edae5" fill-opacity="0.88" stroke="#000" stroke-width="1"/>
<circle cx="234.29" cy="461.14" r="3.2" fill="#9edae5" fill-opacity="0.88" stroke="#000" stroke-width="1"/>
<circle cx="229.85" cy="461.92" r="3.2" fill="#9edae5" fill-opacity="0.88" stroke="#000" stroke-width="1"/>
<circle cx="228.84" cy="463.1" r="3.2" fill="#9edae5" fill-opacity="0.88" stroke="#000" stroke-width="1"/>
<circle cx="220.18" cy="486.16" r="3.2" fill="#9edae5" fill-opacity="0.88" stroke="#000" stroke-width="1"/>
<circle cx="231.45" cy="456.13" r="3.2" fill="#9edae5" fill-opacity="0.88" stroke="#000" stroke-width="1"/>
<circle cx="229.55" cy="472.43" r="3.2" fill="#9edae5" fill-opacity="0.88" stroke="#000" stroke-width="1"/>
<circle cx="222.8" cy="474.94" r="3.2" fill="#9edae5" fill-opacity="0.88" stroke="#000" stroke-width="1"/>
<circle cx="231.23" cy="476.62" r="3.2" fill="#9edae5" fill-opacity="0.88" stroke="#000" stroke-width="1"/>
<circle cx="228.16" cy="462.66" r="3.2" fill="#9edae5" fill-opacity="0.88" stroke="#000" stroke-width="1"/>
<circle cx="238.3" cy="444.73" r="3.2" fill="#9edae5" fill-opacity="0.88" stroke="#000" stroke-width="1"/>
<circle cx="231.25" cy="458.13" r="3.2" fill="#9edae5" fill-opacity="0.88" stroke="#000" stroke-width="1"/>
<circle cx="229.81" cy="460.47" r="3.2" fill="#9edae5" fill-opacity="0.88" stroke="#000" stroke-width="1"/>
<circle cx="228.34" cy="471.43" r="3.2" fill="#9edae5" fill-opacity="0.88" stroke="#000" stroke-width="1"/>
<circle cx="246.35" cy="431.1" r="3.2" fill="#9edae5" fill-opacity="0.88" stroke="#000" stroke-width="1"/>
<circle cx="247.02" cy="433.3" r="3.2" fill="#9edae5" fill-opacity="0.88" stroke="#000" stroke-width="1"/>
<circle cx="270.1" cy="371.3" r="3.2" fill="#9edae5" fill-opacity="0.88" stroke="#000" stroke-width="1"/>
<circle cx="244.74" cy="425.37" r="3.2" fill="#9edae5" fill-opacity="0.88" stroke="#000" stroke-width="1"/>
<circle cx="234.85" cy="455.04" r="3.2" fill="#9edae5" fill-opacity="0.88" stroke="#000" stroke-width="1"/>
<circle cx="237.83" cy="444.82" r="3.2" fill="#9edae5" fill-opacity="0.88" stroke="#000" stroke-width="1"/>
<circle cx="227.08" cy="470.26" r="3.2" fill="#9edae5" fill-opacity="0.88" stroke="#000" stroke-width="1"/>
<circle cx="262.3" cy="395" r="3.2" fill="#9edae5" fill-opacity="0.88" stroke="#000" stroke-width="1"/>
<circle cx="206.8" cy="517" r="3.2" fill="#9edae5" fill-opacity="0.88" stroke="#000" stroke-width="1"/>
<circle cx="251.68" cy="425.09" r="3.2" fill="#9edae5" fill-opacity="0.88" stroke="#000" stroke-width="1"/>
<circle cx="214.97" cy="491.68" r="3.2" fill="#9edae5" fill-opacity="0.88" stroke="#000" stroke-width="1"/>
<circle cx="222.4" cy="485.92" r="3.2" fill="#9edae5" fill-opacity="0.88" stroke="#000" stroke-width="1"/>
<circle cx="227.52" cy="483.9" r="3.2" fill="#9edae5" fill-opacity="0.88" stroke="#000" stroke-width="1"/>
<circle cx="219.99" cy="483.85" r="3.2" fill="#9edae5" fill-opacity="0.88" stroke="#000" stroke-width="1"/>
<circle cx="243.52" cy="434.8" r="3.2" fill="#9edae5" fill-opacity="0.88" stroke="#000" stroke-width="1"/>
<circle cx="233.83" cy="460.08" r="3.2" fill="#9edae5" fill-opacity="0.88" stroke="#000" stroke-width="1"/>
<circle cx="245.5" cy="432.99" r="3.2" fill="#9edae5" fill-opacity="0.88" stroke="#000" stroke-width="1"/>
<circle cx="213.75" cy="503.15" r="3.2" fill="#9edae5" fill-opacity="0.88" stroke="#000" stroke-width="1"/>
<circle cx="238.18" cy="451.31" r="3.2" fill="#9edae5" fill-opacity="0.88" stroke="#000" stroke-width="1"/>
<circle cx="243.02" cy="438.5" r="3.2" fill="#9edae5" fill-opacity="0.88" stroke="#000" stroke-width="1"/>
<circle cx="234.5" cy="453.48" r="3.2" fill="#9edae5" fill-opacity="0.88" stroke="#000" stroke-width="1"/>
<circle cx="229.64" cy="462.87" r="3.2" fill="#9edae5" fill-opacity="0.88" stroke="#000" stroke-width="1"/>
<circle cx="230.31" cy="462.9" r="3.2" fill="#9edae5" fill-opacity="0.88" stroke="#000" stroke-width="1"/>
<circle cx="227.84" cy="470.24" r="3.2" fill="#9edae5" fill-opacity="0.88" stroke="#000" stroke-width="1"/>
<circle cx="232.9" cy="448.45" r="3.2" fill="#9edae5" fill-opacity="0.88" stroke="#000" stroke-width="1"/>
<circle cx="216.18" cy="495.58" r="3.2" fill="#9edae5" fill-opacity="0.88" stroke="#000" stroke-width="1"/>
<circle cx="231.12" cy="464.8" r="3.2" fill="#9edae5" fill-opacity="0.88" stroke="#000" stroke-width="1"/>
<circle cx="229.04" cy="462.56" r="3.2" fill="#9edae5" fill-opacity="0.88" stroke="#000" stroke-width="1"/>
<circle cx="226.55" cy="472.68" r="3.2" fill="#9edae5" fill-opacity="0.88" stroke="#000" stroke-width="1"/>
<circle cx="204.6" cy="523.3" r="3.2" fill="#9edae5" fill-opacity="0.88" stroke="#000" stroke-width="1"/>
<circle cx="216.91" cy="503.17" r="3.2" fill="#9edae5" fill-opacity="0.88" stroke="#000" stroke-width="1"/>
<circle cx="214.85" cy="486.91" r="3.2" fill="#9edae5" fill-opacity="0.88" stroke="#000" stroke-width="1"/>
<circle cx="247.23" cy="420.95" r="3.2" fill="#9edae5" fill-opacity="0.88" stroke="#000" stroke-width="1"/>
<circle cx="225.77" cy="478.31" r="3.2" fill="#9edae5" fill-opacity="0.88" stroke="#000" stroke-width="1"/>
<circle cx="224.95" cy="476.92" r="3.2" fill="#9edae5" fill-opacity="0.88" stroke="#000" stroke-width="1"/>
<circle cx="216.42" cy="493.1" r="3.2" fill="#9edae5" fill-opacity="0.88" stroke="#000" stroke-width="1"/>
<circle cx="236.23" cy="449.31" r="3.2" fill="#9edae5" fill-opacity="0.88" stroke="#000" stroke-width="1"/>
<circle cx="217.71" cy="485.76" r="3.2" fill="#9edae5" fill-opacity="0.88" stroke="#000" stroke-width="1"/>
<circle cx="217.46" cy="483.55" r="3.2" fill="#9edae5" fill-opacity="0.88" stroke="#000" stroke-width="1"/>
<circle cx="225.7" cy="480.83" r="3.2" fill="#9edae5" fill-opacity="0.88" stroke="#000" stroke-width="1"/>
<circle cx="225.79" cy="470.58" r="3.2" fill="#9edae5" fill-opacity="0.88" stroke="#000" stroke-width="1"/>
<circle cx="237.86" cy="440.18" r="3.2" fill="#9edae5" fill-opacity="0.88" stroke="#000" stroke-width="1"/>
<circle cx="234.79" cy="454.49" r="3.2" fill="#9edae5" fill-opacity="0.88" stroke="#000" stroke-width="1"/>
<circle cx="224.49" cy="478.77" r="3.2" fill="#9edae5" fill-opacity="0.88" stroke="#000" stroke-width="1"/>
<circle cx="249.08" cy="422.48" r="3.2" fill="#9edae5" fill-opacity="0.88" stroke="#000" stroke-width="1"/>
<circle cx="230.82" cy="464.53" r="3.2" fill="#9edae5" fill-opacity="0.88" stroke="#000" stroke-width="1"/>
<circle cx="237.63" cy="450.98" r="3.2" fill="#9edae5" fill-opacity="0.88" stroke="#000" stroke-width="1"/>
<circle cx="223.3" cy="484.57" r="3.2" fill="#9edae5" fill-opacity="0.88" stroke="#000" stroke-width="1"/>
<circle cx="249.49" cy="427.81" r="3.2" fill="#9edae5" fill-opacity="0.88" stroke="#000" stroke-width="1"/>
<circle cx="230.96" cy="461.89" r="3.2" fill="#9edae5" fill-opacity="0.88" stroke="#000" stroke-width="1"/>
<circle cx="225.62" cy="469.29" r="3.2" fill="#9edae5" fill-opacity="0.88" stroke="#000" stroke-width="1"/>
<circle cx="245.73" cy="422.94" r="3.2" fill="#9edae5" fill-opacity="0.88" stroke="#000" stroke-width="1"/>
<circle cx="224.31" cy="475.98" r="3.2" fill="#9edae5" fill-opacity="0.88" stroke="#000" stroke-width="1"/>
<circle cx="232.06" cy="462.36" r="3.2" fill="#9edae5" fill-opacity="0.88" stroke="#000" stroke-width="1"/>
<circle cx="231.25" cy="462.95" r="3.2" fill="#9edae5" fill-opacity="0.88" stroke="#000" stroke-width="1"/>
<circle cx="224.25" cy="481.92" r="3.2" fill="#9edae5" fill-opacity="0.88" stroke="#000" stroke-width="1"/>
<circle cx="249.08" cy="438.26" r="3.2" fill="#9edae5" fill-opacity="0.88" stroke="#000" stroke-width="1"/>
<circle cx="236.28" cy="454.49" r="3.2" fill="#9edae5" fill-opacity="0.88" stroke="#000" stroke-width="1"/>
<circle cx="216.48" cy="492.57" r="3.2" fill="#9edae5" fill-opacity="0.88" stroke="#000" stroke-width="1"/>
<circle cx="226.1" cy="466.32" r="3.2" fill="#9edae5" fill-opacity="0.88" stroke="#000" stroke-width="1"/>
<circle cx="245.01" cy="429.42" r="3.2" fill="#9edae5" fill-opacity="0.88" stroke="#000" stroke-width="1"/>
<circle cx="266.2" cy="393.6" r="3.2" fill="#9edae5" fill-opacity="0.88" stroke="#000" stroke-width="1"/>
<circle cx="231.04" cy="463.38" r="3.2" fill="#9edae5" fill-opacity="0.88" stroke="#000" stroke-width="1"/>
<circle cx="203.9" cy="517" r="3.2" fill="#9edae5" fill-opacity="0.88" stroke="#000" stroke-width="1"/>
<circle cx="223.44" cy="477.18" r="3.2" fill="#9edae5" fill-opacity="0.88" stroke="#000" stroke-width="1"/>
<circle cx="225.94" cy="474.39" r="3.2" fill="#9edae5" fill-opacity="0.88" stroke="#000" stroke-width="1"/>
<circle cx="232.01" cy="465.29" r="3.2" fill="#9edae5" fill-opacity="0.88" stroke="#000" stroke-width="1"/>
<circle cx="245.65" cy="436.91" r="3.2" fill="#9edae5" fill-opacity="0.88" stroke="#000" stroke-width="1"/>
<circle cx="222.32" cy="492.85" r="3.2" fill="#9edae5" fill-opacity="0.88" stroke="#000" stroke-width="1"/>
<circle cx="264.2" cy="397.6" r="3.2" fill="#9edae5" fill-opacity="0.88" stroke="#000" stroke-width="1"/>
<circle cx="232.58" cy="469.54" r="3.2" fill="#9edae5" fill-opacity="0.88" stroke="#000" stroke-width="1"/>
<circle cx="242.56" cy="435.92" r="3.2" fill="#9edae5" fill-opacity="0.88" stroke="#000" stroke-width="1"/>
<circle cx="214.4" cy="503.55" r="3.2" fill="#9edae5" fill-opacity="0.88" stroke="#000" stroke-width="1"/>
<circle cx="243.98" cy="427.42" r="3.2" fill="#9edae5" fill-opacity="0.88" stroke="#000" stroke-width="1"/>
<circle cx="224.94" cy="479.2" r="3.2" fill="#9edae5" fill-opacity="0.88" stroke="#000" stroke-width="1"/>
<circle cx="232.57" cy="456.21" r="3.2" fill="#9edae5" fill-opacity="0.88" stroke="#000" stroke-width="1"/>
<circle cx="247.33" cy="426.55" r="3.2" fill="#9edae5" fill-opacity="0.88" stroke="#000" stroke-width="1"/>
<line x1="81.99" y1="525.01" x2="147.98" y2="382.97" stroke="#000" stroke-width="1"/>
<line x1="99.98" y1="513.02" x2="156.96" y2="391.04" stroke="#000" stroke-width="1"/>
<line x1="111.99" y1="512.03" x2="174.99" y2="378.97" stroke="#000" stroke-width="1"/>
<line x1="121.01" y1="526" x2="186.01" y2="386.96" stroke="#000" stroke-width="1"/>
<line x1="140" y1="508.03" x2="190.99" y2="401.03" stroke="#000" stroke-width="1"/>
<line x1="152.01" y1="517.02" x2="208.03" y2="395.04" stroke="#000" stroke-width="1"/>
<line x1="160.99" y1="526" x2="222" y2="395.04" stroke="#000" stroke-width="1"/>
<line x1="179.98" y1="519.02" x2="238.99" y2="385.96" stroke="#000" stroke-width="1"/>
<line x1="190.99" y1="521.01" x2="257.99" y2="375.98" stroke="#000" stroke-width="1"/>
<line x1="205" y1="521.01" x2="269" y2="377.97" stroke="#000" stroke-width="1"/>
<line x1="141" y1="561.4" x2="240.75" y2="334.5" stroke="#000" stroke-width="1.8"/>
</g>
<rect x="61.2" y="334.5" width="239.6" height="226.7" fill="none" stroke="#222" stroke-width="1.45"/>
<line x1="61.2" y1="552.32" x2="64" y2="552.32" stroke="#222" stroke-width="1.1"/>
<line x1="300.8" y1="552.32" x2="298" y2="552.32" stroke="#222" stroke-width="1.1"/>
<line x1="61.2" y1="543.25" x2="64" y2="543.25" stroke="#222" stroke-width="1.1"/>
<line x1="300.8" y1="543.25" x2="298" y2="543.25" stroke="#222" stroke-width="1.1"/>
<line x1="61.2" y1="534.17" x2="64" y2="534.17" stroke="#222" stroke-width="1.1"/>
<line x1="300.8" y1="534.17" x2="298" y2="534.17" stroke="#222" stroke-width="1.1"/>
<line x1="61.2" y1="525.1" x2="64" y2="525.1" stroke="#222" stroke-width="1.1"/>
<line x1="300.8" y1="525.1" x2="298" y2="525.1" stroke="#222" stroke-width="1.1"/>
<line x1="61.2" y1="516.02" x2="67" y2="516.02" stroke="#222" stroke-width="1.1"/>
<line x1="300.8" y1="516.02" x2="295" y2="516.02" stroke="#222" stroke-width="1.1"/>
<line x1="61.2" y1="506.94" x2="64" y2="506.94" stroke="#222" stroke-width="1.1"/>
<line x1="300.8" y1="506.94" x2="298" y2="506.94" stroke="#222" stroke-width="1.1"/>
<line x1="61.2" y1="497.87" x2="64" y2="497.87" stroke="#222" stroke-width="1.1"/>
<line x1="300.8" y1="497.87" x2="298" y2="497.87" stroke="#222" stroke-width="1.1"/>
<line x1="61.2" y1="488.79" x2="64" y2="488.79" stroke="#222" stroke-width="1.1"/>
<line x1="300.8" y1="488.79" x2="298" y2="488.79" stroke="#222" stroke-width="1.1"/>
<line x1="61.2" y1="479.72" x2="64" y2="479.72" stroke="#222" stroke-width="1.1"/>
<line x1="300.8" y1="479.72" x2="298" y2="479.72" stroke="#222" stroke-width="1.1"/>
<line x1="61.2" y1="470.64" x2="67" y2="470.64" stroke="#222" stroke-width="1.1"/>
<line x1="300.8" y1="470.64" x2="295" y2="470.64" stroke="#222" stroke-width="1.1"/>
<line x1="61.2" y1="461.56" x2="64" y2="461.56" stroke="#222" stroke-width="1.1"/>
<line x1="300.8" y1="461.56" x2="298" y2="461.56" stroke="#222" stroke-width="1.1"/>
<line x1="61.2" y1="452.49" x2="64" y2="452.49" stroke="#222" stroke-width="1.1"/>
<line x1="300.8" y1="452.49" x2="298" y2="452.49" stroke="#222" stroke-width="1.1"/>
<line x1="61.2" y1="443.41" x2="64" y2="443.41" stroke="#222" stroke-width="1.1"/>
<line x1="300.8" y1="443.41" x2="298" y2="443.41" stroke="#222" stroke-width="1.1"/>
<line x1="61.2" y1="434.34" x2="64" y2="434.34" stroke="#222" stroke-width="1.1"/>
<line x1="300.8" y1="434.34" x2="298" y2="434.34" stroke="#222" stroke-width="1.1"/>
<line x1="61.2" y1="425.26" x2="67" y2="425.26" stroke="#222" stroke-width="1.1"/>
<line x1="300.8" y1="425.26" x2="295" y2="425.26" stroke="#222" stroke-width="1.1"/>
<line x1="61.2" y1="416.18" x2="64" y2="416.18" stroke="#222" stroke-width="1.1"/>
<line x1="300.8" y1="416.18" x2="298" y2="416.18" stroke="#222" stroke-width="1.1"/>
<line x1="61.2" y1="407.11" x2="64" y2="407.11" stroke="#222" stroke-width="1.1"/>
<line x1="300.8" y1="407.11" x2="298" y2="407.11" stroke="#222" stroke-width="1.1"/>
<line x1="61.2" y1="398.03" x2="64" y2="398.03" stroke="#222" stroke-width="1.1"/>
<line x1="300.8" y1="398.03" x2="298" y2="398.03" stroke="#222" stroke-width="1.1"/>
<line x1="61.2" y1="388.96" x2="64" y2="388.96" stroke="#222" stroke-width="1.1"/>
<line x1="300.8" y1="388.96" x2="298" y2="388.96" stroke="#222" stroke-width="1.1"/>
<line x1="61.2" y1="379.88" x2="67" y2="379.88" stroke="#222" stroke-width="1.1"/>
<line x1="300.8" y1="379.88" x2="295" y2="379.88" stroke="#222" stroke-width="1.1"/>
<line x1="61.2" y1="370.8" x2="64" y2="370.8" stroke="#222" stroke-width="1.1"/>
<line x1="300.8" y1="370.8" x2="298" y2="370.8" stroke="#222" stroke-width="1.1"/>
<line x1="61.2" y1="361.73" x2="64" y2="361.73" stroke="#222" stroke-width="1.1"/>
<line x1="300.8" y1="361.73" x2="298" y2="361.73" stroke="#222" stroke-width="1.1"/>
<line x1="61.2" y1="352.65" x2="64" y2="352.65" stroke="#222" stroke-width="1.1"/>
<line x1="300.8" y1="352.65" x2="298" y2="352.65" stroke="#222" stroke-width="1.1"/>
<line x1="61.2" y1="343.58" x2="64" y2="343.58" stroke="#222" stroke-width="1.1"/>
<line x1="300.8" y1="343.58" x2="298" y2="343.58" stroke="#222" stroke-width="1.1"/>
<line x1="81.15" y1="334.5" x2="81.15" y2="337.4" stroke="#222" stroke-width="1.1"/>
<line x1="81.15" y1="561.2" x2="81.15" y2="558.3" stroke="#222" stroke-width="1.1"/>
<line x1="101.1" y1="334.5" x2="101.1" y2="337.4" stroke="#222" stroke-width="1.1"/>
<line x1="101.1" y1="561.2" x2="101.1" y2="558.3" stroke="#222" stroke-width="1.1"/>
<line x1="121.05" y1="334.5" x2="121.05" y2="337.4" stroke="#222" stroke-width="1.1"/>
<line x1="121.05" y1="561.2" x2="121.05" y2="558.3" stroke="#222" stroke-width="1.1"/>
<line x1="141" y1="334.5" x2="141" y2="340.3" stroke="#222" stroke-width="1.1"/>
<line x1="141" y1="561.2" x2="141" y2="555.4" stroke="#222" stroke-width="1.1"/>
<line x1="160.95" y1="334.5" x2="160.95" y2="337.4" stroke="#222" stroke-width="1.1"/>
<line x1="160.95" y1="561.2" x2="160.95" y2="558.3" stroke="#222" stroke-width="1.1"/>
<line x1="180.9" y1="334.5" x2="180.9" y2="337.4" stroke="#222" stroke-width="1.1"/>
<line x1="180.9" y1="561.2" x2="180.9" y2="558.3" stroke="#222" stroke-width="1.1"/>
<line x1="200.85" y1="334.5" x2="200.85" y2="337.4" stroke="#222" stroke-width="1.1"/>
<line x1="200.85" y1="561.2" x2="200.85" y2="558.3" stroke="#222" stroke-width="1.1"/>
<line x1="220.8" y1="334.5" x2="220.8" y2="340.3" stroke="#222" stroke-width="1.1"/>
<line x1="220.8" y1="561.2" x2="220.8" y2="555.4" stroke="#222" stroke-width="1.1"/>
<line x1="240.75" y1="334.5" x2="240.75" y2="337.4" stroke="#222" stroke-width="1.1"/>
<line x1="240.75" y1="561.2" x2="240.75" y2="558.3" stroke="#222" stroke-width="1.1"/>
<line x1="260.7" y1="334.5" x2="260.7" y2="337.4" stroke="#222" stroke-width="1.1"/>
<line x1="260.7" y1="561.2" x2="260.7" y2="558.3" stroke="#222" stroke-width="1.1"/>
<line x1="280.65" y1="334.5" x2="280.65" y2="337.4" stroke="#222" stroke-width="1.1"/>
<line x1="280.65" y1="561.2" x2="280.65" y2="558.3" stroke="#222" stroke-width="1.1"/>
<polygon points="41.66,339.89 41.66,328.98 40.73,328.98 40.26,329.97 39.22,330.69 37.59,331 37.59,332.01 40.4,331.63 40.4,339.89" fill="#111" stroke="#111" stroke-width="0.3"/>
<text transform="translate(44.19,339.89) scale(1,1.04)" x="0" y="0" font-size="14.8" fill="#111" stroke="#111" stroke-width="0.3">5</text>
<rect x="25.48" y="334.16" width="9.5" height="1.15" fill="#111"/>
<text transform="translate(35.92,385.27) scale(1,1.04)" x="0" y="0" font-size="14.8" fill="#111" stroke="#111" stroke-width="0.3">2</text>
<text transform="translate(44.15,385.27) scale(1,1.04)" x="0" y="0" font-size="14.8" fill="#111" stroke="#111" stroke-width="0.3">0</text>
<rect x="24.56" y="379.54" width="9.5" height="1.15" fill="#111"/>
<text transform="translate(35.96,430.65) scale(1,1.04)" x="0" y="0" font-size="14.8" fill="#111" stroke="#111" stroke-width="0.3">2</text>
<text transform="translate(44.19,430.65) scale(1,1.04)" x="0" y="0" font-size="14.8" fill="#111" stroke="#111" stroke-width="0.3">5</text>
<rect x="24.6" y="424.92" width="9.5" height="1.15" fill="#111"/>
<text transform="translate(35.92,476.03) scale(1,1.04)" x="0" y="0" font-size="14.8" fill="#111" stroke="#111" stroke-width="0.3">3</text>
<text transform="translate(44.15,476.03) scale(1,1.04)" x="0" y="0" font-size="14.8" fill="#111" stroke="#111" stroke-width="0.3">0</text>
<rect x="24.38" y="470.3" width="9.5" height="1.15" fill="#111"/>
<text transform="translate(35.96,521.41) scale(1,1.04)" x="0" y="0" font-size="14.8" fill="#111" stroke="#111" stroke-width="0.3">3</text>
<text transform="translate(44.19,521.41) scale(1,1.04)" x="0" y="0" font-size="14.8" fill="#111" stroke="#111" stroke-width="0.3">5</text>
<rect x="24.43" y="515.68" width="9.5" height="1.15" fill="#111"/>
<text transform="translate(35.92,566.79) scale(1,1.04)" x="0" y="0" font-size="14.8" fill="#111" stroke="#111" stroke-width="0.3">4</text>
<text transform="translate(44.15,566.79) scale(1,1.04)" x="0" y="0" font-size="14.8" fill="#111" stroke="#111" stroke-width="0.3">0</text>
<rect x="24.16" y="561.06" width="9.5" height="1.15" fill="#111"/>
<text transform="translate(57.58,578.7) scale(1,1.04)" x="0" y="0" font-size="14.8" fill="#111" stroke="#111" stroke-width="0.3">6</text>
<text transform="translate(65.81,578.7) scale(1,1.04)" x="0" y="0" font-size="14.8" fill="#111" stroke="#111" stroke-width="0.3">0</text>
<rect x="46.94" y="572.97" width="9.3" height="1.15" fill="#111"/>
<text transform="translate(137.59,578.7) scale(1,1.04)" x="0" y="0" font-size="14.8" fill="#111" stroke="#111" stroke-width="0.3">4</text>
<text transform="translate(145.82,578.7) scale(1,1.04)" x="0" y="0" font-size="14.8" fill="#111" stroke="#111" stroke-width="0.3">0</text>
<rect x="126.53" y="572.97" width="9.3" height="1.15" fill="#111"/>
<text transform="translate(217.19,578.7) scale(1,1.04)" x="0" y="0" font-size="14.8" fill="#111" stroke="#111" stroke-width="0.3">2</text>
<text transform="translate(225.42,578.7) scale(1,1.04)" x="0" y="0" font-size="14.8" fill="#111" stroke="#111" stroke-width="0.3">0</text>
<rect x="206.53" y="572.97" width="9.3" height="1.15" fill="#111"/>
<text transform="translate(295.49,578.7) scale(1,1.04)" x="0" y="0" font-size="14.8" fill="#111" stroke="#111" stroke-width="0.3">0</text>
<rect x="65.5" y="339.5" width="118" height="31.4" rx="2.5" fill="#fff" fill-opacity="0.8" stroke="#cfcfcf" stroke-width="1"/>
<circle cx="80.0" cy="347.6" r="3.2" fill="#1f77b4" fill-opacity="0.88" stroke="#000" stroke-width="1"/>
<circle cx="80.0" cy="363.5" r="3.2" fill="#ff7f0e" fill-opacity="0.88" stroke="#000" stroke-width="1"/>
<text x="97.9" y="351.8" font-family='"Liberation Sans", sans-serif' font-size="11.5" fill="#111" stroke="#111" stroke-width="0.24" textLength="80.13" lengthAdjust="spacingAndGlyphs"><tspan>Co</tspan><tspan font-size="7.82" dy="2.42">66</tspan><tspan dy="-2.42">Ni</tspan><tspan font-size="7.82" dy="2.42">10</tspan><tspan dy="-2.42">Al</tspan><tspan font-size="7.82" dy="2.42">8</tspan><tspan dy="-2.42">Cr</tspan><tspan font-size="7.82" dy="2.42">24</tspan></text>
<circle cx="101.2" cy="365.8" r="0.9" fill="#111"/>
<circle cx="105.6" cy="365.8" r="0.9" fill="#111"/>
<circle cx="110.3" cy="365.8" r="0.9" fill="#111"/>
<text x="34.93" y="320.4" font-family='"Liberation Sans", sans-serif' font-size="18" fill="#111" stroke="#111" stroke-width="0.3" textLength="23.04" lengthAdjust="spacingAndGlyphs">(b)</text>
<defs>
<clipPath id="cc"><rect x="398.0" y="336.7" width="281.4" height="223.6"/></clipPath>
</defs>
<g clip-path="url(#cc)">
<circle cx="451.32" cy="517.82" r="2.8" fill="#1f77b4" fill-opacity="0.88" stroke="#000" stroke-width="1.1"/>
<circle cx="448.91" cy="516.67" r="2.8" fill="#1f77b4" fill-opacity="0.88" stroke="#000" stroke-width="1.1"/>
<circle cx="456.54" cy="510.93" r="2.8" fill="#1f77b4" fill-opacity="0.88" stroke="#000" stroke-width="1.1"/>
<circle cx="460.92" cy="511.45" r="2.8" fill="#1f77b4" fill-opacity="0.88" stroke="#000" stroke-width="1.1"/>
<circle cx="452.35" cy="517.77" r="2.8" fill="#1f77b4" fill-opacity="0.88" stroke="#000" stroke-width="1.1"/>
<circle cx="501.2" cy="479.49" r="2.8" fill="#1f77b4" fill-opacity="0.88" stroke="#000" stroke-width="1.1"/>
<circle cx="452.69" cy="515.49" r="2.8" fill="#1f77b4" fill-opacity="0.88" stroke="#000" stroke-width="1.1"/>
<circle cx="454.87" cy="515.21" r="2.8" fill="#1f77b4" fill-opacity="0.88" stroke="#000" stroke-width="1.1"/>
<circle cx="452.35" cy="515.35" r="2.8" fill="#1f77b4" fill-opacity="0.88" stroke="#000" stroke-width="1.1"/>
<circle cx="453.07" cy="520.77" r="2.8" fill="#1f77b4" fill-opacity="0.88" stroke="#000" stroke-width="1.1"/>
<circle cx="463.6" cy="504.53" r="2.8" fill="#1f77b4" fill-opacity="0.88" stroke="#000" stroke-width="1.1"/>
<circle cx="456.51" cy="514" r="2.8" fill="#1f77b4" fill-opacity="0.88" stroke="#000" stroke-width="1.1"/>
<circle cx="449.75" cy="517.58" r="2.8" fill="#1f77b4" fill-opacity="0.88" stroke="#000" stroke-width="1.1"/>
<circle cx="450.47" cy="518.89" r="2.8" fill="#1f77b4" fill-opacity="0.88" stroke="#000" stroke-width="1.1"/>
<circle cx="452.39" cy="517.93" r="2.8" fill="#1f77b4" fill-opacity="0.88" stroke="#000" stroke-width="1.1"/>
<circle cx="451.16" cy="516.96" r="2.8" fill="#1f77b4" fill-opacity="0.88" stroke="#000" stroke-width="1.1"/>
<circle cx="455.52" cy="512.66" r="2.8" fill="#1f77b4" fill-opacity="0.88" stroke="#000" stroke-width="1.1"/>
<circle cx="456.31" cy="514.4" r="2.8" fill="#1f77b4" fill-opacity="0.88" stroke="#000" stroke-width="1.1"/>
<circle cx="471.12" cy="502.52" r="2.8" fill="#1f77b4" fill-opacity="0.88" stroke="#000" stroke-width="1.1"/>
<circle cx="453.07" cy="514.92" r="2.8" fill="#1f77b4" fill-opacity="0.88" stroke="#000" stroke-width="1.1"/>
<circle cx="464.35" cy="509.55" r="2.8" fill="#1f77b4" fill-opacity="0.88" stroke="#000" stroke-width="1.1"/>
<circle cx="472.54" cy="504.54" r="2.8" fill="#1f77b4" fill-opacity="0.88" stroke="#000" stroke-width="1.1"/>
<circle cx="474.45" cy="498.61" r="2.8" fill="#1f77b4" fill-opacity="0.88" stroke="#000" stroke-width="1.1"/>
<circle cx="458.77" cy="513.53" r="2.8" fill="#1f77b4" fill-opacity="0.88" stroke="#000" stroke-width="1.1"/>
<circle cx="471.74" cy="506.11" r="2.8" fill="#1f77b4" fill-opacity="0.88" stroke="#000" stroke-width="1.1"/>
<circle cx="467.41" cy="506.99" r="2.8" fill="#1f77b4" fill-opacity="0.88" stroke="#000" stroke-width="1.1"/>
<circle cx="458.92" cy="512.95" r="2.8" fill="#1f77b4" fill-opacity="0.88" stroke="#000" stroke-width="1.1"/>
<circle cx="453.58" cy="518.86" r="2.8" fill="#1f77b4" fill-opacity="0.88" stroke="#000" stroke-width="1.1"/>
<circle cx="454.6" cy="518.75" r="2.8" fill="#1f77b4" fill-opacity="0.88" stroke="#000" stroke-width="1.1"/>
<circle cx="455.16" cy="514.76" r="2.8" fill="#1f77b4" fill-opacity="0.88" stroke="#000" stroke-width="1.1"/>
<circle cx="448.91" cy="517.74" r="2.8" fill="#1f77b4" fill-opacity="0.88" stroke="#000" stroke-width="1.1"/>
<circle cx="432.45" cy="533.43" r="2.8" fill="#1f77b4" fill-opacity="0.88" stroke="#000" stroke-width="1.1"/>
<circle cx="453.8" cy="517.65" r="2.8" fill="#1f77b4" fill-opacity="0.88" stroke="#000" stroke-width="1.1"/>
<circle cx="460.18" cy="509.97" r="2.8" fill="#1f77b4" fill-opacity="0.88" stroke="#000" stroke-width="1.1"/>
<circle cx="465.91" cy="504.65" r="2.8" fill="#1f77b4" fill-opacity="0.88" stroke="#000" stroke-width="1.1"/>
<circle cx="455.76" cy="515.07" r="2.8" fill="#1f77b4" fill-opacity="0.88" stroke="#000" stroke-width="1.1"/>
<circle cx="435.07" cy="529.55" r="2.8" fill="#1f77b4" fill-opacity="0.88" stroke="#000" stroke-width="1.1"/>
<circle cx="434.91" cy="528.53" r="2.8" fill="#1f77b4" fill-opacity="0.88" stroke="#000" stroke-width="1.1"/>
<circle cx="464.11" cy="508.22" r="2.8" fill="#1f77b4" fill-opacity="0.88" stroke="#000" stroke-width="1.1"/>
<circle cx="455.2" cy="516.69" r="2.8" fill="#1f77b4" fill-opacity="0.88" stroke="#000" stroke-width="1.1"/>
<circle cx="442.73" cy="523.92" r="2.8" fill="#1f77b4" fill-opacity="0.88" stroke="#000" stroke-width="1.1"/>
<circle cx="457.85" cy="512.14" r="2.8" fill="#1f77b4" fill-opacity="0.88" stroke="#000" stroke-width="1.1"/>
<circle cx="423.51" cy="537.46" r="2.8" fill="#1f77b4" fill-opacity="0.88" stroke="#000" stroke-width="1.1"/>
<circle cx="448.85" cy="522.83" r="2.8" fill="#1f77b4" fill-opacity="0.88" stroke="#000" stroke-width="1.1"/>
<circle cx="461.75" cy="511.14" r="2.8" fill="#1f77b4" fill-opacity="0.88" stroke="#000" stroke-width="1.1"/>
<circle cx="449.22" cy="521.5" r="2.8" fill="#1f77b4" fill-opacity="0.88" stroke="#000" stroke-width="1.1"/>
<circle cx="460.38" cy="514.7" r="2.8" fill="#1f77b4" fill-opacity="0.88" stroke="#000" stroke-width="1.1"/>
<circle cx="475.42" cy="498.46" r="2.8" fill="#1f77b4" fill-opacity="0.88" stroke="#000" stroke-width="1.1"/>
<circle cx="455.17" cy="513.62" r="2.8" fill="#1f77b4" fill-opacity="0.88" stroke="#000" stroke-width="1.1"/>
<circle cx="441.88" cy="527.11" r="2.8" fill="#1f77b4" fill-opacity="0.88" stroke="#000" stroke-width="1.1"/>
<circle cx="442.09" cy="522.03" r="2.8" fill="#1f77b4" fill-opacity="0.88" stroke="#000" stroke-width="1.1"/>
<circle cx="448.22" cy="518.47" r="2.8" fill="#1f77b4" fill-opacity="0.88" stroke="#000" stroke-width="1.1"/>
<circle cx="453.05" cy="515.07" r="2.8" fill="#1f77b4" fill-opacity="0.88" stroke="#000" stroke-width="1.1"/>
<circle cx="446.1" cy="521.12" r="2.8" fill="#1f77b4" fill-opacity="0.88" stroke="#000" stroke-width="1.1"/>
<circle cx="465.82" cy="504.17" r="2.8" fill="#1f77b4" fill-opacity="0.88" stroke="#000" stroke-width="1.1"/>
<circle cx="473.31" cy="503.5" r="2.8" fill="#1f77b4" fill-opacity="0.88" stroke="#000" stroke-width="1.1"/>
<circle cx="450.47" cy="517.16" r="2.8" fill="#1f77b4" fill-opacity="0.88" stroke="#000" stroke-width="1.1"/>
<circle cx="456.09" cy="512.72" r="2.8" fill="#1f77b4" fill-opacity="0.88" stroke="#000" stroke-width="1.1"/>
<circle cx="450.62" cy="522.54" r="2.8" fill="#1f77b4" fill-opacity="0.88" stroke="#000" stroke-width="1.1"/>
<circle cx="443.07" cy="523.65" r="2.8" fill="#1f77b4" fill-opacity="0.88" stroke="#000" stroke-width="1.1"/>
<circle cx="449" cy="520.32" r="2.8" fill="#1f77b4" fill-opacity="0.88" stroke="#000" stroke-width="1.1"/>
<circle cx="470.06" cy="501.2" r="2.8" fill="#1f77b4" fill-opacity="0.88" stroke="#000" stroke-width="1.1"/>
<circle cx="466.4" cy="506.94" r="2.8" fill="#1f77b4" fill-opacity="0.88" stroke="#000" stroke-width="1.1"/>
<circle cx="489.8" cy="487.37" r="2.8" fill="#1f77b4" fill-opacity="0.88" stroke="#000" stroke-width="1.1"/>
<circle cx="446.55" cy="520.89" r="2.8" fill="#1f77b4" fill-opacity="0.88" stroke="#000" stroke-width="1.1"/>
<circle cx="465.35" cy="508.78" r="2.8" fill="#1f77b4" fill-opacity="0.88" stroke="#000" stroke-width="1.1"/>
<circle cx="448.81" cy="518.51" r="2.8" fill="#1f77b4" fill-opacity="0.88" stroke="#000" stroke-width="1.1"/>
<circle cx="451.43" cy="518.06" r="2.8" fill="#1f77b4" fill-opacity="0.88" stroke="#000" stroke-width="1.1"/>
<circle cx="485.69" cy="489.46" r="2.8" fill="#1f77b4" fill-opacity="0.88" stroke="#000" stroke-width="1.1"/>
<circle cx="444.39" cy="524.61" r="2.8" fill="#1f77b4" fill-opacity="0.88" stroke="#000" stroke-width="1.1"/>
<circle cx="450.46" cy="516.07" r="2.8" fill="#1f77b4" fill-opacity="0.88" stroke="#000" stroke-width="1.1"/>
<circle cx="451.68" cy="516.21" r="2.8" fill="#1f77b4" fill-opacity="0.88" stroke="#000" stroke-width="1.1"/>
<circle cx="458.06" cy="512.96" r="2.8" fill="#1f77b4" fill-opacity="0.88" stroke="#000" stroke-width="1.1"/>
<circle cx="438.05" cy="526.98" r="2.8" fill="#1f77b4" fill-opacity="0.88" stroke="#000" stroke-width="1.1"/>
<circle cx="441" cy="523.19" r="2.8" fill="#1f77b4" fill-opacity="0.88" stroke="#000" stroke-width="1.1"/>
<circle cx="471.76" cy="497.52" r="2.8" fill="#1f77b4" fill-opacity="0.88" stroke="#000" stroke-width="1.1"/>
<circle cx="457.62" cy="516.53" r="2.8" fill="#1f77b4" fill-opacity="0.88" stroke="#000" stroke-width="1.1"/>
<circle cx="437.26" cy="527.03" r="2.8" fill="#1f77b4" fill-opacity="0.88" stroke="#000" stroke-width="1.1"/>
<circle cx="460.42" cy="509.6" r="2.8" fill="#1f77b4" fill-opacity="0.88" stroke="#000" stroke-width="1.1"/>
<circle cx="439.86" cy="527.22" r="2.8" fill="#1f77b4" fill-opacity="0.88" stroke="#000" stroke-width="1.1"/>
<circle cx="475.29" cy="501.18" r="2.8" fill="#1f77b4" fill-opacity="0.88" stroke="#000" stroke-width="1.1"/>
<circle cx="441.66" cy="522.67" r="2.8" fill="#1f77b4" fill-opacity="0.88" stroke="#000" stroke-width="1.1"/>
<circle cx="449.05" cy="522.62" r="2.8" fill="#1f77b4" fill-opacity="0.88" stroke="#000" stroke-width="1.1"/>
<circle cx="464.84" cy="505.85" r="2.8" fill="#1f77b4" fill-opacity="0.88" stroke="#000" stroke-width="1.1"/>
<circle cx="449.38" cy="516.44" r="2.8" fill="#1f77b4" fill-opacity="0.88" stroke="#000" stroke-width="1.1"/>
<circle cx="482.43" cy="496.88" r="2.8" fill="#1f77b4" fill-opacity="0.88" stroke="#000" stroke-width="1.1"/>
<circle cx="462.9" cy="509.4" r="2.8" fill="#1f77b4" fill-opacity="0.88" stroke="#000" stroke-width="1.1"/>
<circle cx="465.56" cy="509.61" r="2.8" fill="#1f77b4" fill-opacity="0.88" stroke="#000" stroke-width="1.1"/>
<circle cx="465.33" cy="506.2" r="2.8" fill="#1f77b4" fill-opacity="0.88" stroke="#000" stroke-width="1.1"/>
<circle cx="469.62" cy="499.86" r="2.8" fill="#1f77b4" fill-opacity="0.88" stroke="#000" stroke-width="1.1"/>
<circle cx="436.08" cy="525.33" r="2.8" fill="#1f77b4" fill-opacity="0.88" stroke="#000" stroke-width="1.1"/>
<circle cx="457.11" cy="517.41" r="2.8" fill="#1f77b4" fill-opacity="0.88" stroke="#000" stroke-width="1.1"/>
<circle cx="497.09" cy="482.87" r="2.8" fill="#1f77b4" fill-opacity="0.88" stroke="#000" stroke-width="1.1"/>
<circle cx="454.1" cy="514.07" r="2.8" fill="#1f77b4" fill-opacity="0.88" stroke="#000" stroke-width="1.1"/>
<circle cx="472.6" cy="497.35" r="2.8" fill="#1f77b4" fill-opacity="0.88" stroke="#000" stroke-width="1.1"/>
<circle cx="455.02" cy="513.98" r="2.8" fill="#1f77b4" fill-opacity="0.88" stroke="#000" stroke-width="1.1"/>
<circle cx="442.35" cy="526.75" r="2.8" fill="#1f77b4" fill-opacity="0.88" stroke="#000" stroke-width="1.1"/>
<circle cx="461.1" cy="509.44" r="2.8" fill="#1f77b4" fill-opacity="0.88" stroke="#000" stroke-width="1.1"/>
<circle cx="468.08" cy="504.62" r="2.8" fill="#1f77b4" fill-opacity="0.88" stroke="#000" stroke-width="1.1"/>
<circle cx="459.73" cy="511.69" r="2.8" fill="#1f77b4" fill-opacity="0.88" stroke="#000" stroke-width="1.1"/>
<circle cx="458.33" cy="514.02" r="2.8" fill="#ff7f0e" fill-opacity="0.88" stroke="#000" stroke-width="1.1"/>
<circle cx="450.52" cy="517.64" r="2.8" fill="#ff7f0e" fill-opacity="0.88" stroke="#000" stroke-width="1.1"/>
<circle cx="463.71" cy="507.34" r="2.8" fill="#ff7f0e" fill-opacity="0.88" stroke="#000" stroke-width="1.1"/>
<circle cx="468.53" cy="504.44" r="2.8" fill="#ff7f0e" fill-opacity="0.88" stroke="#000" stroke-width="1.1"/>
<circle cx="492.02" cy="486.07" r="2.8" fill="#ff7f0e" fill-opacity="0.88" stroke="#000" stroke-width="1.1"/>
<circle cx="474.1" cy="502.77" r="2.8" fill="#ff7f0e" fill-opacity="0.88" stroke="#000" stroke-width="1.1"/>
<circle cx="465" cy="508.15" r="2.8" fill="#ff7f0e" fill-opacity="0.88" stroke="#000" stroke-width="1.1"/>
<circle cx="461.3" cy="507.19" r="2.8" fill="#ff7f0e" fill-opacity="0.88" stroke="#000" stroke-width="1.1"/>
<circle cx="474.96" cy="499.56" r="2.8" fill="#ff7f0e" fill-opacity="0.88" stroke="#000" stroke-width="1.1"/>
<circle cx="484.42" cy="494.93" r="2.8" fill="#ff7f0e" fill-opacity="0.88" stroke="#000" stroke-width="1.1"/>
<circle cx="448.48" cy="517.08" r="2.8" fill="#ff7f0e" fill-opacity="0.88" stroke="#000" stroke-width="1.1"/>
<circle cx="451.51" cy="516.52" r="2.8" fill="#ff7f0e" fill-opacity="0.88" stroke="#000" stroke-width="1.1"/>
<circle cx="513.08" cy="463.97" r="2.8" fill="#ff7f0e" fill-opacity="0.88" stroke="#000" stroke-width="1.1"/>
<circle cx="449.83" cy="518.94" r="2.8" fill="#ff7f0e" fill-opacity="0.88" stroke="#000" stroke-width="1.1"/>
<circle cx="506.96" cy="474.76" r="2.8" fill="#ff7f0e" fill-opacity="0.88" stroke="#000" stroke-width="1.1"/>
<circle cx="471.41" cy="505.29" r="2.8" fill="#ff7f0e" fill-opacity="0.88" stroke="#000" stroke-width="1.1"/>
<circle cx="473.26" cy="497.41" r="2.8" fill="#ff7f0e" fill-opacity="0.88" stroke="#000" stroke-width="1.1"/>
<circle cx="466.71" cy="499.74" r="2.8" fill="#ff7f0e" fill-opacity="0.88" stroke="#000" stroke-width="1.1"/>
<circle cx="479.83" cy="497.15" r="2.8" fill="#ff7f0e" fill-opacity="0.88" stroke="#000" stroke-width="1.1"/>
<circle cx="464.23" cy="509.14" r="2.8" fill="#ff7f0e" fill-opacity="0.88" stroke="#000" stroke-width="1.1"/>
<circle cx="450.29" cy="517.34" r="2.8" fill="#ff7f0e" fill-opacity="0.88" stroke="#000" stroke-width="1.1"/>
<circle cx="457.58" cy="514.84" r="2.8" fill="#ff7f0e" fill-opacity="0.88" stroke="#000" stroke-width="1.1"/>
<circle cx="489.22" cy="488.42" r="2.8" fill="#ff7f0e" fill-opacity="0.88" stroke="#000" stroke-width="1.1"/>
<circle cx="482.97" cy="493.56" r="2.8" fill="#ff7f0e" fill-opacity="0.88" stroke="#000" stroke-width="1.1"/>
<circle cx="458.52" cy="511.73" r="2.8" fill="#ff7f0e" fill-opacity="0.88" stroke="#000" stroke-width="1.1"/>
<circle cx="509.67" cy="469.02" r="2.8" fill="#ff7f0e" fill-opacity="0.88" stroke="#000" stroke-width="1.1"/>
<circle cx="467.82" cy="504.74" r="2.8" fill="#ff7f0e" fill-opacity="0.88" stroke="#000" stroke-width="1.1"/>
<circle cx="468.65" cy="502.01" r="2.8" fill="#ff7f0e" fill-opacity="0.88" stroke="#000" stroke-width="1.1"/>
<circle cx="486.39" cy="491.01" r="2.8" fill="#ff7f0e" fill-opacity="0.88" stroke="#000" stroke-width="1.1"/>
<circle cx="473.28" cy="499.7" r="2.8" fill="#ff7f0e" fill-opacity="0.88" stroke="#000" stroke-width="1.1"/>
<circle cx="490.98" cy="491.33" r="2.8" fill="#ff7f0e" fill-opacity="0.88" stroke="#000" stroke-width="1.1"/>
<circle cx="473.52" cy="503.61" r="2.8" fill="#ff7f0e" fill-opacity="0.88" stroke="#000" stroke-width="1.1"/>
<circle cx="468.91" cy="502.09" r="2.8" fill="#ff7f0e" fill-opacity="0.88" stroke="#000" stroke-width="1.1"/>
<circle cx="479.98" cy="496.49" r="2.8" fill="#ff7f0e" fill-opacity="0.88" stroke="#000" stroke-width="1.1"/>
<circle cx="487.44" cy="487.87" r="2.8" fill="#ff7f0e" fill-opacity="0.88" stroke="#000" stroke-width="1.1"/>
<circle cx="467.48" cy="503.81" r="2.8" fill="#ff7f0e" fill-opacity="0.88" stroke="#000" stroke-width="1.1"/>
<circle cx="476.12" cy="495.14" r="2.8" fill="#ff7f0e" fill-opacity="0.88" stroke="#000" stroke-width="1.1"/>
<circle cx="466.44" cy="504.01" r="2.8" fill="#ff7f0e" fill-opacity="0.88" stroke="#000" stroke-width="1.1"/>
<circle cx="504.85" cy="473.03" r="2.8" fill="#ff7f0e" fill-opacity="0.88" stroke="#000" stroke-width="1.1"/>
<circle cx="497.91" cy="481.14" r="2.8" fill="#ff7f0e" fill-opacity="0.88" stroke="#000" stroke-width="1.1"/>
<circle cx="468.55" cy="505.82" r="2.8" fill="#ff7f0e" fill-opacity="0.88" stroke="#000" stroke-width="1.1"/>
<circle cx="449.22" cy="521.26" r="2.8" fill="#ff7f0e" fill-opacity="0.88" stroke="#000" stroke-width="1.1"/>
<circle cx="464.79" cy="508.32" r="2.8" fill="#ff7f0e" fill-opacity="0.88" stroke="#000" stroke-width="1.1"/>
<circle cx="480.82" cy="497.07" r="2.8" fill="#ff7f0e" fill-opacity="0.88" stroke="#000" stroke-width="1.1"/>
<circle cx="469.28" cy="504.89" r="2.8" fill="#ff7f0e" fill-opacity="0.88" stroke="#000" stroke-width="1.1"/>
<circle cx="471.63" cy="501.98" r="2.8" fill="#ff7f0e" fill-opacity="0.88" stroke="#000" stroke-width="1.1"/>
<circle cx="459.02" cy="511.2" r="2.8" fill="#ff7f0e" fill-opacity="0.88" stroke="#000" stroke-width="1.1"/>
<circle cx="459.44" cy="512.23" r="2.8" fill="#ff7f0e" fill-opacity="0.88" stroke="#000" stroke-width="1.1"/>
<circle cx="468.22" cy="508.91" r="2.8" fill="#ff7f0e" fill-opacity="0.88" stroke="#000" stroke-width="1.1"/>
<circle cx="474.82" cy="499.4" r="2.8" fill="#ff7f0e" fill-opacity="0.88" stroke="#000" stroke-width="1.1"/>
<circle cx="457.61" cy="512.38" r="2.8" fill="#ff7f0e" fill-opacity="0.88" stroke="#000" stroke-width="1.1"/>
<circle cx="471.06" cy="499.71" r="2.8" fill="#ff7f0e" fill-opacity="0.88" stroke="#000" stroke-width="1.1"/>
<circle cx="446.31" cy="520.54" r="2.8" fill="#ff7f0e" fill-opacity="0.88" stroke="#000" stroke-width="1.1"/>
<circle cx="485.48" cy="492.25" r="2.8" fill="#ff7f0e" fill-opacity="0.88" stroke="#000" stroke-width="1.1"/>
<circle cx="475.66" cy="500.23" r="2.8" fill="#ff7f0e" fill-opacity="0.88" stroke="#000" stroke-width="1.1"/>
<circle cx="490.06" cy="482.48" r="2.8" fill="#ff7f0e" fill-opacity="0.88" stroke="#000" stroke-width="1.1"/>
<circle cx="469.76" cy="501.51" r="2.8" fill="#ff7f0e" fill-opacity="0.88" stroke="#000" stroke-width="1.1"/>
<circle cx="478.47" cy="492.1" r="2.8" fill="#ff7f0e" fill-opacity="0.88" stroke="#000" stroke-width="1.1"/>
<circle cx="480.32" cy="489.94" r="2.8" fill="#ff7f0e" fill-opacity="0.88" stroke="#000" stroke-width="1.1"/>
<circle cx="457.14" cy="515.17" r="2.8" fill="#ff7f0e" fill-opacity="0.88" stroke="#000" stroke-width="1.1"/>
<circle cx="457.38" cy="512.2" r="2.8" fill="#ff7f0e" fill-opacity="0.88" stroke="#000" stroke-width="1.1"/>
<circle cx="473.78" cy="499" r="2.8" fill="#ff7f0e" fill-opacity="0.88" stroke="#000" stroke-width="1.1"/>
<circle cx="464.68" cy="505.99" r="2.8" fill="#ff7f0e" fill-opacity="0.88" stroke="#000" stroke-width="1.1"/>
<circle cx="486.3" cy="488.86" r="2.8" fill="#ff7f0e" fill-opacity="0.88" stroke="#000" stroke-width="1.1"/>
<circle cx="488.98" cy="487.51" r="2.8" fill="#ff7f0e" fill-opacity="0.88" stroke="#000" stroke-width="1.1"/>
<circle cx="482.43" cy="492.79" r="2.8" fill="#ff7f0e" fill-opacity="0.88" stroke="#000" stroke-width="1.1"/>
<circle cx="452.69" cy="520.28" r="2.8" fill="#ff7f0e" fill-opacity="0.88" stroke="#000" stroke-width="1.1"/>
<circle cx="479.71" cy="495.72" r="2.8" fill="#ff7f0e" fill-opacity="0.88" stroke="#000" stroke-width="1.1"/>
<circle cx="460.52" cy="512.32" r="2.8" fill="#ff7f0e" fill-opacity="0.88" stroke="#000" stroke-width="1.1"/>
<circle cx="471.08" cy="501.91" r="2.8" fill="#ff7f0e" fill-opacity="0.88" stroke="#000" stroke-width="1.1"/>
<circle cx="458.99" cy="512.88" r="2.8" fill="#ff7f0e" fill-opacity="0.88" stroke="#000" stroke-width="1.1"/>
<circle cx="483.32" cy="491.05" r="2.8" fill="#ff7f0e" fill-opacity="0.88" stroke="#000" stroke-width="1.1"/>
<circle cx="457.37" cy="511.2" r="2.8" fill="#ff7f0e" fill-opacity="0.88" stroke="#000" stroke-width="1.1"/>
<circle cx="447.41" cy="520.29" r="2.8" fill="#ff7f0e" fill-opacity="0.88" stroke="#000" stroke-width="1.1"/>
<circle cx="472.52" cy="500.33" r="2.8" fill="#ff7f0e" fill-opacity="0.88" stroke="#000" stroke-width="1.1"/>
<circle cx="471.92" cy="501.32" r="2.8" fill="#ff7f0e" fill-opacity="0.88" stroke="#000" stroke-width="1.1"/>
<circle cx="479.5" cy="496.55" r="2.8" fill="#ff7f0e" fill-opacity="0.88" stroke="#000" stroke-width="1.1"/>
<circle cx="468.14" cy="504.92" r="2.8" fill="#ff7f0e" fill-opacity="0.88" stroke="#000" stroke-width="1.1"/>
<circle cx="452.3" cy="518.27" r="2.8" fill="#ff7f0e" fill-opacity="0.88" stroke="#000" stroke-width="1.1"/>
<circle cx="475.92" cy="497.46" r="2.8" fill="#ff7f0e" fill-opacity="0.88" stroke="#000" stroke-width="1.1"/>
<circle cx="464.61" cy="507.31" r="2.8" fill="#ff7f0e" fill-opacity="0.88" stroke="#000" stroke-width="1.1"/>
<circle cx="459.58" cy="510" r="2.8" fill="#ff7f0e" fill-opacity="0.88" stroke="#000" stroke-width="1.1"/>
<circle cx="476.35" cy="501.08" r="2.8" fill="#ff7f0e" fill-opacity="0.88" stroke="#000" stroke-width="1.1"/>
<circle cx="460.69" cy="508.41" r="2.8" fill="#ff7f0e" fill-opacity="0.88" stroke="#000" stroke-width="1.1"/>
<circle cx="458.43" cy="514.01" r="2.8" fill="#ff7f0e" fill-opacity="0.88" stroke="#000" stroke-width="1.1"/>
<circle cx="464.69" cy="508.98" r="2.8" fill="#ff7f0e" fill-opacity="0.88" stroke="#000" stroke-width="1.1"/>
<circle cx="458.65" cy="512.53" r="2.8" fill="#ff7f0e" fill-opacity="0.88" stroke="#000" stroke-width="1.1"/>
<circle cx="477.81" cy="498.15" r="2.8" fill="#ff7f0e" fill-opacity="0.88" stroke="#000" stroke-width="1.1"/>
<circle cx="463.85" cy="507.27" r="2.8" fill="#ff7f0e" fill-opacity="0.88" stroke="#000" stroke-width="1.1"/>
<circle cx="470.97" cy="503.62" r="2.8" fill="#ff7f0e" fill-opacity="0.88" stroke="#000" stroke-width="1.1"/>
<circle cx="481.13" cy="496.68" r="2.8" fill="#ff7f0e" fill-opacity="0.88" stroke="#000" stroke-width="1.1"/>
<circle cx="461.32" cy="511.91" r="2.8" fill="#ff7f0e" fill-opacity="0.88" stroke="#000" stroke-width="1.1"/>
<circle cx="479.35" cy="492.6" r="2.8" fill="#ff7f0e" fill-opacity="0.88" stroke="#000" stroke-width="1.1"/>
<circle cx="476.47" cy="497.82" r="2.8" fill="#ff7f0e" fill-opacity="0.88" stroke="#000" stroke-width="1.1"/>
<circle cx="451.3" cy="520.61" r="2.8" fill="#ff7f0e" fill-opacity="0.88" stroke="#000" stroke-width="1.1"/>
<circle cx="466.37" cy="505.92" r="2.8" fill="#ff7f0e" fill-opacity="0.88" stroke="#000" stroke-width="1.1"/>
<circle cx="446.36" cy="525.44" r="2.8" fill="#ff7f0e" fill-opacity="0.88" stroke="#000" stroke-width="1.1"/>
<circle cx="462.72" cy="504.71" r="2.8" fill="#ff7f0e" fill-opacity="0.88" stroke="#000" stroke-width="1.1"/>
<circle cx="464.83" cy="510.69" r="2.8" fill="#ff7f0e" fill-opacity="0.88" stroke="#000" stroke-width="1.1"/>
<circle cx="477.97" cy="495.62" r="2.8" fill="#ff7f0e" fill-opacity="0.88" stroke="#000" stroke-width="1.1"/>
<circle cx="479.53" cy="494.23" r="2.8" fill="#2ca02c" fill-opacity="0.88" stroke="#000" stroke-width="1.1"/>
<circle cx="473.04" cy="504" r="2.8" fill="#2ca02c" fill-opacity="0.88" stroke="#000" stroke-width="1.1"/>
<circle cx="494.14" cy="483.19" r="2.8" fill="#2ca02c" fill-opacity="0.88" stroke="#000" stroke-width="1.1"/>
<circle cx="498.14" cy="478.4" r="2.8" fill="#2ca02c" fill-opacity="0.88" stroke="#000" stroke-width="1.1"/>
<circle cx="471.67" cy="500.66" r="2.8" fill="#2ca02c" fill-opacity="0.88" stroke="#000" stroke-width="1.1"/>
<circle cx="488.84" cy="487.49" r="2.8" fill="#2ca02c" fill-opacity="0.88" stroke="#000" stroke-width="1.1"/>
<circle cx="486.83" cy="487.5" r="2.8" fill="#2ca02c" fill-opacity="0.88" stroke="#000" stroke-width="1.1"/>
<circle cx="481.66" cy="493.43" r="2.8" fill="#2ca02c" fill-opacity="0.88" stroke="#000" stroke-width="1.1"/>
<circle cx="499.97" cy="478.47" r="2.8" fill="#2ca02c" fill-opacity="0.88" stroke="#000" stroke-width="1.1"/>
<circle cx="480.66" cy="494.88" r="2.8" fill="#2ca02c" fill-opacity="0.88" stroke="#000" stroke-width="1.1"/>
<circle cx="474.63" cy="497.92" r="2.8" fill="#2ca02c" fill-opacity="0.88" stroke="#000" stroke-width="1.1"/>
<circle cx="465.87" cy="508.52" r="2.8" fill="#2ca02c" fill-opacity="0.88" stroke="#000" stroke-width="1.1"/>
<circle cx="478.92" cy="494.14" r="2.8" fill="#2ca02c" fill-opacity="0.88" stroke="#000" stroke-width="1.1"/>
<circle cx="506.29" cy="475.4" r="2.8" fill="#2ca02c" fill-opacity="0.88" stroke="#000" stroke-width="1.1"/>
<circle cx="475.74" cy="501.02" r="2.8" fill="#2ca02c" fill-opacity="0.88" stroke="#000" stroke-width="1.1"/>
<circle cx="483.11" cy="491.8" r="2.8" fill="#2ca02c" fill-opacity="0.88" stroke="#000" stroke-width="1.1"/>
<circle cx="489.04" cy="484.02" r="2.8" fill="#2ca02c" fill-opacity="0.88" stroke="#000" stroke-width="1.1"/>
<circle cx="476.58" cy="495.61" r="2.8" fill="#2ca02c" fill-opacity="0.88" stroke="#000" stroke-width="1.1"/>
<circle cx="492.74" cy="486.18" r="2.8" fill="#2ca02c" fill-opacity="0.88" stroke="#000" stroke-width="1.1"/>
<circle cx="487.59" cy="487.47" r="2.8" fill="#2ca02c" fill-opacity="0.88" stroke="#000" stroke-width="1.1"/>
<circle cx="490.67" cy="487.69" r="2.8" fill="#2ca02c" fill-opacity="0.88" stroke="#000" stroke-width="1.1"/>
<circle cx="528.94" cy="456.52" r="2.8" fill="#2ca02c" fill-opacity="0.88" stroke="#000" stroke-width="1.1"/>
<circle cx="477.83" cy="496.63" r="2.8" fill="#2ca02c" fill-opacity="0.88" stroke="#000" stroke-width="1.1"/>
<circle cx="502.24" cy="482.8" r="2.8" fill="#2ca02c" fill-opacity="0.88" stroke="#000" stroke-width="1.1"/>
<circle cx="496.17" cy="481.83" r="2.8" fill="#2ca02c" fill-opacity="0.88" stroke="#000" stroke-width="1.1"/>
<circle cx="511.68" cy="472.32" r="2.8" fill="#2ca02c" fill-opacity="0.88" stroke="#000" stroke-width="1.1"/>
<circle cx="473.14" cy="502.18" r="2.8" fill="#2ca02c" fill-opacity="0.88" stroke="#000" stroke-width="1.1"/>
<circle cx="485.31" cy="494.3" r="2.8" fill="#2ca02c" fill-opacity="0.88" stroke="#000" stroke-width="1.1"/>
<circle cx="499.65" cy="483.01" r="2.8" fill="#2ca02c" fill-opacity="0.88" stroke="#000" stroke-width="1.1"/>
<circle cx="483.26" cy="494.71" r="2.8" fill="#2ca02c" fill-opacity="0.88" stroke="#000" stroke-width="1.1"/>
<circle cx="502.31" cy="475.48" r="2.8" fill="#2ca02c" fill-opacity="0.88" stroke="#000" stroke-width="1.1"/>
<circle cx="496.08" cy="478.49" r="2.8" fill="#2ca02c" fill-opacity="0.88" stroke="#000" stroke-width="1.1"/>
<circle cx="471.21" cy="502.15" r="2.8" fill="#2ca02c" fill-opacity="0.88" stroke="#000" stroke-width="1.1"/>
<circle cx="488.05" cy="486.2" r="2.8" fill="#2ca02c" fill-opacity="0.88" stroke="#000" stroke-width="1.1"/>
<circle cx="488.78" cy="488.75" r="2.8" fill="#2ca02c" fill-opacity="0.88" stroke="#000" stroke-width="1.1"/>
<circle cx="521.3" cy="466.72" r="2.8" fill="#2ca02c" fill-opacity="0.88" stroke="#000" stroke-width="1.1"/>
<circle cx="531.65" cy="453.74" r="2.8" fill="#2ca02c" fill-opacity="0.88" stroke="#000" stroke-width="1.1"/>
<circle cx="474.44" cy="498.5" r="2.8" fill="#2ca02c" fill-opacity="0.88" stroke="#000" stroke-width="1.1"/>
<circle cx="486.56" cy="490.89" r="2.8" fill="#2ca02c" fill-opacity="0.88" stroke="#000" stroke-width="1.1"/>
<circle cx="498.35" cy="479.84" r="2.8" fill="#2ca02c" fill-opacity="0.88" stroke="#000" stroke-width="1.1"/>
<circle cx="466.52" cy="504.5" r="2.8" fill="#2ca02c" fill-opacity="0.88" stroke="#000" stroke-width="1.1"/>
<circle cx="497.25" cy="483.41" r="2.8" fill="#2ca02c" fill-opacity="0.88" stroke="#000" stroke-width="1.1"/>
<circle cx="477.6" cy="500.43" r="2.8" fill="#2ca02c" fill-opacity="0.88" stroke="#000" stroke-width="1.1"/>
<circle cx="488.93" cy="488.54" r="2.8" fill="#2ca02c" fill-opacity="0.88" stroke="#000" stroke-width="1.1"/>
<circle cx="466.98" cy="505.94" r="2.8" fill="#2ca02c" fill-opacity="0.88" stroke="#000" stroke-width="1.1"/>
<circle cx="476.49" cy="498.72" r="2.8" fill="#2ca02c" fill-opacity="0.88" stroke="#000" stroke-width="1.1"/>
<circle cx="468.63" cy="501.87" r="2.8" fill="#2ca02c" fill-opacity="0.88" stroke="#000" stroke-width="1.1"/>
<circle cx="486.92" cy="485.63" r="2.8" fill="#2ca02c" fill-opacity="0.88" stroke="#000" stroke-width="1.1"/>
<circle cx="499.78" cy="480.36" r="2.8" fill="#2ca02c" fill-opacity="0.88" stroke="#000" stroke-width="1.1"/>
<circle cx="479.28" cy="494.07" r="2.8" fill="#2ca02c" fill-opacity="0.88" stroke="#000" stroke-width="1.1"/>
<circle cx="464.11" cy="505.57" r="2.8" fill="#2ca02c" fill-opacity="0.88" stroke="#000" stroke-width="1.1"/>
<circle cx="488.5" cy="486.72" r="2.8" fill="#2ca02c" fill-opacity="0.88" stroke="#000" stroke-width="1.1"/>
<circle cx="532.35" cy="451.1" r="2.8" fill="#2ca02c" fill-opacity="0.88" stroke="#000" stroke-width="1.1"/>
<circle cx="479.27" cy="496.6" r="2.8" fill="#2ca02c" fill-opacity="0.88" stroke="#000" stroke-width="1.1"/>
<circle cx="476.1" cy="496.5" r="2.8" fill="#2ca02c" fill-opacity="0.88" stroke="#000" stroke-width="1.1"/>
<circle cx="495.73" cy="477.94" r="2.8" fill="#2ca02c" fill-opacity="0.88" stroke="#000" stroke-width="1.1"/>
<circle cx="496.17" cy="480.41" r="2.8" fill="#2ca02c" fill-opacity="0.88" stroke="#000" stroke-width="1.1"/>
<circle cx="486.02" cy="491.77" r="2.8" fill="#2ca02c" fill-opacity="0.88" stroke="#000" stroke-width="1.1"/>
<circle cx="486.63" cy="488.44" r="2.8" fill="#2ca02c" fill-opacity="0.88" stroke="#000" stroke-width="1.1"/>
<circle cx="533.29" cy="449.86" r="2.8" fill="#2ca02c" fill-opacity="0.88" stroke="#000" stroke-width="1.1"/>
<circle cx="482.83" cy="492.01" r="2.8" fill="#2ca02c" fill-opacity="0.88" stroke="#000" stroke-width="1.1"/>
<circle cx="496.95" cy="482.95" r="2.8" fill="#2ca02c" fill-opacity="0.88" stroke="#000" stroke-width="1.1"/>
<circle cx="496.62" cy="478.34" r="2.8" fill="#2ca02c" fill-opacity="0.88" stroke="#000" stroke-width="1.1"/>
<circle cx="503.42" cy="479.4" r="2.8" fill="#2ca02c" fill-opacity="0.88" stroke="#000" stroke-width="1.1"/>
<circle cx="501.3" cy="477.03" r="2.8" fill="#2ca02c" fill-opacity="0.88" stroke="#000" stroke-width="1.1"/>
<circle cx="468.12" cy="504.59" r="2.8" fill="#2ca02c" fill-opacity="0.88" stroke="#000" stroke-width="1.1"/>
<circle cx="487.23" cy="492.13" r="2.8" fill="#2ca02c" fill-opacity="0.88" stroke="#000" stroke-width="1.1"/>
<circle cx="479.7" cy="492.54" r="2.8" fill="#2ca02c" fill-opacity="0.88" stroke="#000" stroke-width="1.1"/>
<circle cx="482.91" cy="492" r="2.8" fill="#2ca02c" fill-opacity="0.88" stroke="#000" stroke-width="1.1"/>
<circle cx="474.81" cy="501.94" r="2.8" fill="#2ca02c" fill-opacity="0.88" stroke="#000" stroke-width="1.1"/>
<circle cx="509.07" cy="470.63" r="2.8" fill="#2ca02c" fill-opacity="0.88" stroke="#000" stroke-width="1.1"/>
<circle cx="490.83" cy="487.5" r="2.8" fill="#2ca02c" fill-opacity="0.88" stroke="#000" stroke-width="1.1"/>
<circle cx="460.36" cy="515.11" r="2.8" fill="#2ca02c" fill-opacity="0.88" stroke="#000" stroke-width="1.1"/>
<circle cx="505.4" cy="476.53" r="2.8" fill="#2ca02c" fill-opacity="0.88" stroke="#000" stroke-width="1.1"/>
<circle cx="498.77" cy="479.59" r="2.8" fill="#2ca02c" fill-opacity="0.88" stroke="#000" stroke-width="1.1"/>
<circle cx="484.88" cy="489.77" r="2.8" fill="#2ca02c" fill-opacity="0.88" stroke="#000" stroke-width="1.1"/>
<circle cx="484.74" cy="490.97" r="2.8" fill="#2ca02c" fill-opacity="0.88" stroke="#000" stroke-width="1.1"/>
<circle cx="489.52" cy="487.45" r="2.8" fill="#2ca02c" fill-opacity="0.88" stroke="#000" stroke-width="1.1"/>
<circle cx="482.21" cy="492.27" r="2.8" fill="#2ca02c" fill-opacity="0.88" stroke="#000" stroke-width="1.1"/>
<circle cx="478.67" cy="496.65" r="2.8" fill="#2ca02c" fill-opacity="0.88" stroke="#000" stroke-width="1.1"/>
<circle cx="486.94" cy="486.88" r="2.8" fill="#2ca02c" fill-opacity="0.88" stroke="#000" stroke-width="1.1"/>
<circle cx="479.28" cy="495.35" r="2.8" fill="#2ca02c" fill-opacity="0.88" stroke="#000" stroke-width="1.1"/>
<circle cx="476.68" cy="497.07" r="2.8" fill="#2ca02c" fill-opacity="0.88" stroke="#000" stroke-width="1.1"/>
<circle cx="471.97" cy="500.24" r="2.8" fill="#2ca02c" fill-opacity="0.88" stroke="#000" stroke-width="1.1"/>
<circle cx="492.56" cy="487.58" r="2.8" fill="#2ca02c" fill-opacity="0.88" stroke="#000" stroke-width="1.1"/>
<circle cx="510.5" cy="472.52" r="2.8" fill="#2ca02c" fill-opacity="0.88" stroke="#000" stroke-width="1.1"/>
<circle cx="469.75" cy="499.73" r="2.8" fill="#2ca02c" fill-opacity="0.88" stroke="#000" stroke-width="1.1"/>
<circle cx="475" cy="498.31" r="2.8" fill="#2ca02c" fill-opacity="0.88" stroke="#000" stroke-width="1.1"/>
<circle cx="509.89" cy="472.02" r="2.8" fill="#2ca02c" fill-opacity="0.88" stroke="#000" stroke-width="1.1"/>
<circle cx="465.83" cy="505.58" r="2.8" fill="#2ca02c" fill-opacity="0.88" stroke="#000" stroke-width="1.1"/>
<circle cx="460.3" cy="511.88" r="2.8" fill="#2ca02c" fill-opacity="0.88" stroke="#000" stroke-width="1.1"/>
<circle cx="484.15" cy="491.17" r="2.8" fill="#2ca02c" fill-opacity="0.88" stroke="#000" stroke-width="1.1"/>
<circle cx="469.35" cy="505.11" r="2.8" fill="#2ca02c" fill-opacity="0.88" stroke="#000" stroke-width="1.1"/>
<circle cx="476.84" cy="496.99" r="2.8" fill="#2ca02c" fill-opacity="0.88" stroke="#000" stroke-width="1.1"/>
<circle cx="486.97" cy="493.22" r="2.8" fill="#2ca02c" fill-opacity="0.88" stroke="#000" stroke-width="1.1"/>
<circle cx="483.18" cy="489.51" r="2.8" fill="#2ca02c" fill-opacity="0.88" stroke="#000" stroke-width="1.1"/>
<circle cx="505.04" cy="476.41" r="2.8" fill="#2ca02c" fill-opacity="0.88" stroke="#000" stroke-width="1.1"/>
<circle cx="464.71" cy="510.91" r="2.8" fill="#2ca02c" fill-opacity="0.88" stroke="#000" stroke-width="1.1"/>
<circle cx="480.33" cy="495.37" r="2.8" fill="#2ca02c" fill-opacity="0.88" stroke="#000" stroke-width="1.1"/>
<circle cx="491.01" cy="487.23" r="2.8" fill="#2ca02c" fill-opacity="0.88" stroke="#000" stroke-width="1.1"/>
<circle cx="495.44" cy="482.5" r="2.8" fill="#d62728" fill-opacity="0.88" stroke="#000" stroke-width="1.1"/>
<circle cx="489.83" cy="489.95" r="2.8" fill="#d62728" fill-opacity="0.88" stroke="#000" stroke-width="1.1"/>
<circle cx="493.05" cy="483.83" r="2.8" fill="#d62728" fill-opacity="0.88" stroke="#000" stroke-width="1.1"/>
<circle cx="511.6" cy="461.63" r="2.8" fill="#d62728" fill-opacity="0.88" stroke="#000" stroke-width="1.1"/>
<circle cx="495.09" cy="486.08" r="2.8" fill="#d62728" fill-opacity="0.88" stroke="#000" stroke-width="1.1"/>
<circle cx="508.94" cy="471.34" r="2.8" fill="#d62728" fill-opacity="0.88" stroke="#000" stroke-width="1.1"/>
<circle cx="493.34" cy="485.23" r="2.8" fill="#d62728" fill-opacity="0.88" stroke="#000" stroke-width="1.1"/>
<circle cx="510.09" cy="470.76" r="2.8" fill="#d62728" fill-opacity="0.88" stroke="#000" stroke-width="1.1"/>
<circle cx="497.21" cy="485.63" r="2.8" fill="#d62728" fill-opacity="0.88" stroke="#000" stroke-width="1.1"/>
<circle cx="497.29" cy="484.03" r="2.8" fill="#d62728" fill-opacity="0.88" stroke="#000" stroke-width="1.1"/>
<circle cx="499.31" cy="478.71" r="2.8" fill="#d62728" fill-opacity="0.88" stroke="#000" stroke-width="1.1"/>
<circle cx="499.68" cy="479.57" r="2.8" fill="#d62728" fill-opacity="0.88" stroke="#000" stroke-width="1.1"/>
<circle cx="492.03" cy="481.78" r="2.8" fill="#d62728" fill-opacity="0.88" stroke="#000" stroke-width="1.1"/>
<circle cx="526.31" cy="459.95" r="2.8" fill="#d62728" fill-opacity="0.88" stroke="#000" stroke-width="1.1"/>
<circle cx="488.24" cy="488.17" r="2.8" fill="#d62728" fill-opacity="0.88" stroke="#000" stroke-width="1.1"/>
<circle cx="499.4" cy="472.97" r="2.8" fill="#d62728" fill-opacity="0.88" stroke="#000" stroke-width="1.1"/>
<circle cx="499.48" cy="481.41" r="2.8" fill="#d62728" fill-opacity="0.88" stroke="#000" stroke-width="1.1"/>
<circle cx="505.12" cy="477.25" r="2.8" fill="#d62728" fill-opacity="0.88" stroke="#000" stroke-width="1.1"/>
<circle cx="497.78" cy="481.07" r="2.8" fill="#d62728" fill-opacity="0.88" stroke="#000" stroke-width="1.1"/>
<circle cx="512" cy="469.79" r="2.8" fill="#d62728" fill-opacity="0.88" stroke="#000" stroke-width="1.1"/>
<circle cx="499.6" cy="477.6" r="2.8" fill="#d62728" fill-opacity="0.88" stroke="#000" stroke-width="1.1"/>
<circle cx="497.15" cy="481.19" r="2.8" fill="#d62728" fill-opacity="0.88" stroke="#000" stroke-width="1.1"/>
<circle cx="513.61" cy="470.16" r="2.8" fill="#d62728" fill-opacity="0.88" stroke="#000" stroke-width="1.1"/>
<circle cx="506.23" cy="473.79" r="2.8" fill="#d62728" fill-opacity="0.88" stroke="#000" stroke-width="1.1"/>
<circle cx="494.43" cy="477.56" r="2.8" fill="#d62728" fill-opacity="0.88" stroke="#000" stroke-width="1.1"/>
<circle cx="488.64" cy="485.31" r="2.8" fill="#d62728" fill-opacity="0.88" stroke="#000" stroke-width="1.1"/>
<circle cx="493.86" cy="490.53" r="2.8" fill="#d62728" fill-opacity="0.88" stroke="#000" stroke-width="1.1"/>
<circle cx="500.73" cy="478.97" r="2.8" fill="#d62728" fill-opacity="0.88" stroke="#000" stroke-width="1.1"/>
<circle cx="492.35" cy="487.33" r="2.8" fill="#d62728" fill-opacity="0.88" stroke="#000" stroke-width="1.1"/>
<circle cx="507.02" cy="472.21" r="2.8" fill="#d62728" fill-opacity="0.88" stroke="#000" stroke-width="1.1"/>
<circle cx="496.33" cy="482.55" r="2.8" fill="#d62728" fill-opacity="0.88" stroke="#000" stroke-width="1.1"/>
<circle cx="499.98" cy="474.77" r="2.8" fill="#d62728" fill-opacity="0.88" stroke="#000" stroke-width="1.1"/>
<circle cx="484.61" cy="489.3" r="2.8" fill="#d62728" fill-opacity="0.88" stroke="#000" stroke-width="1.1"/>
<circle cx="499.17" cy="477.83" r="2.8" fill="#d62728" fill-opacity="0.88" stroke="#000" stroke-width="1.1"/>
<circle cx="511.1" cy="469.98" r="2.8" fill="#d62728" fill-opacity="0.88" stroke="#000" stroke-width="1.1"/>
<circle cx="506.59" cy="474.09" r="2.8" fill="#d62728" fill-opacity="0.88" stroke="#000" stroke-width="1.1"/>
<circle cx="494.19" cy="483.05" r="2.8" fill="#d62728" fill-opacity="0.88" stroke="#000" stroke-width="1.1"/>
<circle cx="508" cy="469.88" r="2.8" fill="#d62728" fill-opacity="0.88" stroke="#000" stroke-width="1.1"/>
<circle cx="519.19" cy="462.74" r="2.8" fill="#d62728" fill-opacity="0.88" stroke="#000" stroke-width="1.1"/>
<circle cx="506.89" cy="474.57" r="2.8" fill="#d62728" fill-opacity="0.88" stroke="#000" stroke-width="1.1"/>
<circle cx="495.48" cy="479.87" r="2.8" fill="#d62728" fill-opacity="0.88" stroke="#000" stroke-width="1.1"/>
<circle cx="468.29" cy="503.97" r="2.8" fill="#d62728" fill-opacity="0.88" stroke="#000" stroke-width="1.1"/>
<circle cx="494.75" cy="483.57" r="2.8" fill="#d62728" fill-opacity="0.88" stroke="#000" stroke-width="1.1"/>
<circle cx="494.8" cy="485.18" r="2.8" fill="#d62728" fill-opacity="0.88" stroke="#000" stroke-width="1.1"/>
<circle cx="509.2" cy="473.22" r="2.8" fill="#d62728" fill-opacity="0.88" stroke="#000" stroke-width="1.1"/>
<circle cx="511.37" cy="471.66" r="2.8" fill="#d62728" fill-opacity="0.88" stroke="#000" stroke-width="1.1"/>
<circle cx="515.91" cy="473.04" r="2.8" fill="#d62728" fill-opacity="0.88" stroke="#000" stroke-width="1.1"/>
<circle cx="489.92" cy="484.89" r="2.8" fill="#d62728" fill-opacity="0.88" stroke="#000" stroke-width="1.1"/>
<circle cx="517.1" cy="464.33" r="2.8" fill="#d62728" fill-opacity="0.88" stroke="#000" stroke-width="1.1"/>
<circle cx="498.26" cy="481.1" r="2.8" fill="#d62728" fill-opacity="0.88" stroke="#000" stroke-width="1.1"/>
<circle cx="528.65" cy="454.05" r="2.8" fill="#d62728" fill-opacity="0.88" stroke="#000" stroke-width="1.1"/>
<circle cx="504.35" cy="474.76" r="2.8" fill="#d62728" fill-opacity="0.88" stroke="#000" stroke-width="1.1"/>
<circle cx="508.62" cy="471.52" r="2.8" fill="#d62728" fill-opacity="0.88" stroke="#000" stroke-width="1.1"/>
<circle cx="497.89" cy="486.62" r="2.8" fill="#d62728" fill-opacity="0.88" stroke="#000" stroke-width="1.1"/>
<circle cx="511.6" cy="470.55" r="2.8" fill="#d62728" fill-opacity="0.88" stroke="#000" stroke-width="1.1"/>
<circle cx="496.04" cy="481.14" r="2.8" fill="#d62728" fill-opacity="0.88" stroke="#000" stroke-width="1.1"/>
<circle cx="483.26" cy="488.81" r="2.8" fill="#d62728" fill-opacity="0.88" stroke="#000" stroke-width="1.1"/>
<circle cx="503.51" cy="472.18" r="2.8" fill="#d62728" fill-opacity="0.88" stroke="#000" stroke-width="1.1"/>
<circle cx="503.2" cy="473.39" r="2.8" fill="#d62728" fill-opacity="0.88" stroke="#000" stroke-width="1.1"/>
<circle cx="502.49" cy="479.93" r="2.8" fill="#d62728" fill-opacity="0.88" stroke="#000" stroke-width="1.1"/>
<circle cx="493.34" cy="489.6" r="2.8" fill="#d62728" fill-opacity="0.88" stroke="#000" stroke-width="1.1"/>
<circle cx="497.74" cy="479.7" r="2.8" fill="#d62728" fill-opacity="0.88" stroke="#000" stroke-width="1.1"/>
<circle cx="483.76" cy="492.06" r="2.8" fill="#d62728" fill-opacity="0.88" stroke="#000" stroke-width="1.1"/>
<circle cx="519.09" cy="461.84" r="2.8" fill="#d62728" fill-opacity="0.88" stroke="#000" stroke-width="1.1"/>
<circle cx="496.88" cy="481.99" r="2.8" fill="#d62728" fill-opacity="0.88" stroke="#000" stroke-width="1.1"/>
<circle cx="505.45" cy="474.39" r="2.8" fill="#d62728" fill-opacity="0.88" stroke="#000" stroke-width="1.1"/>
<circle cx="493.56" cy="487.8" r="2.8" fill="#d62728" fill-opacity="0.88" stroke="#000" stroke-width="1.1"/>
<circle cx="508.46" cy="471.47" r="2.8" fill="#d62728" fill-opacity="0.88" stroke="#000" stroke-width="1.1"/>
<circle cx="546.11" cy="443.62" r="2.8" fill="#d62728" fill-opacity="0.88" stroke="#000" stroke-width="1.1"/>
<circle cx="508.01" cy="472.05" r="2.8" fill="#d62728" fill-opacity="0.88" stroke="#000" stroke-width="1.1"/>
<circle cx="504.82" cy="474.33" r="2.8" fill="#d62728" fill-opacity="0.88" stroke="#000" stroke-width="1.1"/>
<circle cx="504.04" cy="476.29" r="2.8" fill="#d62728" fill-opacity="0.88" stroke="#000" stroke-width="1.1"/>
<circle cx="506.52" cy="473.31" r="2.8" fill="#d62728" fill-opacity="0.88" stroke="#000" stroke-width="1.1"/>
<circle cx="495.66" cy="482.71" r="2.8" fill="#d62728" fill-opacity="0.88" stroke="#000" stroke-width="1.1"/>
<circle cx="509.88" cy="469.63" r="2.8" fill="#d62728" fill-opacity="0.88" stroke="#000" stroke-width="1.1"/>
<circle cx="503.62" cy="475.19" r="2.8" fill="#d62728" fill-opacity="0.88" stroke="#000" stroke-width="1.1"/>
<circle cx="520.39" cy="464.29" r="2.8" fill="#d62728" fill-opacity="0.88" stroke="#000" stroke-width="1.1"/>
<circle cx="522.35" cy="462.83" r="2.8" fill="#d62728" fill-opacity="0.88" stroke="#000" stroke-width="1.1"/>
<circle cx="543.28" cy="440.81" r="2.8" fill="#d62728" fill-opacity="0.88" stroke="#000" stroke-width="1.1"/>
<circle cx="503.33" cy="476.82" r="2.8" fill="#d62728" fill-opacity="0.88" stroke="#000" stroke-width="1.1"/>
<circle cx="478.28" cy="494.19" r="2.8" fill="#d62728" fill-opacity="0.88" stroke="#000" stroke-width="1.1"/>
<circle cx="498.49" cy="479.51" r="2.8" fill="#d62728" fill-opacity="0.88" stroke="#000" stroke-width="1.1"/>
<circle cx="504.24" cy="477.16" r="2.8" fill="#d62728" fill-opacity="0.88" stroke="#000" stroke-width="1.1"/>
<circle cx="499.45" cy="481.39" r="2.8" fill="#d62728" fill-opacity="0.88" stroke="#000" stroke-width="1.1"/>
<circle cx="506.37" cy="473.89" r="2.8" fill="#d62728" fill-opacity="0.88" stroke="#000" stroke-width="1.1"/>
<circle cx="502.24" cy="476.85" r="2.8" fill="#d62728" fill-opacity="0.88" stroke="#000" stroke-width="1.1"/>
<circle cx="503.03" cy="475.4" r="2.8" fill="#d62728" fill-opacity="0.88" stroke="#000" stroke-width="1.1"/>
<circle cx="502.12" cy="480.47" r="2.8" fill="#d62728" fill-opacity="0.88" stroke="#000" stroke-width="1.1"/>
<circle cx="508.03" cy="474.22" r="2.8" fill="#d62728" fill-opacity="0.88" stroke="#000" stroke-width="1.1"/>
<circle cx="513.58" cy="468.66" r="2.8" fill="#d62728" fill-opacity="0.88" stroke="#000" stroke-width="1.1"/>
<circle cx="482.65" cy="489.31" r="2.8" fill="#d62728" fill-opacity="0.88" stroke="#000" stroke-width="1.1"/>
<circle cx="501.56" cy="483.44" r="2.8" fill="#d62728" fill-opacity="0.88" stroke="#000" stroke-width="1.1"/>
<circle cx="507.75" cy="472.06" r="2.8" fill="#d62728" fill-opacity="0.88" stroke="#000" stroke-width="1.1"/>
<circle cx="526.49" cy="459.43" r="2.8" fill="#d62728" fill-opacity="0.88" stroke="#000" stroke-width="1.1"/>
<circle cx="514.8" cy="466.47" r="2.8" fill="#d62728" fill-opacity="0.88" stroke="#000" stroke-width="1.1"/>
<circle cx="503.69" cy="477.43" r="2.8" fill="#d62728" fill-opacity="0.88" stroke="#000" stroke-width="1.1"/>
<circle cx="499.74" cy="478.59" r="2.8" fill="#d62728" fill-opacity="0.88" stroke="#000" stroke-width="1.1"/>
<circle cx="520.01" cy="459.72" r="2.8" fill="#d62728" fill-opacity="0.88" stroke="#000" stroke-width="1.1"/>
<circle cx="534.35" cy="451.12" r="2.8" fill="#d62728" fill-opacity="0.88" stroke="#000" stroke-width="1.1"/>
<circle cx="511.03" cy="469.46" r="2.8" fill="#d62728" fill-opacity="0.88" stroke="#000" stroke-width="1.1"/>
<circle cx="522.2" cy="460.73" r="2.8" fill="#9467bd" fill-opacity="0.88" stroke="#000" stroke-width="1.1"/>
<circle cx="531.18" cy="456.19" r="2.8" fill="#9467bd" fill-opacity="0.88" stroke="#000" stroke-width="1.1"/>
<circle cx="495.37" cy="481.65" r="2.8" fill="#9467bd" fill-opacity="0.88" stroke="#000" stroke-width="1.1"/>
<circle cx="536.79" cy="450.48" r="2.8" fill="#9467bd" fill-opacity="0.88" stroke="#000" stroke-width="1.1"/>
<circle cx="517.27" cy="467.38" r="2.8" fill="#9467bd" fill-opacity="0.88" stroke="#000" stroke-width="1.1"/>
<circle cx="519.83" cy="463.56" r="2.8" fill="#9467bd" fill-opacity="0.88" stroke="#000" stroke-width="1.1"/>
<circle cx="532.93" cy="453.59" r="2.8" fill="#9467bd" fill-opacity="0.88" stroke="#000" stroke-width="1.1"/>
<circle cx="524.99" cy="457.63" r="2.8" fill="#9467bd" fill-opacity="0.88" stroke="#000" stroke-width="1.1"/>
<circle cx="499.05" cy="480.08" r="2.8" fill="#9467bd" fill-opacity="0.88" stroke="#000" stroke-width="1.1"/>
<circle cx="516.04" cy="467.71" r="2.8" fill="#9467bd" fill-opacity="0.88" stroke="#000" stroke-width="1.1"/>
<circle cx="514.59" cy="464.27" r="2.8" fill="#9467bd" fill-opacity="0.88" stroke="#000" stroke-width="1.1"/>
<circle cx="499.14" cy="477.62" r="2.8" fill="#9467bd" fill-opacity="0.88" stroke="#000" stroke-width="1.1"/>
<circle cx="510.37" cy="468.05" r="2.8" fill="#9467bd" fill-opacity="0.88" stroke="#000" stroke-width="1.1"/>
<circle cx="509.97" cy="469.9" r="2.8" fill="#9467bd" fill-opacity="0.88" stroke="#000" stroke-width="1.1"/>
<circle cx="507.48" cy="473.54" r="2.8" fill="#9467bd" fill-opacity="0.88" stroke="#000" stroke-width="1.1"/>
<circle cx="515.91" cy="467.55" r="2.8" fill="#9467bd" fill-opacity="0.88" stroke="#000" stroke-width="1.1"/>
<circle cx="529.22" cy="456.65" r="2.8" fill="#9467bd" fill-opacity="0.88" stroke="#000" stroke-width="1.1"/>
<circle cx="509.18" cy="469.74" r="2.8" fill="#9467bd" fill-opacity="0.88" stroke="#000" stroke-width="1.1"/>
<circle cx="528.7" cy="456.16" r="2.8" fill="#9467bd" fill-opacity="0.88" stroke="#000" stroke-width="1.1"/>
<circle cx="505.1" cy="478.6" r="2.8" fill="#9467bd" fill-opacity="0.88" stroke="#000" stroke-width="1.1"/>
<circle cx="502.45" cy="477.37" r="2.8" fill="#9467bd" fill-opacity="0.88" stroke="#000" stroke-width="1.1"/>
<circle cx="500.61" cy="482.01" r="2.8" fill="#9467bd" fill-opacity="0.88" stroke="#000" stroke-width="1.1"/>
<circle cx="518.99" cy="463.76" r="2.8" fill="#9467bd" fill-opacity="0.88" stroke="#000" stroke-width="1.1"/>
<circle cx="507.22" cy="476.27" r="2.8" fill="#9467bd" fill-opacity="0.88" stroke="#000" stroke-width="1.1"/>
<circle cx="523.93" cy="463.13" r="2.8" fill="#9467bd" fill-opacity="0.88" stroke="#000" stroke-width="1.1"/>
<circle cx="507.92" cy="472.66" r="2.8" fill="#9467bd" fill-opacity="0.88" stroke="#000" stroke-width="1.1"/>
<circle cx="512.2" cy="469.71" r="2.8" fill="#9467bd" fill-opacity="0.88" stroke="#000" stroke-width="1.1"/>
<circle cx="519.04" cy="467.94" r="2.8" fill="#9467bd" fill-opacity="0.88" stroke="#000" stroke-width="1.1"/>
<circle cx="552.22" cy="436.01" r="2.8" fill="#9467bd" fill-opacity="0.88" stroke="#000" stroke-width="1.1"/>
<circle cx="538.91" cy="443.32" r="2.8" fill="#9467bd" fill-opacity="0.88" stroke="#000" stroke-width="1.1"/>
<circle cx="525.26" cy="462.58" r="2.8" fill="#9467bd" fill-opacity="0.88" stroke="#000" stroke-width="1.1"/>
<circle cx="511.27" cy="466.07" r="2.8" fill="#9467bd" fill-opacity="0.88" stroke="#000" stroke-width="1.1"/>
<circle cx="540.12" cy="448.94" r="2.8" fill="#9467bd" fill-opacity="0.88" stroke="#000" stroke-width="1.1"/>
<circle cx="516.81" cy="467.01" r="2.8" fill="#9467bd" fill-opacity="0.88" stroke="#000" stroke-width="1.1"/>
<circle cx="502.19" cy="477.9" r="2.8" fill="#9467bd" fill-opacity="0.88" stroke="#000" stroke-width="1.1"/>
<circle cx="527.41" cy="460.79" r="2.8" fill="#9467bd" fill-opacity="0.88" stroke="#000" stroke-width="1.1"/>
<circle cx="546.11" cy="439.6" r="2.8" fill="#9467bd" fill-opacity="0.88" stroke="#000" stroke-width="1.1"/>
<circle cx="532.9" cy="451.95" r="2.8" fill="#9467bd" fill-opacity="0.88" stroke="#000" stroke-width="1.1"/>
<circle cx="512.16" cy="471.3" r="2.8" fill="#9467bd" fill-opacity="0.88" stroke="#000" stroke-width="1.1"/>
<circle cx="531.62" cy="454.75" r="2.8" fill="#9467bd" fill-opacity="0.88" stroke="#000" stroke-width="1.1"/>
<circle cx="510.36" cy="474.5" r="2.8" fill="#9467bd" fill-opacity="0.88" stroke="#000" stroke-width="1.1"/>
<circle cx="510.9" cy="471.37" r="2.8" fill="#9467bd" fill-opacity="0.88" stroke="#000" stroke-width="1.1"/>
<circle cx="509.74" cy="469.32" r="2.8" fill="#9467bd" fill-opacity="0.88" stroke="#000" stroke-width="1.1"/>
<circle cx="498.01" cy="484.77" r="2.8" fill="#9467bd" fill-opacity="0.88" stroke="#000" stroke-width="1.1"/>
<circle cx="504.86" cy="476.38" r="2.8" fill="#9467bd" fill-opacity="0.88" stroke="#000" stroke-width="1.1"/>
<circle cx="508.29" cy="472.3" r="2.8" fill="#9467bd" fill-opacity="0.88" stroke="#000" stroke-width="1.1"/>
<circle cx="536.07" cy="448.15" r="2.8" fill="#9467bd" fill-opacity="0.88" stroke="#000" stroke-width="1.1"/>
<circle cx="520.44" cy="459.87" r="2.8" fill="#9467bd" fill-opacity="0.88" stroke="#000" stroke-width="1.1"/>
<circle cx="521.73" cy="463.02" r="2.8" fill="#9467bd" fill-opacity="0.88" stroke="#000" stroke-width="1.1"/>
<circle cx="536.28" cy="452.11" r="2.8" fill="#9467bd" fill-opacity="0.88" stroke="#000" stroke-width="1.1"/>
<circle cx="519.74" cy="462.5" r="2.8" fill="#9467bd" fill-opacity="0.88" stroke="#000" stroke-width="1.1"/>
<circle cx="525.19" cy="460.05" r="2.8" fill="#9467bd" fill-opacity="0.88" stroke="#000" stroke-width="1.1"/>
<circle cx="512.17" cy="470.27" r="2.8" fill="#9467bd" fill-opacity="0.88" stroke="#000" stroke-width="1.1"/>
<circle cx="496.39" cy="479.6" r="2.8" fill="#9467bd" fill-opacity="0.88" stroke="#000" stroke-width="1.1"/>
<circle cx="499.37" cy="475.82" r="2.8" fill="#9467bd" fill-opacity="0.88" stroke="#000" stroke-width="1.1"/>
<circle cx="517.82" cy="464.46" r="2.8" fill="#9467bd" fill-opacity="0.88" stroke="#000" stroke-width="1.1"/>
<circle cx="527.7" cy="457.66" r="2.8" fill="#9467bd" fill-opacity="0.88" stroke="#000" stroke-width="1.1"/>
<circle cx="498.38" cy="479.19" r="2.8" fill="#9467bd" fill-opacity="0.88" stroke="#000" stroke-width="1.1"/>
<circle cx="521.43" cy="466.56" r="2.8" fill="#9467bd" fill-opacity="0.88" stroke="#000" stroke-width="1.1"/>
<circle cx="516.21" cy="466.39" r="2.8" fill="#9467bd" fill-opacity="0.88" stroke="#000" stroke-width="1.1"/>
<circle cx="495.36" cy="485.36" r="2.8" fill="#9467bd" fill-opacity="0.88" stroke="#000" stroke-width="1.1"/>
<circle cx="524.33" cy="454.37" r="2.8" fill="#9467bd" fill-opacity="0.88" stroke="#000" stroke-width="1.1"/>
<circle cx="504.88" cy="473.68" r="2.8" fill="#9467bd" fill-opacity="0.88" stroke="#000" stroke-width="1.1"/>
<circle cx="537.02" cy="449.49" r="2.8" fill="#9467bd" fill-opacity="0.88" stroke="#000" stroke-width="1.1"/>
<circle cx="500.85" cy="479" r="2.8" fill="#9467bd" fill-opacity="0.88" stroke="#000" stroke-width="1.1"/>
<circle cx="498.98" cy="485.84" r="2.8" fill="#9467bd" fill-opacity="0.88" stroke="#000" stroke-width="1.1"/>
<circle cx="532.18" cy="452.01" r="2.8" fill="#9467bd" fill-opacity="0.88" stroke="#000" stroke-width="1.1"/>
<circle cx="500.73" cy="474.88" r="2.8" fill="#9467bd" fill-opacity="0.88" stroke="#000" stroke-width="1.1"/>
<circle cx="508.83" cy="473.9" r="2.8" fill="#9467bd" fill-opacity="0.88" stroke="#000" stroke-width="1.1"/>
<circle cx="543.82" cy="442.83" r="2.8" fill="#9467bd" fill-opacity="0.88" stroke="#000" stroke-width="1.1"/>
<circle cx="528.8" cy="454.67" r="2.8" fill="#9467bd" fill-opacity="0.88" stroke="#000" stroke-width="1.1"/>
<circle cx="510.61" cy="474.37" r="2.8" fill="#9467bd" fill-opacity="0.88" stroke="#000" stroke-width="1.1"/>
<circle cx="531.35" cy="452.16" r="2.8" fill="#9467bd" fill-opacity="0.88" stroke="#000" stroke-width="1.1"/>
<circle cx="511.37" cy="467.06" r="2.8" fill="#9467bd" fill-opacity="0.88" stroke="#000" stroke-width="1.1"/>
<circle cx="535.11" cy="450.8" r="2.8" fill="#9467bd" fill-opacity="0.88" stroke="#000" stroke-width="1.1"/>
<circle cx="503.8" cy="476.35" r="2.8" fill="#9467bd" fill-opacity="0.88" stroke="#000" stroke-width="1.1"/>
<circle cx="535.36" cy="449.31" r="2.8" fill="#9467bd" fill-opacity="0.88" stroke="#000" stroke-width="1.1"/>
<circle cx="512.02" cy="473.23" r="2.8" fill="#9467bd" fill-opacity="0.88" stroke="#000" stroke-width="1.1"/>
<circle cx="513.72" cy="468.11" r="2.8" fill="#9467bd" fill-opacity="0.88" stroke="#000" stroke-width="1.1"/>
<circle cx="502.89" cy="474.49" r="2.8" fill="#9467bd" fill-opacity="0.88" stroke="#000" stroke-width="1.1"/>
<circle cx="504.73" cy="478.34" r="2.8" fill="#9467bd" fill-opacity="0.88" stroke="#000" stroke-width="1.1"/>
<circle cx="522.38" cy="459.15" r="2.8" fill="#9467bd" fill-opacity="0.88" stroke="#000" stroke-width="1.1"/>
<circle cx="522.84" cy="462.04" r="2.8" fill="#9467bd" fill-opacity="0.88" stroke="#000" stroke-width="1.1"/>
<circle cx="540.93" cy="451.52" r="2.8" fill="#9467bd" fill-opacity="0.88" stroke="#000" stroke-width="1.1"/>
<circle cx="520.4" cy="463.26" r="2.8" fill="#9467bd" fill-opacity="0.88" stroke="#000" stroke-width="1.1"/>
<circle cx="528.95" cy="458.47" r="2.8" fill="#9467bd" fill-opacity="0.88" stroke="#000" stroke-width="1.1"/>
<circle cx="515.26" cy="466.36" r="2.8" fill="#9467bd" fill-opacity="0.88" stroke="#000" stroke-width="1.1"/>
<circle cx="512.49" cy="472.01" r="2.8" fill="#9467bd" fill-opacity="0.88" stroke="#000" stroke-width="1.1"/>
<circle cx="539.74" cy="445.23" r="2.8" fill="#9467bd" fill-opacity="0.88" stroke="#000" stroke-width="1.1"/>
<circle cx="504.75" cy="477.16" r="2.8" fill="#9467bd" fill-opacity="0.88" stroke="#000" stroke-width="1.1"/>
<circle cx="523.01" cy="460.12" r="2.8" fill="#9467bd" fill-opacity="0.88" stroke="#000" stroke-width="1.1"/>
<circle cx="524.66" cy="461.01" r="2.8" fill="#9467bd" fill-opacity="0.88" stroke="#000" stroke-width="1.1"/>
<circle cx="528.98" cy="456.95" r="2.8" fill="#9467bd" fill-opacity="0.88" stroke="#000" stroke-width="1.1"/>
<circle cx="526.54" cy="455.39" r="2.8" fill="#9467bd" fill-opacity="0.88" stroke="#000" stroke-width="1.1"/>
<circle cx="521.74" cy="461.46" r="2.8" fill="#9467bd" fill-opacity="0.88" stroke="#000" stroke-width="1.1"/>
<circle cx="513.93" cy="469.07" r="2.8" fill="#9467bd" fill-opacity="0.88" stroke="#000" stroke-width="1.1"/>
<circle cx="494.5" cy="486.48" r="2.8" fill="#9467bd" fill-opacity="0.88" stroke="#000" stroke-width="1.1"/>
<circle cx="526.55" cy="455.46" r="2.8" fill="#9467bd" fill-opacity="0.88" stroke="#000" stroke-width="1.1"/>
<circle cx="537.85" cy="447.46" r="2.8" fill="#9467bd" fill-opacity="0.88" stroke="#000" stroke-width="1.1"/>
<circle cx="506.46" cy="474.85" r="2.8" fill="#9467bd" fill-opacity="0.88" stroke="#000" stroke-width="1.1"/>
<circle cx="572.55" cy="421.02" r="2.8" fill="#c49c94" fill-opacity="0.88" stroke="#000" stroke-width="1.1"/>
<circle cx="530.06" cy="457.72" r="2.8" fill="#c49c94" fill-opacity="0.88" stroke="#000" stroke-width="1.1"/>
<circle cx="568.67" cy="427.01" r="2.8" fill="#c49c94" fill-opacity="0.88" stroke="#000" stroke-width="1.1"/>
<circle cx="547.25" cy="443.59" r="2.8" fill="#c49c94" fill-opacity="0.88" stroke="#000" stroke-width="1.1"/>
<circle cx="555.94" cy="433.97" r="2.8" fill="#c49c94" fill-opacity="0.88" stroke="#000" stroke-width="1.1"/>
<circle cx="527.04" cy="457.06" r="2.8" fill="#c49c94" fill-opacity="0.88" stroke="#000" stroke-width="1.1"/>
<circle cx="532.95" cy="454.77" r="2.8" fill="#c49c94" fill-opacity="0.88" stroke="#000" stroke-width="1.1"/>
<circle cx="541.89" cy="444.24" r="2.8" fill="#c49c94" fill-opacity="0.88" stroke="#000" stroke-width="1.1"/>
<circle cx="525.67" cy="457.02" r="2.8" fill="#c49c94" fill-opacity="0.88" stroke="#000" stroke-width="1.1"/>
<circle cx="544.66" cy="443.34" r="2.8" fill="#c49c94" fill-opacity="0.88" stroke="#000" stroke-width="1.1"/>
<circle cx="545.93" cy="440.34" r="2.8" fill="#c49c94" fill-opacity="0.88" stroke="#000" stroke-width="1.1"/>
<circle cx="525.72" cy="459.46" r="2.8" fill="#c49c94" fill-opacity="0.88" stroke="#000" stroke-width="1.1"/>
<circle cx="516.18" cy="466.63" r="2.8" fill="#c49c94" fill-opacity="0.88" stroke="#000" stroke-width="1.1"/>
<circle cx="525.93" cy="457.53" r="2.8" fill="#c49c94" fill-opacity="0.88" stroke="#000" stroke-width="1.1"/>
<circle cx="542.77" cy="445.33" r="2.8" fill="#c49c94" fill-opacity="0.88" stroke="#000" stroke-width="1.1"/>
<circle cx="529.34" cy="454.08" r="2.8" fill="#c49c94" fill-opacity="0.88" stroke="#000" stroke-width="1.1"/>
<circle cx="546.71" cy="445.01" r="2.8" fill="#c49c94" fill-opacity="0.88" stroke="#000" stroke-width="1.1"/>
<circle cx="549.28" cy="436.78" r="2.8" fill="#c49c94" fill-opacity="0.88" stroke="#000" stroke-width="1.1"/>
<circle cx="547.88" cy="442.99" r="2.8" fill="#c49c94" fill-opacity="0.88" stroke="#000" stroke-width="1.1"/>
<circle cx="544.77" cy="444.04" r="2.8" fill="#c49c94" fill-opacity="0.88" stroke="#000" stroke-width="1.1"/>
<circle cx="551.24" cy="441.7" r="2.8" fill="#c49c94" fill-opacity="0.88" stroke="#000" stroke-width="1.1"/>
<circle cx="535.23" cy="449.85" r="2.8" fill="#c49c94" fill-opacity="0.88" stroke="#000" stroke-width="1.1"/>
<circle cx="542.24" cy="442.72" r="2.8" fill="#c49c94" fill-opacity="0.88" stroke="#000" stroke-width="1.1"/>
<circle cx="539.89" cy="445.06" r="2.8" fill="#c49c94" fill-opacity="0.88" stroke="#000" stroke-width="1.1"/>
<circle cx="546.43" cy="440.41" r="2.8" fill="#c49c94" fill-opacity="0.88" stroke="#000" stroke-width="1.1"/>
<circle cx="513.78" cy="471.87" r="2.8" fill="#c49c94" fill-opacity="0.88" stroke="#000" stroke-width="1.1"/>
<circle cx="516.11" cy="468.23" r="2.8" fill="#c49c94" fill-opacity="0.88" stroke="#000" stroke-width="1.1"/>
<circle cx="535.65" cy="451.97" r="2.8" fill="#c49c94" fill-opacity="0.88" stroke="#000" stroke-width="1.1"/>
<circle cx="521.72" cy="464.13" r="2.8" fill="#c49c94" fill-opacity="0.88" stroke="#000" stroke-width="1.1"/>
<circle cx="523.49" cy="457.97" r="2.8" fill="#c49c94" fill-opacity="0.88" stroke="#000" stroke-width="1.1"/>
<circle cx="517.51" cy="464.89" r="2.8" fill="#c49c94" fill-opacity="0.88" stroke="#000" stroke-width="1.1"/>
<circle cx="533.81" cy="452.42" r="2.8" fill="#c49c94" fill-opacity="0.88" stroke="#000" stroke-width="1.1"/>
<circle cx="553.28" cy="435.77" r="2.8" fill="#c49c94" fill-opacity="0.88" stroke="#000" stroke-width="1.1"/>
<circle cx="540.33" cy="449.38" r="2.8" fill="#c49c94" fill-opacity="0.88" stroke="#000" stroke-width="1.1"/>
<circle cx="558.77" cy="434.63" r="2.8" fill="#c49c94" fill-opacity="0.88" stroke="#000" stroke-width="1.1"/>
<circle cx="556.68" cy="436.23" r="2.8" fill="#c49c94" fill-opacity="0.88" stroke="#000" stroke-width="1.1"/>
<circle cx="554.59" cy="434.71" r="2.8" fill="#c49c94" fill-opacity="0.88" stroke="#000" stroke-width="1.1"/>
<circle cx="545.3" cy="442.45" r="2.8" fill="#c49c94" fill-opacity="0.88" stroke="#000" stroke-width="1.1"/>
<circle cx="560.1" cy="430.15" r="2.8" fill="#c49c94" fill-opacity="0.88" stroke="#000" stroke-width="1.1"/>
<circle cx="548.33" cy="438.34" r="2.8" fill="#c49c94" fill-opacity="0.88" stroke="#000" stroke-width="1.1"/>
<circle cx="532.7" cy="456.38" r="2.8" fill="#c49c94" fill-opacity="0.88" stroke="#000" stroke-width="1.1"/>
<circle cx="534.67" cy="452.98" r="2.8" fill="#c49c94" fill-opacity="0.88" stroke="#000" stroke-width="1.1"/>
<circle cx="526.67" cy="457.7" r="2.8" fill="#c49c94" fill-opacity="0.88" stroke="#000" stroke-width="1.1"/>
<circle cx="540.56" cy="450.12" r="2.8" fill="#c49c94" fill-opacity="0.88" stroke="#000" stroke-width="1.1"/>
<circle cx="551.22" cy="439.76" r="2.8" fill="#c49c94" fill-opacity="0.88" stroke="#000" stroke-width="1.1"/>
<circle cx="555.95" cy="432.43" r="2.8" fill="#c49c94" fill-opacity="0.88" stroke="#000" stroke-width="1.1"/>
<circle cx="530.22" cy="452.67" r="2.8" fill="#c49c94" fill-opacity="0.88" stroke="#000" stroke-width="1.1"/>
<circle cx="528.63" cy="453.99" r="2.8" fill="#c49c94" fill-opacity="0.88" stroke="#000" stroke-width="1.1"/>
<circle cx="531.33" cy="454.23" r="2.8" fill="#c49c94" fill-opacity="0.88" stroke="#000" stroke-width="1.1"/>
<circle cx="525.08" cy="459.79" r="2.8" fill="#c49c94" fill-opacity="0.88" stroke="#000" stroke-width="1.1"/>
<circle cx="525.14" cy="456.76" r="2.8" fill="#c49c94" fill-opacity="0.88" stroke="#000" stroke-width="1.1"/>
<circle cx="528.21" cy="457.67" r="2.8" fill="#c49c94" fill-opacity="0.88" stroke="#000" stroke-width="1.1"/>
<circle cx="531.4" cy="453.5" r="2.8" fill="#c49c94" fill-opacity="0.88" stroke="#000" stroke-width="1.1"/>
<circle cx="540.04" cy="444.35" r="2.8" fill="#c49c94" fill-opacity="0.88" stroke="#000" stroke-width="1.1"/>
<circle cx="528.23" cy="457.65" r="2.8" fill="#c49c94" fill-opacity="0.88" stroke="#000" stroke-width="1.1"/>
<circle cx="535.62" cy="452.34" r="2.8" fill="#c49c94" fill-opacity="0.88" stroke="#000" stroke-width="1.1"/>
<circle cx="526.41" cy="458.27" r="2.8" fill="#c49c94" fill-opacity="0.88" stroke="#000" stroke-width="1.1"/>
<circle cx="528.73" cy="455.02" r="2.8" fill="#c49c94" fill-opacity="0.88" stroke="#000" stroke-width="1.1"/>
<circle cx="531.13" cy="453.38" r="2.8" fill="#c49c94" fill-opacity="0.88" stroke="#000" stroke-width="1.1"/>
<circle cx="533.76" cy="452.05" r="2.8" fill="#c49c94" fill-opacity="0.88" stroke="#000" stroke-width="1.1"/>
<circle cx="521.3" cy="461.02" r="2.8" fill="#c49c94" fill-opacity="0.88" stroke="#000" stroke-width="1.1"/>
<circle cx="531.33" cy="458.03" r="2.8" fill="#c49c94" fill-opacity="0.88" stroke="#000" stroke-width="1.1"/>
<circle cx="544.75" cy="445.66" r="2.8" fill="#c49c94" fill-opacity="0.88" stroke="#000" stroke-width="1.1"/>
<circle cx="510.02" cy="470.89" r="2.8" fill="#c49c94" fill-opacity="0.88" stroke="#000" stroke-width="1.1"/>
<circle cx="546.66" cy="444.3" r="2.8" fill="#c49c94" fill-opacity="0.88" stroke="#000" stroke-width="1.1"/>
<circle cx="531.99" cy="456.91" r="2.8" fill="#c49c94" fill-opacity="0.88" stroke="#000" stroke-width="1.1"/>
<circle cx="524.47" cy="462.57" r="2.8" fill="#c49c94" fill-opacity="0.88" stroke="#000" stroke-width="1.1"/>
<circle cx="519.42" cy="465.92" r="2.8" fill="#c49c94" fill-opacity="0.88" stroke="#000" stroke-width="1.1"/>
<circle cx="530.6" cy="455.33" r="2.8" fill="#c49c94" fill-opacity="0.88" stroke="#000" stroke-width="1.1"/>
<circle cx="533.91" cy="454.65" r="2.8" fill="#c49c94" fill-opacity="0.88" stroke="#000" stroke-width="1.1"/>
<circle cx="513.95" cy="467.6" r="2.8" fill="#c49c94" fill-opacity="0.88" stroke="#000" stroke-width="1.1"/>
<circle cx="534.37" cy="448" r="2.8" fill="#c49c94" fill-opacity="0.88" stroke="#000" stroke-width="1.1"/>
<circle cx="539.97" cy="447.81" r="2.8" fill="#c49c94" fill-opacity="0.88" stroke="#000" stroke-width="1.1"/>
<circle cx="549" cy="437.35" r="2.8" fill="#c49c94" fill-opacity="0.88" stroke="#000" stroke-width="1.1"/>
<circle cx="537.68" cy="448.62" r="2.8" fill="#c49c94" fill-opacity="0.88" stroke="#000" stroke-width="1.1"/>
<circle cx="543.65" cy="447.13" r="2.8" fill="#c49c94" fill-opacity="0.88" stroke="#000" stroke-width="1.1"/>
<circle cx="553.07" cy="437.66" r="2.8" fill="#c49c94" fill-opacity="0.88" stroke="#000" stroke-width="1.1"/>
<circle cx="544.9" cy="445.82" r="2.8" fill="#c49c94" fill-opacity="0.88" stroke="#000" stroke-width="1.1"/>
<circle cx="523.6" cy="458.71" r="2.8" fill="#c49c94" fill-opacity="0.88" stroke="#000" stroke-width="1.1"/>
<circle cx="524.9" cy="462.11" r="2.8" fill="#c49c94" fill-opacity="0.88" stroke="#000" stroke-width="1.1"/>
<circle cx="531.45" cy="451.18" r="2.8" fill="#c49c94" fill-opacity="0.88" stroke="#000" stroke-width="1.1"/>
<circle cx="537.21" cy="448.32" r="2.8" fill="#c49c94" fill-opacity="0.88" stroke="#000" stroke-width="1.1"/>
<circle cx="539.04" cy="452.88" r="2.8" fill="#c49c94" fill-opacity="0.88" stroke="#000" stroke-width="1.1"/>
<circle cx="506.85" cy="471.97" r="2.8" fill="#c49c94" fill-opacity="0.88" stroke="#000" stroke-width="1.1"/>
<circle cx="550.95" cy="435.16" r="2.8" fill="#c49c94" fill-opacity="0.88" stroke="#000" stroke-width="1.1"/>
<circle cx="524.9" cy="461.27" r="2.8" fill="#c49c94" fill-opacity="0.88" stroke="#000" stroke-width="1.1"/>
<circle cx="520.44" cy="460.71" r="2.8" fill="#c49c94" fill-opacity="0.88" stroke="#000" stroke-width="1.1"/>
<circle cx="543.45" cy="448.86" r="2.8" fill="#c49c94" fill-opacity="0.88" stroke="#000" stroke-width="1.1"/>
<circle cx="540.58" cy="446.4" r="2.8" fill="#c49c94" fill-opacity="0.88" stroke="#000" stroke-width="1.1"/>
<circle cx="533.63" cy="456.35" r="2.8" fill="#c49c94" fill-opacity="0.88" stroke="#000" stroke-width="1.1"/>
<circle cx="540.94" cy="445.58" r="2.8" fill="#c49c94" fill-opacity="0.88" stroke="#000" stroke-width="1.1"/>
<circle cx="540.76" cy="450.98" r="2.8" fill="#c49c94" fill-opacity="0.88" stroke="#000" stroke-width="1.1"/>
<circle cx="534.11" cy="458.21" r="2.8" fill="#c49c94" fill-opacity="0.88" stroke="#000" stroke-width="1.1"/>
<circle cx="534.46" cy="450.93" r="2.8" fill="#c49c94" fill-opacity="0.88" stroke="#000" stroke-width="1.1"/>
<circle cx="539.43" cy="442.61" r="2.8" fill="#c49c94" fill-opacity="0.88" stroke="#000" stroke-width="1.1"/>
<circle cx="538.57" cy="449.96" r="2.8" fill="#c49c94" fill-opacity="0.88" stroke="#000" stroke-width="1.1"/>
<circle cx="541.75" cy="444.14" r="2.8" fill="#c49c94" fill-opacity="0.88" stroke="#000" stroke-width="1.1"/>
<circle cx="545.52" cy="442.8" r="2.8" fill="#c49c94" fill-opacity="0.88" stroke="#000" stroke-width="1.1"/>
<circle cx="550.72" cy="439.68" r="2.8" fill="#c49c94" fill-opacity="0.88" stroke="#000" stroke-width="1.1"/>
<circle cx="525.29" cy="457.71" r="2.8" fill="#c49c94" fill-opacity="0.88" stroke="#000" stroke-width="1.1"/>
<circle cx="553.93" cy="432.59" r="2.8" fill="#f7b6d2" fill-opacity="0.88" stroke="#000" stroke-width="1.1"/>
<circle cx="564.22" cy="431.06" r="2.8" fill="#f7b6d2" fill-opacity="0.88" stroke="#000" stroke-width="1.1"/>
<circle cx="545.49" cy="441.79" r="2.8" fill="#f7b6d2" fill-opacity="0.88" stroke="#000" stroke-width="1.1"/>
<circle cx="550.64" cy="438.19" r="2.8" fill="#f7b6d2" fill-opacity="0.88" stroke="#000" stroke-width="1.1"/>
<circle cx="541.5" cy="449.55" r="2.8" fill="#f7b6d2" fill-opacity="0.88" stroke="#000" stroke-width="1.1"/>
<circle cx="542.41" cy="441.8" r="2.8" fill="#f7b6d2" fill-opacity="0.88" stroke="#000" stroke-width="1.1"/>
<circle cx="551.29" cy="433.97" r="2.8" fill="#f7b6d2" fill-opacity="0.88" stroke="#000" stroke-width="1.1"/>
<circle cx="565.41" cy="429.46" r="2.8" fill="#f7b6d2" fill-opacity="0.88" stroke="#000" stroke-width="1.1"/>
<circle cx="533.69" cy="448.45" r="2.8" fill="#f7b6d2" fill-opacity="0.88" stroke="#000" stroke-width="1.1"/>
<circle cx="566.29" cy="426.43" r="2.8" fill="#f7b6d2" fill-opacity="0.88" stroke="#000" stroke-width="1.1"/>
<circle cx="553.77" cy="436.89" r="2.8" fill="#f7b6d2" fill-opacity="0.88" stroke="#000" stroke-width="1.1"/>
<circle cx="537.78" cy="445.74" r="2.8" fill="#f7b6d2" fill-opacity="0.88" stroke="#000" stroke-width="1.1"/>
<circle cx="568.43" cy="424.33" r="2.8" fill="#f7b6d2" fill-opacity="0.88" stroke="#000" stroke-width="1.1"/>
<circle cx="555.61" cy="434.3" r="2.8" fill="#f7b6d2" fill-opacity="0.88" stroke="#000" stroke-width="1.1"/>
<circle cx="534.78" cy="448.09" r="2.8" fill="#f7b6d2" fill-opacity="0.88" stroke="#000" stroke-width="1.1"/>
<circle cx="551.52" cy="435.32" r="2.8" fill="#f7b6d2" fill-opacity="0.88" stroke="#000" stroke-width="1.1"/>
<circle cx="563.37" cy="426.82" r="2.8" fill="#f7b6d2" fill-opacity="0.88" stroke="#000" stroke-width="1.1"/>
<circle cx="576.43" cy="421.74" r="2.8" fill="#f7b6d2" fill-opacity="0.88" stroke="#000" stroke-width="1.1"/>
<circle cx="550.15" cy="443.01" r="2.8" fill="#f7b6d2" fill-opacity="0.88" stroke="#000" stroke-width="1.1"/>
<circle cx="554.02" cy="433.71" r="2.8" fill="#f7b6d2" fill-opacity="0.88" stroke="#000" stroke-width="1.1"/>
<circle cx="537.59" cy="451.5" r="2.8" fill="#f7b6d2" fill-opacity="0.88" stroke="#000" stroke-width="1.1"/>
<circle cx="544.38" cy="443.63" r="2.8" fill="#f7b6d2" fill-opacity="0.88" stroke="#000" stroke-width="1.1"/>
<circle cx="538.42" cy="451.18" r="2.8" fill="#f7b6d2" fill-opacity="0.88" stroke="#000" stroke-width="1.1"/>
<circle cx="536.7" cy="450.49" r="2.8" fill="#f7b6d2" fill-opacity="0.88" stroke="#000" stroke-width="1.1"/>
<circle cx="572.37" cy="424.68" r="2.8" fill="#f7b6d2" fill-opacity="0.88" stroke="#000" stroke-width="1.1"/>
<circle cx="536.02" cy="446.84" r="2.8" fill="#f7b6d2" fill-opacity="0.88" stroke="#000" stroke-width="1.1"/>
<circle cx="546.48" cy="444.66" r="2.8" fill="#f7b6d2" fill-opacity="0.88" stroke="#000" stroke-width="1.1"/>
<circle cx="556.27" cy="434.8" r="2.8" fill="#f7b6d2" fill-opacity="0.88" stroke="#000" stroke-width="1.1"/>
<circle cx="539.42" cy="448.34" r="2.8" fill="#f7b6d2" fill-opacity="0.88" stroke="#000" stroke-width="1.1"/>
<circle cx="546.42" cy="439.56" r="2.8" fill="#f7b6d2" fill-opacity="0.88" stroke="#000" stroke-width="1.1"/>
<circle cx="539.11" cy="451.44" r="2.8" fill="#f7b6d2" fill-opacity="0.88" stroke="#000" stroke-width="1.1"/>
<circle cx="576.78" cy="418.3" r="2.8" fill="#f7b6d2" fill-opacity="0.88" stroke="#000" stroke-width="1.1"/>
<circle cx="541.1" cy="447.06" r="2.8" fill="#f7b6d2" fill-opacity="0.88" stroke="#000" stroke-width="1.1"/>
<circle cx="531.2" cy="453.22" r="2.8" fill="#f7b6d2" fill-opacity="0.88" stroke="#000" stroke-width="1.1"/>
<circle cx="561.04" cy="429.64" r="2.8" fill="#f7b6d2" fill-opacity="0.88" stroke="#000" stroke-width="1.1"/>
<circle cx="540.76" cy="447.91" r="2.8" fill="#f7b6d2" fill-opacity="0.88" stroke="#000" stroke-width="1.1"/>
<circle cx="554.37" cy="435.48" r="2.8" fill="#f7b6d2" fill-opacity="0.88" stroke="#000" stroke-width="1.1"/>
<circle cx="563.39" cy="429.73" r="2.8" fill="#f7b6d2" fill-opacity="0.88" stroke="#000" stroke-width="1.1"/>
<circle cx="556.02" cy="433.64" r="2.8" fill="#f7b6d2" fill-opacity="0.88" stroke="#000" stroke-width="1.1"/>
<circle cx="538.54" cy="448.84" r="2.8" fill="#f7b6d2" fill-opacity="0.88" stroke="#000" stroke-width="1.1"/>
<circle cx="528.51" cy="458.09" r="2.8" fill="#f7b6d2" fill-opacity="0.88" stroke="#000" stroke-width="1.1"/>
<circle cx="538.55" cy="448.67" r="2.8" fill="#f7b6d2" fill-opacity="0.88" stroke="#000" stroke-width="1.1"/>
<circle cx="539.65" cy="446.89" r="2.8" fill="#f7b6d2" fill-opacity="0.88" stroke="#000" stroke-width="1.1"/>
<circle cx="547.83" cy="435.99" r="2.8" fill="#f7b6d2" fill-opacity="0.88" stroke="#000" stroke-width="1.1"/>
<circle cx="544.75" cy="444.81" r="2.8" fill="#f7b6d2" fill-opacity="0.88" stroke="#000" stroke-width="1.1"/>
<circle cx="529.24" cy="455.29" r="2.8" fill="#f7b6d2" fill-opacity="0.88" stroke="#000" stroke-width="1.1"/>
<circle cx="560.48" cy="427.8" r="2.8" fill="#f7b6d2" fill-opacity="0.88" stroke="#000" stroke-width="1.1"/>
<circle cx="532.04" cy="458.57" r="2.8" fill="#f7b6d2" fill-opacity="0.88" stroke="#000" stroke-width="1.1"/>
<circle cx="552.14" cy="441.83" r="2.8" fill="#f7b6d2" fill-opacity="0.88" stroke="#000" stroke-width="1.1"/>
<circle cx="560.44" cy="433.95" r="2.8" fill="#f7b6d2" fill-opacity="0.88" stroke="#000" stroke-width="1.1"/>
<circle cx="539.88" cy="447.8" r="2.8" fill="#f7b6d2" fill-opacity="0.88" stroke="#000" stroke-width="1.1"/>
<circle cx="530.12" cy="449.66" r="2.8" fill="#f7b6d2" fill-opacity="0.88" stroke="#000" stroke-width="1.1"/>
<circle cx="548.98" cy="439.41" r="2.8" fill="#f7b6d2" fill-opacity="0.88" stroke="#000" stroke-width="1.1"/>
<circle cx="547.44" cy="438.74" r="2.8" fill="#f7b6d2" fill-opacity="0.88" stroke="#000" stroke-width="1.1"/>
<circle cx="550.91" cy="439.29" r="2.8" fill="#f7b6d2" fill-opacity="0.88" stroke="#000" stroke-width="1.1"/>
<circle cx="562.17" cy="435.52" r="2.8" fill="#f7b6d2" fill-opacity="0.88" stroke="#000" stroke-width="1.1"/>
<circle cx="532.66" cy="458.62" r="2.8" fill="#f7b6d2" fill-opacity="0.88" stroke="#000" stroke-width="1.1"/>
<circle cx="562.09" cy="427.54" r="2.8" fill="#f7b6d2" fill-opacity="0.88" stroke="#000" stroke-width="1.1"/>
<circle cx="537.16" cy="449.28" r="2.8" fill="#f7b6d2" fill-opacity="0.88" stroke="#000" stroke-width="1.1"/>
<circle cx="535.26" cy="454.21" r="2.8" fill="#f7b6d2" fill-opacity="0.88" stroke="#000" stroke-width="1.1"/>
<circle cx="534.75" cy="449.04" r="2.8" fill="#f7b6d2" fill-opacity="0.88" stroke="#000" stroke-width="1.1"/>
<circle cx="536.06" cy="454.14" r="2.8" fill="#f7b6d2" fill-opacity="0.88" stroke="#000" stroke-width="1.1"/>
<circle cx="535.33" cy="448.54" r="2.8" fill="#f7b6d2" fill-opacity="0.88" stroke="#000" stroke-width="1.1"/>
<circle cx="536.32" cy="447.02" r="2.8" fill="#f7b6d2" fill-opacity="0.88" stroke="#000" stroke-width="1.1"/>
<circle cx="563.2" cy="430.78" r="2.8" fill="#f7b6d2" fill-opacity="0.88" stroke="#000" stroke-width="1.1"/>
<circle cx="529.77" cy="458.13" r="2.8" fill="#f7b6d2" fill-opacity="0.88" stroke="#000" stroke-width="1.1"/>
<circle cx="524.82" cy="457.56" r="2.8" fill="#f7b6d2" fill-opacity="0.88" stroke="#000" stroke-width="1.1"/>
<circle cx="527.62" cy="459.81" r="2.8" fill="#f7b6d2" fill-opacity="0.88" stroke="#000" stroke-width="1.1"/>
<circle cx="568.23" cy="423.03" r="2.8" fill="#f7b6d2" fill-opacity="0.88" stroke="#000" stroke-width="1.1"/>
<circle cx="552.66" cy="440.15" r="2.8" fill="#f7b6d2" fill-opacity="0.88" stroke="#000" stroke-width="1.1"/>
<circle cx="573.98" cy="418.59" r="2.8" fill="#f7b6d2" fill-opacity="0.88" stroke="#000" stroke-width="1.1"/>
<circle cx="549.75" cy="439.48" r="2.8" fill="#f7b6d2" fill-opacity="0.88" stroke="#000" stroke-width="1.1"/>
<circle cx="563.46" cy="429.81" r="2.8" fill="#f7b6d2" fill-opacity="0.88" stroke="#000" stroke-width="1.1"/>
<circle cx="557.76" cy="435.41" r="2.8" fill="#f7b6d2" fill-opacity="0.88" stroke="#000" stroke-width="1.1"/>
<circle cx="562.88" cy="428.72" r="2.8" fill="#f7b6d2" fill-opacity="0.88" stroke="#000" stroke-width="1.1"/>
<circle cx="564.79" cy="432.13" r="2.8" fill="#f7b6d2" fill-opacity="0.88" stroke="#000" stroke-width="1.1"/>
<circle cx="581.58" cy="415.05" r="2.8" fill="#f7b6d2" fill-opacity="0.88" stroke="#000" stroke-width="1.1"/>
<circle cx="542.59" cy="446.31" r="2.8" fill="#f7b6d2" fill-opacity="0.88" stroke="#000" stroke-width="1.1"/>
<circle cx="538.26" cy="447.26" r="2.8" fill="#f7b6d2" fill-opacity="0.88" stroke="#000" stroke-width="1.1"/>
<circle cx="560.88" cy="433.76" r="2.8" fill="#f7b6d2" fill-opacity="0.88" stroke="#000" stroke-width="1.1"/>
<circle cx="541.48" cy="442.31" r="2.8" fill="#f7b6d2" fill-opacity="0.88" stroke="#000" stroke-width="1.1"/>
<circle cx="548.11" cy="441.72" r="2.8" fill="#f7b6d2" fill-opacity="0.88" stroke="#000" stroke-width="1.1"/>
<circle cx="552.48" cy="440.16" r="2.8" fill="#f7b6d2" fill-opacity="0.88" stroke="#000" stroke-width="1.1"/>
<circle cx="549.95" cy="436.34" r="2.8" fill="#f7b6d2" fill-opacity="0.88" stroke="#000" stroke-width="1.1"/>
<circle cx="546.66" cy="438.31" r="2.8" fill="#f7b6d2" fill-opacity="0.88" stroke="#000" stroke-width="1.1"/>
<circle cx="560.37" cy="431.69" r="2.8" fill="#f7b6d2" fill-opacity="0.88" stroke="#000" stroke-width="1.1"/>
<circle cx="542.98" cy="447.14" r="2.8" fill="#f7b6d2" fill-opacity="0.88" stroke="#000" stroke-width="1.1"/>
<circle cx="550.99" cy="438.68" r="2.8" fill="#f7b6d2" fill-opacity="0.88" stroke="#000" stroke-width="1.1"/>
<circle cx="540.16" cy="448.92" r="2.8" fill="#f7b6d2" fill-opacity="0.88" stroke="#000" stroke-width="1.1"/>
<circle cx="553.37" cy="437.54" r="2.8" fill="#f7b6d2" fill-opacity="0.88" stroke="#000" stroke-width="1.1"/>
<circle cx="544.86" cy="439.98" r="2.8" fill="#f7b6d2" fill-opacity="0.88" stroke="#000" stroke-width="1.1"/>
<circle cx="554.8" cy="434.78" r="2.8" fill="#f7b6d2" fill-opacity="0.88" stroke="#000" stroke-width="1.1"/>
<circle cx="515.43" cy="466.63" r="2.8" fill="#f7b6d2" fill-opacity="0.88" stroke="#000" stroke-width="1.1"/>
<circle cx="573.13" cy="420.32" r="2.8" fill="#f7b6d2" fill-opacity="0.88" stroke="#000" stroke-width="1.1"/>
<circle cx="576.21" cy="418.81" r="2.8" fill="#f7b6d2" fill-opacity="0.88" stroke="#000" stroke-width="1.1"/>
<circle cx="551.38" cy="436.47" r="2.8" fill="#f7b6d2" fill-opacity="0.88" stroke="#000" stroke-width="1.1"/>
<circle cx="538.99" cy="446.22" r="2.8" fill="#f7b6d2" fill-opacity="0.88" stroke="#000" stroke-width="1.1"/>
<circle cx="552.26" cy="438.56" r="2.8" fill="#f7b6d2" fill-opacity="0.88" stroke="#000" stroke-width="1.1"/>
<circle cx="535.24" cy="450.99" r="2.8" fill="#f7b6d2" fill-opacity="0.88" stroke="#000" stroke-width="1.1"/>
<circle cx="544.19" cy="438.54" r="2.8" fill="#f7b6d2" fill-opacity="0.88" stroke="#000" stroke-width="1.1"/>
<circle cx="579.43" cy="415.15" r="2.8" fill="#c7c7c7" fill-opacity="0.88" stroke="#000" stroke-width="1.1"/>
<circle cx="537.05" cy="450.22" r="2.8" fill="#c7c7c7" fill-opacity="0.88" stroke="#000" stroke-width="1.1"/>
<circle cx="583.72" cy="407.98" r="2.8" fill="#c7c7c7" fill-opacity="0.88" stroke="#000" stroke-width="1.1"/>
<circle cx="565.51" cy="427.16" r="2.8" fill="#c7c7c7" fill-opacity="0.88" stroke="#000" stroke-width="1.1"/>
<circle cx="560.39" cy="433.78" r="2.8" fill="#c7c7c7" fill-opacity="0.88" stroke="#000" stroke-width="1.1"/>
<circle cx="585.17" cy="410" r="2.8" fill="#c7c7c7" fill-opacity="0.88" stroke="#000" stroke-width="1.1"/>
<circle cx="552.3" cy="439.75" r="2.8" fill="#c7c7c7" fill-opacity="0.88" stroke="#000" stroke-width="1.1"/>
<circle cx="570.72" cy="424.19" r="2.8" fill="#c7c7c7" fill-opacity="0.88" stroke="#000" stroke-width="1.1"/>
<circle cx="557.56" cy="432.74" r="2.8" fill="#c7c7c7" fill-opacity="0.88" stroke="#000" stroke-width="1.1"/>
<circle cx="569.55" cy="424.26" r="2.8" fill="#c7c7c7" fill-opacity="0.88" stroke="#000" stroke-width="1.1"/>
<circle cx="549.85" cy="441.39" r="2.8" fill="#c7c7c7" fill-opacity="0.88" stroke="#000" stroke-width="1.1"/>
<circle cx="574.35" cy="421.43" r="2.8" fill="#c7c7c7" fill-opacity="0.88" stroke="#000" stroke-width="1.1"/>
<circle cx="562.15" cy="431.22" r="2.8" fill="#c7c7c7" fill-opacity="0.88" stroke="#000" stroke-width="1.1"/>
<circle cx="574.29" cy="417.51" r="2.8" fill="#c7c7c7" fill-opacity="0.88" stroke="#000" stroke-width="1.1"/>
<circle cx="564.24" cy="429.86" r="2.8" fill="#c7c7c7" fill-opacity="0.88" stroke="#000" stroke-width="1.1"/>
<circle cx="598.06" cy="402.64" r="2.8" fill="#c7c7c7" fill-opacity="0.88" stroke="#000" stroke-width="1.1"/>
<circle cx="579.93" cy="411.02" r="2.8" fill="#c7c7c7" fill-opacity="0.88" stroke="#000" stroke-width="1.1"/>
<circle cx="562.63" cy="430.75" r="2.8" fill="#c7c7c7" fill-opacity="0.88" stroke="#000" stroke-width="1.1"/>
<circle cx="576.03" cy="415.38" r="2.8" fill="#c7c7c7" fill-opacity="0.88" stroke="#000" stroke-width="1.1"/>
<circle cx="559.36" cy="429.03" r="2.8" fill="#c7c7c7" fill-opacity="0.88" stroke="#000" stroke-width="1.1"/>
<circle cx="565.49" cy="427.55" r="2.8" fill="#c7c7c7" fill-opacity="0.88" stroke="#000" stroke-width="1.1"/>
<circle cx="562.93" cy="432.51" r="2.8" fill="#c7c7c7" fill-opacity="0.88" stroke="#000" stroke-width="1.1"/>
<circle cx="565.32" cy="426.28" r="2.8" fill="#c7c7c7" fill-opacity="0.88" stroke="#000" stroke-width="1.1"/>
<circle cx="571.8" cy="420.63" r="2.8" fill="#c7c7c7" fill-opacity="0.88" stroke="#000" stroke-width="1.1"/>
<circle cx="555.93" cy="432.55" r="2.8" fill="#c7c7c7" fill-opacity="0.88" stroke="#000" stroke-width="1.1"/>
<circle cx="550.56" cy="438.89" r="2.8" fill="#c7c7c7" fill-opacity="0.88" stroke="#000" stroke-width="1.1"/>
<circle cx="566.3" cy="423.77" r="2.8" fill="#c7c7c7" fill-opacity="0.88" stroke="#000" stroke-width="1.1"/>
<circle cx="571.41" cy="419.28" r="2.8" fill="#c7c7c7" fill-opacity="0.88" stroke="#000" stroke-width="1.1"/>
<circle cx="558.26" cy="435.38" r="2.8" fill="#c7c7c7" fill-opacity="0.88" stroke="#000" stroke-width="1.1"/>
<circle cx="580.2" cy="412.21" r="2.8" fill="#c7c7c7" fill-opacity="0.88" stroke="#000" stroke-width="1.1"/>
<circle cx="550.52" cy="438.69" r="2.8" fill="#c7c7c7" fill-opacity="0.88" stroke="#000" stroke-width="1.1"/>
<circle cx="573.97" cy="421.77" r="2.8" fill="#c7c7c7" fill-opacity="0.88" stroke="#000" stroke-width="1.1"/>
<circle cx="580.41" cy="416.08" r="2.8" fill="#c7c7c7" fill-opacity="0.88" stroke="#000" stroke-width="1.1"/>
<circle cx="601.94" cy="393.9" r="2.8" fill="#c7c7c7" fill-opacity="0.88" stroke="#000" stroke-width="1.1"/>
<circle cx="546.53" cy="439.98" r="2.8" fill="#c7c7c7" fill-opacity="0.88" stroke="#000" stroke-width="1.1"/>
<circle cx="556.57" cy="438.42" r="2.8" fill="#c7c7c7" fill-opacity="0.88" stroke="#000" stroke-width="1.1"/>
<circle cx="581.97" cy="413.91" r="2.8" fill="#c7c7c7" fill-opacity="0.88" stroke="#000" stroke-width="1.1"/>
<circle cx="574.51" cy="420.35" r="2.8" fill="#c7c7c7" fill-opacity="0.88" stroke="#000" stroke-width="1.1"/>
<circle cx="566.61" cy="426.71" r="2.8" fill="#c7c7c7" fill-opacity="0.88" stroke="#000" stroke-width="1.1"/>
<circle cx="573.88" cy="421.72" r="2.8" fill="#c7c7c7" fill-opacity="0.88" stroke="#000" stroke-width="1.1"/>
<circle cx="575.85" cy="422.33" r="2.8" fill="#c7c7c7" fill-opacity="0.88" stroke="#000" stroke-width="1.1"/>
<circle cx="555.15" cy="433.42" r="2.8" fill="#c7c7c7" fill-opacity="0.88" stroke="#000" stroke-width="1.1"/>
<circle cx="559.73" cy="433.94" r="2.8" fill="#c7c7c7" fill-opacity="0.88" stroke="#000" stroke-width="1.1"/>
<circle cx="592.18" cy="406.85" r="2.8" fill="#c7c7c7" fill-opacity="0.88" stroke="#000" stroke-width="1.1"/>
<circle cx="595.76" cy="404.54" r="2.8" fill="#c7c7c7" fill-opacity="0.88" stroke="#000" stroke-width="1.1"/>
<circle cx="562.31" cy="431.41" r="2.8" fill="#c7c7c7" fill-opacity="0.88" stroke="#000" stroke-width="1.1"/>
<circle cx="571.2" cy="420.94" r="2.8" fill="#c7c7c7" fill-opacity="0.88" stroke="#000" stroke-width="1.1"/>
<circle cx="576.51" cy="417.56" r="2.8" fill="#c7c7c7" fill-opacity="0.88" stroke="#000" stroke-width="1.1"/>
<circle cx="587.83" cy="411" r="2.8" fill="#c7c7c7" fill-opacity="0.88" stroke="#000" stroke-width="1.1"/>
<circle cx="583.23" cy="415.29" r="2.8" fill="#c7c7c7" fill-opacity="0.88" stroke="#000" stroke-width="1.1"/>
<circle cx="569.45" cy="425.13" r="2.8" fill="#c7c7c7" fill-opacity="0.88" stroke="#000" stroke-width="1.1"/>
<circle cx="576.98" cy="415.83" r="2.8" fill="#c7c7c7" fill-opacity="0.88" stroke="#000" stroke-width="1.1"/>
<circle cx="564.23" cy="427.91" r="2.8" fill="#c7c7c7" fill-opacity="0.88" stroke="#000" stroke-width="1.1"/>
<circle cx="550.14" cy="438.86" r="2.8" fill="#c7c7c7" fill-opacity="0.88" stroke="#000" stroke-width="1.1"/>
<circle cx="567.5" cy="426.36" r="2.8" fill="#c7c7c7" fill-opacity="0.88" stroke="#000" stroke-width="1.1"/>
<circle cx="547.23" cy="442.3" r="2.8" fill="#c7c7c7" fill-opacity="0.88" stroke="#000" stroke-width="1.1"/>
<circle cx="567.24" cy="425.31" r="2.8" fill="#c7c7c7" fill-opacity="0.88" stroke="#000" stroke-width="1.1"/>
<circle cx="577.76" cy="421.71" r="2.8" fill="#c7c7c7" fill-opacity="0.88" stroke="#000" stroke-width="1.1"/>
<circle cx="566" cy="423.07" r="2.8" fill="#c7c7c7" fill-opacity="0.88" stroke="#000" stroke-width="1.1"/>
<circle cx="557.7" cy="435.21" r="2.8" fill="#c7c7c7" fill-opacity="0.88" stroke="#000" stroke-width="1.1"/>
<circle cx="566.85" cy="427.43" r="2.8" fill="#c7c7c7" fill-opacity="0.88" stroke="#000" stroke-width="1.1"/>
<circle cx="562.97" cy="426.1" r="2.8" fill="#c7c7c7" fill-opacity="0.88" stroke="#000" stroke-width="1.1"/>
<circle cx="570.24" cy="422.91" r="2.8" fill="#c7c7c7" fill-opacity="0.88" stroke="#000" stroke-width="1.1"/>
<circle cx="572.04" cy="421.89" r="2.8" fill="#c7c7c7" fill-opacity="0.88" stroke="#000" stroke-width="1.1"/>
<circle cx="566.11" cy="428.05" r="2.8" fill="#c7c7c7" fill-opacity="0.88" stroke="#000" stroke-width="1.1"/>
<circle cx="562.54" cy="433.15" r="2.8" fill="#c7c7c7" fill-opacity="0.88" stroke="#000" stroke-width="1.1"/>
<circle cx="585.38" cy="410.97" r="2.8" fill="#c7c7c7" fill-opacity="0.88" stroke="#000" stroke-width="1.1"/>
<circle cx="564.6" cy="425.14" r="2.8" fill="#c7c7c7" fill-opacity="0.88" stroke="#000" stroke-width="1.1"/>
<circle cx="574.88" cy="421.81" r="2.8" fill="#c7c7c7" fill-opacity="0.88" stroke="#000" stroke-width="1.1"/>
<circle cx="566.12" cy="423.55" r="2.8" fill="#c7c7c7" fill-opacity="0.88" stroke="#000" stroke-width="1.1"/>
<circle cx="569.71" cy="426.45" r="2.8" fill="#c7c7c7" fill-opacity="0.88" stroke="#000" stroke-width="1.1"/>
<circle cx="565.08" cy="429.22" r="2.8" fill="#c7c7c7" fill-opacity="0.88" stroke="#000" stroke-width="1.1"/>
<circle cx="568.39" cy="423.72" r="2.8" fill="#c7c7c7" fill-opacity="0.88" stroke="#000" stroke-width="1.1"/>
<circle cx="572.39" cy="421.71" r="2.8" fill="#c7c7c7" fill-opacity="0.88" stroke="#000" stroke-width="1.1"/>
<circle cx="548.2" cy="439.34" r="2.8" fill="#c7c7c7" fill-opacity="0.88" stroke="#000" stroke-width="1.1"/>
<circle cx="567.54" cy="427.28" r="2.8" fill="#c7c7c7" fill-opacity="0.88" stroke="#000" stroke-width="1.1"/>
<circle cx="558.21" cy="435.36" r="2.8" fill="#c7c7c7" fill-opacity="0.88" stroke="#000" stroke-width="1.1"/>
<circle cx="585.76" cy="415.41" r="2.8" fill="#c7c7c7" fill-opacity="0.88" stroke="#000" stroke-width="1.1"/>
<circle cx="555.63" cy="437.81" r="2.8" fill="#c7c7c7" fill-opacity="0.88" stroke="#000" stroke-width="1.1"/>
<circle cx="567.39" cy="428.17" r="2.8" fill="#c7c7c7" fill-opacity="0.88" stroke="#000" stroke-width="1.1"/>
<circle cx="583.65" cy="416.07" r="2.8" fill="#c7c7c7" fill-opacity="0.88" stroke="#000" stroke-width="1.1"/>
<circle cx="574.6" cy="419.24" r="2.8" fill="#c7c7c7" fill-opacity="0.88" stroke="#000" stroke-width="1.1"/>
<circle cx="587.02" cy="411.62" r="2.8" fill="#c7c7c7" fill-opacity="0.88" stroke="#000" stroke-width="1.1"/>
<circle cx="577.63" cy="422.15" r="2.8" fill="#c7c7c7" fill-opacity="0.88" stroke="#000" stroke-width="1.1"/>
<circle cx="577.8" cy="411.68" r="2.8" fill="#c7c7c7" fill-opacity="0.88" stroke="#000" stroke-width="1.1"/>
<circle cx="547.34" cy="443.55" r="2.8" fill="#c7c7c7" fill-opacity="0.88" stroke="#000" stroke-width="1.1"/>
<circle cx="564.83" cy="430.62" r="2.8" fill="#c7c7c7" fill-opacity="0.88" stroke="#000" stroke-width="1.1"/>
<circle cx="574.95" cy="416.82" r="2.8" fill="#c7c7c7" fill-opacity="0.88" stroke="#000" stroke-width="1.1"/>
<circle cx="573.29" cy="418.3" r="2.8" fill="#c7c7c7" fill-opacity="0.88" stroke="#000" stroke-width="1.1"/>
<circle cx="561.67" cy="432.89" r="2.8" fill="#c7c7c7" fill-opacity="0.88" stroke="#000" stroke-width="1.1"/>
<circle cx="606.52" cy="398" r="2.8" fill="#c7c7c7" fill-opacity="0.88" stroke="#000" stroke-width="1.1"/>
<circle cx="561.64" cy="432.57" r="2.8" fill="#c7c7c7" fill-opacity="0.88" stroke="#000" stroke-width="1.1"/>
<circle cx="582.07" cy="411.41" r="2.8" fill="#c7c7c7" fill-opacity="0.88" stroke="#000" stroke-width="1.1"/>
<circle cx="579.68" cy="416.65" r="2.8" fill="#c7c7c7" fill-opacity="0.88" stroke="#000" stroke-width="1.1"/>
<circle cx="556.7" cy="436.05" r="2.8" fill="#c7c7c7" fill-opacity="0.88" stroke="#000" stroke-width="1.1"/>
<circle cx="582.31" cy="413.9" r="2.8" fill="#c7c7c7" fill-opacity="0.88" stroke="#000" stroke-width="1.1"/>
<circle cx="552.2" cy="434.97" r="2.8" fill="#c7c7c7" fill-opacity="0.88" stroke="#000" stroke-width="1.1"/>
<circle cx="549.06" cy="443.46" r="2.8" fill="#c7c7c7" fill-opacity="0.88" stroke="#000" stroke-width="1.1"/>
<circle cx="562.91" cy="430.13" r="2.8" fill="#c7c7c7" fill-opacity="0.88" stroke="#000" stroke-width="1.1"/>
<circle cx="561.42" cy="433.62" r="2.8" fill="#c7c7c7" fill-opacity="0.88" stroke="#000" stroke-width="1.1"/>
<circle cx="581.3" cy="409.62" r="2.8" fill="#dbdb8d" fill-opacity="0.88" stroke="#000" stroke-width="1.1"/>
<circle cx="586.57" cy="406.25" r="2.8" fill="#dbdb8d" fill-opacity="0.88" stroke="#000" stroke-width="1.1"/>
<circle cx="562.02" cy="427.75" r="2.8" fill="#dbdb8d" fill-opacity="0.88" stroke="#000" stroke-width="1.1"/>
<circle cx="600.28" cy="399.86" r="2.8" fill="#dbdb8d" fill-opacity="0.88" stroke="#000" stroke-width="1.1"/>
<circle cx="590.02" cy="406.19" r="2.8" fill="#dbdb8d" fill-opacity="0.88" stroke="#000" stroke-width="1.1"/>
<circle cx="583.55" cy="417.7" r="2.8" fill="#dbdb8d" fill-opacity="0.88" stroke="#000" stroke-width="1.1"/>
<circle cx="561.99" cy="429.34" r="2.8" fill="#dbdb8d" fill-opacity="0.88" stroke="#000" stroke-width="1.1"/>
<circle cx="573.57" cy="423.86" r="2.8" fill="#dbdb8d" fill-opacity="0.88" stroke="#000" stroke-width="1.1"/>
<circle cx="614.87" cy="391.03" r="2.8" fill="#dbdb8d" fill-opacity="0.88" stroke="#000" stroke-width="1.1"/>
<circle cx="593.23" cy="406.79" r="2.8" fill="#dbdb8d" fill-opacity="0.88" stroke="#000" stroke-width="1.1"/>
<circle cx="573.98" cy="421.26" r="2.8" fill="#dbdb8d" fill-opacity="0.88" stroke="#000" stroke-width="1.1"/>
<circle cx="589.68" cy="406.65" r="2.8" fill="#dbdb8d" fill-opacity="0.88" stroke="#000" stroke-width="1.1"/>
<circle cx="591.21" cy="405.14" r="2.8" fill="#dbdb8d" fill-opacity="0.88" stroke="#000" stroke-width="1.1"/>
<circle cx="576.04" cy="418.21" r="2.8" fill="#dbdb8d" fill-opacity="0.88" stroke="#000" stroke-width="1.1"/>
<circle cx="578.11" cy="419.35" r="2.8" fill="#dbdb8d" fill-opacity="0.88" stroke="#000" stroke-width="1.1"/>
<circle cx="599.96" cy="398.25" r="2.8" fill="#dbdb8d" fill-opacity="0.88" stroke="#000" stroke-width="1.1"/>
<circle cx="577.73" cy="417.75" r="2.8" fill="#dbdb8d" fill-opacity="0.88" stroke="#000" stroke-width="1.1"/>
<circle cx="576.32" cy="415.87" r="2.8" fill="#dbdb8d" fill-opacity="0.88" stroke="#000" stroke-width="1.1"/>
<circle cx="614.28" cy="390.55" r="2.8" fill="#dbdb8d" fill-opacity="0.88" stroke="#000" stroke-width="1.1"/>
<circle cx="583.49" cy="419.28" r="2.8" fill="#dbdb8d" fill-opacity="0.88" stroke="#000" stroke-width="1.1"/>
<circle cx="588.3" cy="410.17" r="2.8" fill="#dbdb8d" fill-opacity="0.88" stroke="#000" stroke-width="1.1"/>
<circle cx="571.69" cy="417.3" r="2.8" fill="#dbdb8d" fill-opacity="0.88" stroke="#000" stroke-width="1.1"/>
<circle cx="604.47" cy="395.15" r="2.8" fill="#dbdb8d" fill-opacity="0.88" stroke="#000" stroke-width="1.1"/>
<circle cx="602.39" cy="398.33" r="2.8" fill="#dbdb8d" fill-opacity="0.88" stroke="#000" stroke-width="1.1"/>
<circle cx="582.92" cy="411.31" r="2.8" fill="#dbdb8d" fill-opacity="0.88" stroke="#000" stroke-width="1.1"/>
<circle cx="597.62" cy="400.51" r="2.8" fill="#dbdb8d" fill-opacity="0.88" stroke="#000" stroke-width="1.1"/>
<circle cx="576.74" cy="417.19" r="2.8" fill="#dbdb8d" fill-opacity="0.88" stroke="#000" stroke-width="1.1"/>
<circle cx="586.01" cy="412.08" r="2.8" fill="#dbdb8d" fill-opacity="0.88" stroke="#000" stroke-width="1.1"/>
<circle cx="580.59" cy="415.03" r="2.8" fill="#dbdb8d" fill-opacity="0.88" stroke="#000" stroke-width="1.1"/>
<circle cx="602.02" cy="397.71" r="2.8" fill="#dbdb8d" fill-opacity="0.88" stroke="#000" stroke-width="1.1"/>
<circle cx="587.57" cy="411.14" r="2.8" fill="#dbdb8d" fill-opacity="0.88" stroke="#000" stroke-width="1.1"/>
<circle cx="600.27" cy="402.15" r="2.8" fill="#dbdb8d" fill-opacity="0.88" stroke="#000" stroke-width="1.1"/>
<circle cx="569.87" cy="423.4" r="2.8" fill="#dbdb8d" fill-opacity="0.88" stroke="#000" stroke-width="1.1"/>
<circle cx="568.06" cy="422.92" r="2.8" fill="#dbdb8d" fill-opacity="0.88" stroke="#000" stroke-width="1.1"/>
<circle cx="568.15" cy="423.59" r="2.8" fill="#dbdb8d" fill-opacity="0.88" stroke="#000" stroke-width="1.1"/>
<circle cx="568.75" cy="423.47" r="2.8" fill="#dbdb8d" fill-opacity="0.88" stroke="#000" stroke-width="1.1"/>
<circle cx="575.97" cy="417.7" r="2.8" fill="#dbdb8d" fill-opacity="0.88" stroke="#000" stroke-width="1.1"/>
<circle cx="596.85" cy="396.31" r="2.8" fill="#dbdb8d" fill-opacity="0.88" stroke="#000" stroke-width="1.1"/>
<circle cx="565.88" cy="426.29" r="2.8" fill="#dbdb8d" fill-opacity="0.88" stroke="#000" stroke-width="1.1"/>
<circle cx="593.62" cy="402.44" r="2.8" fill="#dbdb8d" fill-opacity="0.88" stroke="#000" stroke-width="1.1"/>
<circle cx="582.47" cy="409.19" r="2.8" fill="#dbdb8d" fill-opacity="0.88" stroke="#000" stroke-width="1.1"/>
<circle cx="567.37" cy="425.58" r="2.8" fill="#dbdb8d" fill-opacity="0.88" stroke="#000" stroke-width="1.1"/>
<circle cx="579.23" cy="415.67" r="2.8" fill="#dbdb8d" fill-opacity="0.88" stroke="#000" stroke-width="1.1"/>
<circle cx="601.73" cy="395.99" r="2.8" fill="#dbdb8d" fill-opacity="0.88" stroke="#000" stroke-width="1.1"/>
<circle cx="622.27" cy="378.19" r="2.8" fill="#dbdb8d" fill-opacity="0.88" stroke="#000" stroke-width="1.1"/>
<circle cx="584.42" cy="411.43" r="2.8" fill="#dbdb8d" fill-opacity="0.88" stroke="#000" stroke-width="1.1"/>
<circle cx="570.25" cy="422.57" r="2.8" fill="#dbdb8d" fill-opacity="0.88" stroke="#000" stroke-width="1.1"/>
<circle cx="579.39" cy="415.94" r="2.8" fill="#dbdb8d" fill-opacity="0.88" stroke="#000" stroke-width="1.1"/>
<circle cx="611.22" cy="393.65" r="2.8" fill="#dbdb8d" fill-opacity="0.88" stroke="#000" stroke-width="1.1"/>
<circle cx="586" cy="408.32" r="2.8" fill="#dbdb8d" fill-opacity="0.88" stroke="#000" stroke-width="1.1"/>
<circle cx="582.95" cy="413.91" r="2.8" fill="#dbdb8d" fill-opacity="0.88" stroke="#000" stroke-width="1.1"/>
<circle cx="597.45" cy="405.78" r="2.8" fill="#dbdb8d" fill-opacity="0.88" stroke="#000" stroke-width="1.1"/>
<circle cx="591.11" cy="407.17" r="2.8" fill="#dbdb8d" fill-opacity="0.88" stroke="#000" stroke-width="1.1"/>
<circle cx="584.29" cy="416.25" r="2.8" fill="#dbdb8d" fill-opacity="0.88" stroke="#000" stroke-width="1.1"/>
<circle cx="593.87" cy="406.97" r="2.8" fill="#dbdb8d" fill-opacity="0.88" stroke="#000" stroke-width="1.1"/>
<circle cx="587.68" cy="409.52" r="2.8" fill="#dbdb8d" fill-opacity="0.88" stroke="#000" stroke-width="1.1"/>
<circle cx="587.58" cy="411.77" r="2.8" fill="#dbdb8d" fill-opacity="0.88" stroke="#000" stroke-width="1.1"/>
<circle cx="587.62" cy="407.13" r="2.8" fill="#dbdb8d" fill-opacity="0.88" stroke="#000" stroke-width="1.1"/>
<circle cx="585.74" cy="414.49" r="2.8" fill="#dbdb8d" fill-opacity="0.88" stroke="#000" stroke-width="1.1"/>
<circle cx="604.47" cy="395.6" r="2.8" fill="#dbdb8d" fill-opacity="0.88" stroke="#000" stroke-width="1.1"/>
<circle cx="561.51" cy="429.05" r="2.8" fill="#dbdb8d" fill-opacity="0.88" stroke="#000" stroke-width="1.1"/>
<circle cx="593.05" cy="401.91" r="2.8" fill="#dbdb8d" fill-opacity="0.88" stroke="#000" stroke-width="1.1"/>
<circle cx="593.92" cy="402.46" r="2.8" fill="#dbdb8d" fill-opacity="0.88" stroke="#000" stroke-width="1.1"/>
<circle cx="566.58" cy="425.77" r="2.8" fill="#dbdb8d" fill-opacity="0.88" stroke="#000" stroke-width="1.1"/>
<circle cx="569.14" cy="424.09" r="2.8" fill="#dbdb8d" fill-opacity="0.88" stroke="#000" stroke-width="1.1"/>
<circle cx="567.07" cy="426.06" r="2.8" fill="#dbdb8d" fill-opacity="0.88" stroke="#000" stroke-width="1.1"/>
<circle cx="581.57" cy="411.77" r="2.8" fill="#dbdb8d" fill-opacity="0.88" stroke="#000" stroke-width="1.1"/>
<circle cx="566.78" cy="427.67" r="2.8" fill="#dbdb8d" fill-opacity="0.88" stroke="#000" stroke-width="1.1"/>
<circle cx="570.12" cy="422.29" r="2.8" fill="#dbdb8d" fill-opacity="0.88" stroke="#000" stroke-width="1.1"/>
<circle cx="582.36" cy="413.99" r="2.8" fill="#dbdb8d" fill-opacity="0.88" stroke="#000" stroke-width="1.1"/>
<circle cx="570.32" cy="422.78" r="2.8" fill="#dbdb8d" fill-opacity="0.88" stroke="#000" stroke-width="1.1"/>
<circle cx="579.03" cy="417.02" r="2.8" fill="#dbdb8d" fill-opacity="0.88" stroke="#000" stroke-width="1.1"/>
<circle cx="598.18" cy="396.27" r="2.8" fill="#dbdb8d" fill-opacity="0.88" stroke="#000" stroke-width="1.1"/>
<circle cx="591.51" cy="408.02" r="2.8" fill="#dbdb8d" fill-opacity="0.88" stroke="#000" stroke-width="1.1"/>
<circle cx="574.83" cy="419.17" r="2.8" fill="#dbdb8d" fill-opacity="0.88" stroke="#000" stroke-width="1.1"/>
<circle cx="573.67" cy="420.04" r="2.8" fill="#dbdb8d" fill-opacity="0.88" stroke="#000" stroke-width="1.1"/>
<circle cx="597.66" cy="400.21" r="2.8" fill="#dbdb8d" fill-opacity="0.88" stroke="#000" stroke-width="1.1"/>
<circle cx="590.23" cy="406.48" r="2.8" fill="#dbdb8d" fill-opacity="0.88" stroke="#000" stroke-width="1.1"/>
<circle cx="576.85" cy="417.16" r="2.8" fill="#dbdb8d" fill-opacity="0.88" stroke="#000" stroke-width="1.1"/>
<circle cx="629.44" cy="374.09" r="2.8" fill="#dbdb8d" fill-opacity="0.88" stroke="#000" stroke-width="1.1"/>
<circle cx="549.87" cy="443.06" r="2.8" fill="#dbdb8d" fill-opacity="0.88" stroke="#000" stroke-width="1.1"/>
<circle cx="585.02" cy="411.63" r="2.8" fill="#dbdb8d" fill-opacity="0.88" stroke="#000" stroke-width="1.1"/>
<circle cx="590.69" cy="410" r="2.8" fill="#dbdb8d" fill-opacity="0.88" stroke="#000" stroke-width="1.1"/>
<circle cx="582.16" cy="413.39" r="2.8" fill="#dbdb8d" fill-opacity="0.88" stroke="#000" stroke-width="1.1"/>
<circle cx="583.26" cy="415.78" r="2.8" fill="#dbdb8d" fill-opacity="0.88" stroke="#000" stroke-width="1.1"/>
<circle cx="584.77" cy="414.07" r="2.8" fill="#dbdb8d" fill-opacity="0.88" stroke="#000" stroke-width="1.1"/>
<circle cx="586.11" cy="410.93" r="2.8" fill="#dbdb8d" fill-opacity="0.88" stroke="#000" stroke-width="1.1"/>
<circle cx="595.89" cy="399.79" r="2.8" fill="#dbdb8d" fill-opacity="0.88" stroke="#000" stroke-width="1.1"/>
<circle cx="592.27" cy="404.56" r="2.8" fill="#dbdb8d" fill-opacity="0.88" stroke="#000" stroke-width="1.1"/>
<circle cx="569" cy="423.7" r="2.8" fill="#dbdb8d" fill-opacity="0.88" stroke="#000" stroke-width="1.1"/>
<circle cx="560.97" cy="427.52" r="2.8" fill="#dbdb8d" fill-opacity="0.88" stroke="#000" stroke-width="1.1"/>
<circle cx="590.29" cy="409.64" r="2.8" fill="#dbdb8d" fill-opacity="0.88" stroke="#000" stroke-width="1.1"/>
<circle cx="572.38" cy="426.53" r="2.8" fill="#dbdb8d" fill-opacity="0.88" stroke="#000" stroke-width="1.1"/>
<circle cx="598.85" cy="401.64" r="2.8" fill="#dbdb8d" fill-opacity="0.88" stroke="#000" stroke-width="1.1"/>
<circle cx="571.08" cy="423.36" r="2.8" fill="#dbdb8d" fill-opacity="0.88" stroke="#000" stroke-width="1.1"/>
<circle cx="565.11" cy="424.61" r="2.8" fill="#dbdb8d" fill-opacity="0.88" stroke="#000" stroke-width="1.1"/>
<circle cx="595.39" cy="398.47" r="2.8" fill="#dbdb8d" fill-opacity="0.88" stroke="#000" stroke-width="1.1"/>
<circle cx="598.54" cy="403.98" r="2.8" fill="#dbdb8d" fill-opacity="0.88" stroke="#000" stroke-width="1.1"/>
<circle cx="573.63" cy="414.97" r="2.8" fill="#dbdb8d" fill-opacity="0.88" stroke="#000" stroke-width="1.1"/>
<circle cx="558.99" cy="428.71" r="2.8" fill="#dbdb8d" fill-opacity="0.88" stroke="#000" stroke-width="1.1"/>
<circle cx="588.55" cy="406.91" r="2.8" fill="#9edae5" fill-opacity="0.88" stroke="#000" stroke-width="1.1"/>
<circle cx="592.66" cy="404.73" r="2.8" fill="#9edae5" fill-opacity="0.88" stroke="#000" stroke-width="1.1"/>
<circle cx="608.06" cy="387.74" r="2.8" fill="#9edae5" fill-opacity="0.88" stroke="#000" stroke-width="1.1"/>
<circle cx="597.19" cy="401.79" r="2.8" fill="#9edae5" fill-opacity="0.88" stroke="#000" stroke-width="1.1"/>
<circle cx="594.05" cy="405.57" r="2.8" fill="#9edae5" fill-opacity="0.88" stroke="#000" stroke-width="1.1"/>
<circle cx="588.54" cy="408.53" r="2.8" fill="#9edae5" fill-opacity="0.88" stroke="#000" stroke-width="1.1"/>
<circle cx="603.93" cy="399.79" r="2.8" fill="#9edae5" fill-opacity="0.88" stroke="#000" stroke-width="1.1"/>
<circle cx="587.92" cy="408.26" r="2.8" fill="#9edae5" fill-opacity="0.88" stroke="#000" stroke-width="1.1"/>
<circle cx="591.51" cy="406.74" r="2.8" fill="#9edae5" fill-opacity="0.88" stroke="#000" stroke-width="1.1"/>
<circle cx="591.74" cy="405.55" r="2.8" fill="#9edae5" fill-opacity="0.88" stroke="#000" stroke-width="1.1"/>
<circle cx="601.46" cy="397.76" r="2.8" fill="#9edae5" fill-opacity="0.88" stroke="#000" stroke-width="1.1"/>
<circle cx="596.23" cy="405.19" r="2.8" fill="#9edae5" fill-opacity="0.88" stroke="#000" stroke-width="1.1"/>
<circle cx="595.06" cy="400.63" r="2.8" fill="#9edae5" fill-opacity="0.88" stroke="#000" stroke-width="1.1"/>
<circle cx="584.87" cy="414.11" r="2.8" fill="#9edae5" fill-opacity="0.88" stroke="#000" stroke-width="1.1"/>
<circle cx="598.12" cy="399.19" r="2.8" fill="#9edae5" fill-opacity="0.88" stroke="#000" stroke-width="1.1"/>
<circle cx="595.89" cy="406.7" r="2.8" fill="#9edae5" fill-opacity="0.88" stroke="#000" stroke-width="1.1"/>
<circle cx="587.95" cy="408.46" r="2.8" fill="#9edae5" fill-opacity="0.88" stroke="#000" stroke-width="1.1"/>
<circle cx="597.86" cy="403.34" r="2.8" fill="#9edae5" fill-opacity="0.88" stroke="#000" stroke-width="1.1"/>
<circle cx="594.25" cy="404.22" r="2.8" fill="#9edae5" fill-opacity="0.88" stroke="#000" stroke-width="1.1"/>
<circle cx="606.17" cy="396.35" r="2.8" fill="#9edae5" fill-opacity="0.88" stroke="#000" stroke-width="1.1"/>
<circle cx="597.88" cy="406.47" r="2.8" fill="#9edae5" fill-opacity="0.88" stroke="#000" stroke-width="1.1"/>
<circle cx="596.19" cy="405.35" r="2.8" fill="#9edae5" fill-opacity="0.88" stroke="#000" stroke-width="1.1"/>
<circle cx="594.46" cy="403.99" r="2.8" fill="#9edae5" fill-opacity="0.88" stroke="#000" stroke-width="1.1"/>
<circle cx="615.63" cy="385.89" r="2.8" fill="#9edae5" fill-opacity="0.88" stroke="#000" stroke-width="1.1"/>
<circle cx="616.41" cy="390.1" r="2.8" fill="#9edae5" fill-opacity="0.88" stroke="#000" stroke-width="1.1"/>
<circle cx="643.55" cy="370.06" r="2.8" fill="#9edae5" fill-opacity="0.88" stroke="#000" stroke-width="1.1"/>
<circle cx="613.74" cy="390.84" r="2.8" fill="#9edae5" fill-opacity="0.88" stroke="#000" stroke-width="1.1"/>
<circle cx="602.12" cy="398.55" r="2.8" fill="#9edae5" fill-opacity="0.88" stroke="#000" stroke-width="1.1"/>
<circle cx="605.62" cy="396.75" r="2.8" fill="#9edae5" fill-opacity="0.88" stroke="#000" stroke-width="1.1"/>
<circle cx="592.99" cy="407.19" r="2.8" fill="#9edae5" fill-opacity="0.88" stroke="#000" stroke-width="1.1"/>
<circle cx="634.38" cy="370.47" r="2.8" fill="#9edae5" fill-opacity="0.88" stroke="#000" stroke-width="1.1"/>
<circle cx="569.14" cy="422.03" r="2.8" fill="#9edae5" fill-opacity="0.88" stroke="#000" stroke-width="1.1"/>
<circle cx="621.9" cy="380.63" r="2.8" fill="#9edae5" fill-opacity="0.88" stroke="#000" stroke-width="1.1"/>
<circle cx="578.75" cy="418.79" r="2.8" fill="#9edae5" fill-opacity="0.88" stroke="#000" stroke-width="1.1"/>
<circle cx="587.48" cy="409.52" r="2.8" fill="#9edae5" fill-opacity="0.88" stroke="#000" stroke-width="1.1"/>
<circle cx="593.5" cy="405.36" r="2.8" fill="#9edae5" fill-opacity="0.88" stroke="#000" stroke-width="1.1"/>
<circle cx="584.65" cy="415.24" r="2.8" fill="#9edae5" fill-opacity="0.88" stroke="#000" stroke-width="1.1"/>
<circle cx="612.31" cy="387.93" r="2.8" fill="#9edae5" fill-opacity="0.88" stroke="#000" stroke-width="1.1"/>
<circle cx="600.91" cy="398.81" r="2.8" fill="#9edae5" fill-opacity="0.88" stroke="#000" stroke-width="1.1"/>
<circle cx="614.63" cy="389.24" r="2.8" fill="#9edae5" fill-opacity="0.88" stroke="#000" stroke-width="1.1"/>
<circle cx="577.32" cy="414.49" r="2.8" fill="#9edae5" fill-opacity="0.88" stroke="#000" stroke-width="1.1"/>
<circle cx="606.03" cy="393.19" r="2.8" fill="#9edae5" fill-opacity="0.88" stroke="#000" stroke-width="1.1"/>
<circle cx="611.72" cy="388.45" r="2.8" fill="#9edae5" fill-opacity="0.88" stroke="#000" stroke-width="1.1"/>
<circle cx="601.7" cy="395.62" r="2.8" fill="#9edae5" fill-opacity="0.88" stroke="#000" stroke-width="1.1"/>
<circle cx="595.99" cy="401.27" r="2.8" fill="#9edae5" fill-opacity="0.88" stroke="#000" stroke-width="1.1"/>
<circle cx="596.78" cy="405.23" r="2.8" fill="#9edae5" fill-opacity="0.88" stroke="#000" stroke-width="1.1"/>
<circle cx="593.88" cy="405.51" r="2.8" fill="#9edae5" fill-opacity="0.88" stroke="#000" stroke-width="1.1"/>
<circle cx="599.82" cy="397.57" r="2.8" fill="#9edae5" fill-opacity="0.88" stroke="#000" stroke-width="1.1"/>
<circle cx="580.17" cy="417.27" r="2.8" fill="#9edae5" fill-opacity="0.88" stroke="#000" stroke-width="1.1"/>
<circle cx="597.73" cy="401.46" r="2.8" fill="#9edae5" fill-opacity="0.88" stroke="#000" stroke-width="1.1"/>
<circle cx="595.29" cy="402.57" r="2.8" fill="#9edae5" fill-opacity="0.88" stroke="#000" stroke-width="1.1"/>
<circle cx="592.36" cy="402.49" r="2.8" fill="#9edae5" fill-opacity="0.88" stroke="#000" stroke-width="1.1"/>
<circle cx="566.56" cy="423.31" r="2.8" fill="#9edae5" fill-opacity="0.88" stroke="#000" stroke-width="1.1"/>
<circle cx="581.03" cy="412.75" r="2.8" fill="#9edae5" fill-opacity="0.88" stroke="#000" stroke-width="1.1"/>
<circle cx="578.6" cy="417.18" r="2.8" fill="#9edae5" fill-opacity="0.88" stroke="#000" stroke-width="1.1"/>
<circle cx="616.67" cy="384.39" r="2.8" fill="#9edae5" fill-opacity="0.88" stroke="#000" stroke-width="1.1"/>
<circle cx="591.44" cy="405.33" r="2.8" fill="#9edae5" fill-opacity="0.88" stroke="#000" stroke-width="1.1"/>
<circle cx="590.47" cy="407.69" r="2.8" fill="#9edae5" fill-opacity="0.88" stroke="#000" stroke-width="1.1"/>
<circle cx="580.45" cy="412.14" r="2.8" fill="#9edae5" fill-opacity="0.88" stroke="#000" stroke-width="1.1"/>
<circle cx="603.74" cy="395.64" r="2.8" fill="#9edae5" fill-opacity="0.88" stroke="#000" stroke-width="1.1"/>
<circle cx="581.97" cy="415.82" r="2.8" fill="#9edae5" fill-opacity="0.88" stroke="#000" stroke-width="1.1"/>
<circle cx="581.68" cy="411.38" r="2.8" fill="#9edae5" fill-opacity="0.88" stroke="#000" stroke-width="1.1"/>
<circle cx="591.36" cy="407.21" r="2.8" fill="#9edae5" fill-opacity="0.88" stroke="#000" stroke-width="1.1"/>
<circle cx="591.46" cy="405.16" r="2.8" fill="#9edae5" fill-opacity="0.88" stroke="#000" stroke-width="1.1"/>
<circle cx="605.66" cy="398.78" r="2.8" fill="#9edae5" fill-opacity="0.88" stroke="#000" stroke-width="1.1"/>
<circle cx="602.05" cy="398.17" r="2.8" fill="#9edae5" fill-opacity="0.88" stroke="#000" stroke-width="1.1"/>
<circle cx="589.94" cy="409.93" r="2.8" fill="#9edae5" fill-opacity="0.88" stroke="#000" stroke-width="1.1"/>
<circle cx="618.84" cy="387.03" r="2.8" fill="#9edae5" fill-opacity="0.88" stroke="#000" stroke-width="1.1"/>
<circle cx="597.38" cy="406.25" r="2.8" fill="#9edae5" fill-opacity="0.88" stroke="#000" stroke-width="1.1"/>
<circle cx="605.38" cy="390.53" r="2.8" fill="#9edae5" fill-opacity="0.88" stroke="#000" stroke-width="1.1"/>
<circle cx="588.54" cy="409.21" r="2.8" fill="#9edae5" fill-opacity="0.88" stroke="#000" stroke-width="1.1"/>
<circle cx="619.32" cy="383.85" r="2.8" fill="#9edae5" fill-opacity="0.88" stroke="#000" stroke-width="1.1"/>
<circle cx="597.55" cy="399.14" r="2.8" fill="#9edae5" fill-opacity="0.88" stroke="#000" stroke-width="1.1"/>
<circle cx="591.26" cy="406.98" r="2.8" fill="#9edae5" fill-opacity="0.88" stroke="#000" stroke-width="1.1"/>
<circle cx="614.91" cy="386.73" r="2.8" fill="#9edae5" fill-opacity="0.88" stroke="#000" stroke-width="1.1"/>
<circle cx="589.72" cy="411.06" r="2.8" fill="#9edae5" fill-opacity="0.88" stroke="#000" stroke-width="1.1"/>
<circle cx="598.84" cy="400.23" r="2.8" fill="#9edae5" fill-opacity="0.88" stroke="#000" stroke-width="1.1"/>
<circle cx="597.89" cy="402.39" r="2.8" fill="#9edae5" fill-opacity="0.88" stroke="#000" stroke-width="1.1"/>
<circle cx="589.66" cy="406.82" r="2.8" fill="#9edae5" fill-opacity="0.88" stroke="#000" stroke-width="1.1"/>
<circle cx="618.84" cy="384.37" r="2.8" fill="#9edae5" fill-opacity="0.88" stroke="#000" stroke-width="1.1"/>
<circle cx="603.8" cy="399.94" r="2.8" fill="#9edae5" fill-opacity="0.88" stroke="#000" stroke-width="1.1"/>
<circle cx="580.52" cy="419.51" r="2.8" fill="#9edae5" fill-opacity="0.88" stroke="#000" stroke-width="1.1"/>
<circle cx="591.83" cy="408.59" r="2.8" fill="#9edae5" fill-opacity="0.88" stroke="#000" stroke-width="1.1"/>
<circle cx="614.05" cy="386.89" r="2.8" fill="#9edae5" fill-opacity="0.88" stroke="#000" stroke-width="1.1"/>
<circle cx="638.96" cy="367.82" r="2.8" fill="#9edae5" fill-opacity="0.88" stroke="#000" stroke-width="1.1"/>
<circle cx="597.64" cy="400.71" r="2.8" fill="#9edae5" fill-opacity="0.88" stroke="#000" stroke-width="1.1"/>
<circle cx="565.74" cy="431.65" r="2.8" fill="#9edae5" fill-opacity="0.88" stroke="#000" stroke-width="1.1"/>
<circle cx="588.7" cy="414.95" r="2.8" fill="#9edae5" fill-opacity="0.88" stroke="#000" stroke-width="1.1"/>
<circle cx="591.64" cy="407.85" r="2.8" fill="#9edae5" fill-opacity="0.88" stroke="#000" stroke-width="1.1"/>
<circle cx="598.78" cy="401.5" r="2.8" fill="#9edae5" fill-opacity="0.88" stroke="#000" stroke-width="1.1"/>
<circle cx="614.81" cy="389.39" r="2.8" fill="#9edae5" fill-opacity="0.88" stroke="#000" stroke-width="1.1"/>
<circle cx="587.38" cy="408.97" r="2.8" fill="#9edae5" fill-opacity="0.88" stroke="#000" stroke-width="1.1"/>
<circle cx="636.61" cy="371.07" r="2.8" fill="#9edae5" fill-opacity="0.88" stroke="#000" stroke-width="1.1"/>
<circle cx="599.45" cy="402.94" r="2.8" fill="#9edae5" fill-opacity="0.88" stroke="#000" stroke-width="1.1"/>
<circle cx="611.18" cy="392.92" r="2.8" fill="#9edae5" fill-opacity="0.88" stroke="#000" stroke-width="1.1"/>
<circle cx="578.07" cy="416.86" r="2.8" fill="#9edae5" fill-opacity="0.88" stroke="#000" stroke-width="1.1"/>
<circle cx="612.84" cy="389.4" r="2.8" fill="#9edae5" fill-opacity="0.88" stroke="#000" stroke-width="1.1"/>
<circle cx="590.46" cy="407.52" r="2.8" fill="#9edae5" fill-opacity="0.88" stroke="#000" stroke-width="1.1"/>
<circle cx="599.43" cy="394.98" r="2.8" fill="#9edae5" fill-opacity="0.88" stroke="#000" stroke-width="1.1"/>
<circle cx="616.78" cy="387.05" r="2.8" fill="#9edae5" fill-opacity="0.88" stroke="#000" stroke-width="1.1"/>
<line x1="398" y1="560.26" x2="679.4" y2="336.7" stroke="#000" stroke-width="2.0"/>
</g>
<rect x="398.0" y="336.7" width="281.4" height="223.6" fill="none" stroke="#222" stroke-width="1.45"/>
<line x1="398" y1="552.81" x2="400.8" y2="552.81" stroke="#222" stroke-width="1.1"/>
<line x1="679.4" y1="552.81" x2="676.6" y2="552.81" stroke="#222" stroke-width="1.1"/>
<line x1="407.38" y1="336.7" x2="407.38" y2="339.5" stroke="#222" stroke-width="1.1"/>
<line x1="407.38" y1="560.3" x2="407.38" y2="557.5" stroke="#222" stroke-width="1.1"/>
<line x1="398" y1="545.36" x2="400.8" y2="545.36" stroke="#222" stroke-width="1.1"/>
<line x1="679.4" y1="545.36" x2="676.6" y2="545.36" stroke="#222" stroke-width="1.1"/>
<line x1="416.76" y1="336.7" x2="416.76" y2="339.5" stroke="#222" stroke-width="1.1"/>
<line x1="416.76" y1="560.3" x2="416.76" y2="557.5" stroke="#222" stroke-width="1.1"/>
<line x1="398" y1="537.9" x2="400.8" y2="537.9" stroke="#222" stroke-width="1.1"/>
<line x1="679.4" y1="537.9" x2="676.6" y2="537.9" stroke="#222" stroke-width="1.1"/>
<line x1="426.14" y1="336.7" x2="426.14" y2="339.5" stroke="#222" stroke-width="1.1"/>
<line x1="426.14" y1="560.3" x2="426.14" y2="557.5" stroke="#222" stroke-width="1.1"/>
<line x1="398" y1="530.45" x2="400.8" y2="530.45" stroke="#222" stroke-width="1.1"/>
<line x1="679.4" y1="530.45" x2="676.6" y2="530.45" stroke="#222" stroke-width="1.1"/>
<line x1="435.52" y1="336.7" x2="435.52" y2="339.5" stroke="#222" stroke-width="1.1"/>
<line x1="435.52" y1="560.3" x2="435.52" y2="557.5" stroke="#222" stroke-width="1.1"/>
<line x1="398" y1="523" x2="403.8" y2="523" stroke="#222" stroke-width="1.1"/>
<line x1="679.4" y1="523" x2="673.6" y2="523" stroke="#222" stroke-width="1.1"/>
<line x1="444.9" y1="336.7" x2="444.9" y2="342.5" stroke="#222" stroke-width="1.1"/>
<line x1="444.9" y1="560.3" x2="444.9" y2="554.5" stroke="#222" stroke-width="1.1"/>
<line x1="398" y1="515.55" x2="400.8" y2="515.55" stroke="#222" stroke-width="1.1"/>
<line x1="679.4" y1="515.55" x2="676.6" y2="515.55" stroke="#222" stroke-width="1.1"/>
<line x1="454.28" y1="336.7" x2="454.28" y2="339.5" stroke="#222" stroke-width="1.1"/>
<line x1="454.28" y1="560.3" x2="454.28" y2="557.5" stroke="#222" stroke-width="1.1"/>
<line x1="398" y1="508.1" x2="400.8" y2="508.1" stroke="#222" stroke-width="1.1"/>
<line x1="679.4" y1="508.1" x2="676.6" y2="508.1" stroke="#222" stroke-width="1.1"/>
<line x1="463.66" y1="336.7" x2="463.66" y2="339.5" stroke="#222" stroke-width="1.1"/>
<line x1="463.66" y1="560.3" x2="463.66" y2="557.5" stroke="#222" stroke-width="1.1"/>
<line x1="398" y1="500.64" x2="400.8" y2="500.64" stroke="#222" stroke-width="1.1"/>
<line x1="679.4" y1="500.64" x2="676.6" y2="500.64" stroke="#222" stroke-width="1.1"/>
<line x1="473.04" y1="336.7" x2="473.04" y2="339.5" stroke="#222" stroke-width="1.1"/>
<line x1="473.04" y1="560.3" x2="473.04" y2="557.5" stroke="#222" stroke-width="1.1"/>
<line x1="398" y1="493.19" x2="400.8" y2="493.19" stroke="#222" stroke-width="1.1"/>
<line x1="679.4" y1="493.19" x2="676.6" y2="493.19" stroke="#222" stroke-width="1.1"/>
<line x1="482.42" y1="336.7" x2="482.42" y2="339.5" stroke="#222" stroke-width="1.1"/>
<line x1="482.42" y1="560.3" x2="482.42" y2="557.5" stroke="#222" stroke-width="1.1"/>
<line x1="398" y1="485.74" x2="403.8" y2="485.74" stroke="#222" stroke-width="1.1"/>
<line x1="679.4" y1="485.74" x2="673.6" y2="485.74" stroke="#222" stroke-width="1.1"/>
<line x1="491.8" y1="336.7" x2="491.8" y2="342.5" stroke="#222" stroke-width="1.1"/>
<line x1="491.8" y1="560.3" x2="491.8" y2="554.5" stroke="#222" stroke-width="1.1"/>
<line x1="398" y1="478.29" x2="400.8" y2="478.29" stroke="#222" stroke-width="1.1"/>
<line x1="679.4" y1="478.29" x2="676.6" y2="478.29" stroke="#222" stroke-width="1.1"/>
<line x1="501.18" y1="336.7" x2="501.18" y2="339.5" stroke="#222" stroke-width="1.1"/>
<line x1="501.18" y1="560.3" x2="501.18" y2="557.5" stroke="#222" stroke-width="1.1"/>
<line x1="398" y1="470.84" x2="400.8" y2="470.84" stroke="#222" stroke-width="1.1"/>
<line x1="679.4" y1="470.84" x2="676.6" y2="470.84" stroke="#222" stroke-width="1.1"/>
<line x1="510.56" y1="336.7" x2="510.56" y2="339.5" stroke="#222" stroke-width="1.1"/>
<line x1="510.56" y1="560.3" x2="510.56" y2="557.5" stroke="#222" stroke-width="1.1"/>
<line x1="398" y1="463.38" x2="400.8" y2="463.38" stroke="#222" stroke-width="1.1"/>
<line x1="679.4" y1="463.38" x2="676.6" y2="463.38" stroke="#222" stroke-width="1.1"/>
<line x1="519.94" y1="336.7" x2="519.94" y2="339.5" stroke="#222" stroke-width="1.1"/>
<line x1="519.94" y1="560.3" x2="519.94" y2="557.5" stroke="#222" stroke-width="1.1"/>
<line x1="398" y1="455.93" x2="400.8" y2="455.93" stroke="#222" stroke-width="1.1"/>
<line x1="679.4" y1="455.93" x2="676.6" y2="455.93" stroke="#222" stroke-width="1.1"/>
<line x1="529.32" y1="336.7" x2="529.32" y2="339.5" stroke="#222" stroke-width="1.1"/>
<line x1="529.32" y1="560.3" x2="529.32" y2="557.5" stroke="#222" stroke-width="1.1"/>
<line x1="398" y1="448.48" x2="403.8" y2="448.48" stroke="#222" stroke-width="1.1"/>
<line x1="679.4" y1="448.48" x2="673.6" y2="448.48" stroke="#222" stroke-width="1.1"/>
<line x1="538.7" y1="336.7" x2="538.7" y2="342.5" stroke="#222" stroke-width="1.1"/>
<line x1="538.7" y1="560.3" x2="538.7" y2="554.5" stroke="#222" stroke-width="1.1"/>
<line x1="398" y1="441.03" x2="400.8" y2="441.03" stroke="#222" stroke-width="1.1"/>
<line x1="679.4" y1="441.03" x2="676.6" y2="441.03" stroke="#222" stroke-width="1.1"/>
<line x1="548.08" y1="336.7" x2="548.08" y2="339.5" stroke="#222" stroke-width="1.1"/>
<line x1="548.08" y1="560.3" x2="548.08" y2="557.5" stroke="#222" stroke-width="1.1"/>
<line x1="398" y1="433.58" x2="400.8" y2="433.58" stroke="#222" stroke-width="1.1"/>
<line x1="679.4" y1="433.58" x2="676.6" y2="433.58" stroke="#222" stroke-width="1.1"/>
<line x1="557.46" y1="336.7" x2="557.46" y2="339.5" stroke="#222" stroke-width="1.1"/>
<line x1="557.46" y1="560.3" x2="557.46" y2="557.5" stroke="#222" stroke-width="1.1"/>
<line x1="398" y1="426.12" x2="400.8" y2="426.12" stroke="#222" stroke-width="1.1"/>
<line x1="679.4" y1="426.12" x2="676.6" y2="426.12" stroke="#222" stroke-width="1.1"/>
<line x1="566.84" y1="336.7" x2="566.84" y2="339.5" stroke="#222" stroke-width="1.1"/>
<line x1="566.84" y1="560.3" x2="566.84" y2="557.5" stroke="#222" stroke-width="1.1"/>
<line x1="398" y1="418.67" x2="400.8" y2="418.67" stroke="#222" stroke-width="1.1"/>
<line x1="679.4" y1="418.67" x2="676.6" y2="418.67" stroke="#222" stroke-width="1.1"/>
<line x1="576.22" y1="336.7" x2="576.22" y2="339.5" stroke="#222" stroke-width="1.1"/>
<line x1="576.22" y1="560.3" x2="576.22" y2="557.5" stroke="#222" stroke-width="1.1"/>
<line x1="398" y1="411.22" x2="403.8" y2="411.22" stroke="#222" stroke-width="1.1"/>
<line x1="679.4" y1="411.22" x2="673.6" y2="411.22" stroke="#222" stroke-width="1.1"/>
<line x1="585.6" y1="336.7" x2="585.6" y2="342.5" stroke="#222" stroke-width="1.1"/>
<line x1="585.6" y1="560.3" x2="585.6" y2="554.5" stroke="#222" stroke-width="1.1"/>
<line x1="398" y1="403.77" x2="400.8" y2="403.77" stroke="#222" stroke-width="1.1"/>
<line x1="679.4" y1="403.77" x2="676.6" y2="403.77" stroke="#222" stroke-width="1.1"/>
<line x1="594.98" y1="336.7" x2="594.98" y2="339.5" stroke="#222" stroke-width="1.1"/>
<line x1="594.98" y1="560.3" x2="594.98" y2="557.5" stroke="#222" stroke-width="1.1"/>
<line x1="398" y1="396.32" x2="400.8" y2="396.32" stroke="#222" stroke-width="1.1"/>
<line x1="679.4" y1="396.32" x2="676.6" y2="396.32" stroke="#222" stroke-width="1.1"/>
<line x1="604.36" y1="336.7" x2="604.36" y2="339.5" stroke="#222" stroke-width="1.1"/>
<line x1="604.36" y1="560.3" x2="604.36" y2="557.5" stroke="#222" stroke-width="1.1"/>
<line x1="398" y1="388.86" x2="400.8" y2="388.86" stroke="#222" stroke-width="1.1"/>
<line x1="679.4" y1="388.86" x2="676.6" y2="388.86" stroke="#222" stroke-width="1.1"/>
<line x1="613.74" y1="336.7" x2="613.74" y2="339.5" stroke="#222" stroke-width="1.1"/>
<line x1="613.74" y1="560.3" x2="613.74" y2="557.5" stroke="#222" stroke-width="1.1"/>
<line x1="398" y1="381.41" x2="400.8" y2="381.41" stroke="#222" stroke-width="1.1"/>
<line x1="679.4" y1="381.41" x2="676.6" y2="381.41" stroke="#222" stroke-width="1.1"/>
<line x1="623.12" y1="336.7" x2="623.12" y2="339.5" stroke="#222" stroke-width="1.1"/>
<line x1="623.12" y1="560.3" x2="623.12" y2="557.5" stroke="#222" stroke-width="1.1"/>
<line x1="398" y1="373.96" x2="403.8" y2="373.96" stroke="#222" stroke-width="1.1"/>
<line x1="679.4" y1="373.96" x2="673.6" y2="373.96" stroke="#222" stroke-width="1.1"/>
<line x1="632.5" y1="336.7" x2="632.5" y2="342.5" stroke="#222" stroke-width="1.1"/>
<line x1="632.5" y1="560.3" x2="632.5" y2="554.5" stroke="#222" stroke-width="1.1"/>
<line x1="398" y1="366.51" x2="400.8" y2="366.51" stroke="#222" stroke-width="1.1"/>
<line x1="679.4" y1="366.51" x2="676.6" y2="366.51" stroke="#222" stroke-width="1.1"/>
<line x1="641.88" y1="336.7" x2="641.88" y2="339.5" stroke="#222" stroke-width="1.1"/>
<line x1="641.88" y1="560.3" x2="641.88" y2="557.5" stroke="#222" stroke-width="1.1"/>
<line x1="398" y1="359.06" x2="400.8" y2="359.06" stroke="#222" stroke-width="1.1"/>
<line x1="679.4" y1="359.06" x2="676.6" y2="359.06" stroke="#222" stroke-width="1.1"/>
<line x1="651.26" y1="336.7" x2="651.26" y2="339.5" stroke="#222" stroke-width="1.1"/>
<line x1="651.26" y1="560.3" x2="651.26" y2="557.5" stroke="#222" stroke-width="1.1"/>
<line x1="398" y1="351.6" x2="400.8" y2="351.6" stroke="#222" stroke-width="1.1"/>
<line x1="679.4" y1="351.6" x2="676.6" y2="351.6" stroke="#222" stroke-width="1.1"/>
<line x1="660.64" y1="336.7" x2="660.64" y2="339.5" stroke="#222" stroke-width="1.1"/>
<line x1="660.64" y1="560.3" x2="660.64" y2="557.5" stroke="#222" stroke-width="1.1"/>
<line x1="398" y1="344.15" x2="400.8" y2="344.15" stroke="#222" stroke-width="1.1"/>
<line x1="679.4" y1="344.15" x2="676.6" y2="344.15" stroke="#222" stroke-width="1.1"/>
<line x1="670.02" y1="336.7" x2="670.02" y2="339.5" stroke="#222" stroke-width="1.1"/>
<line x1="670.02" y1="560.3" x2="670.02" y2="557.5" stroke="#222" stroke-width="1.1"/>
<text x="381.81" y="341.72" font-size="14.3" fill="#111" stroke="#111" stroke-width="0.3">0</text>
<text x="674.52" y="577" font-size="14.3" fill="#111" stroke="#111" stroke-width="0.3">0</text>
<polygon points="379.36,378.98 379.36,368.84 378.46,368.84 378,369.76 377,370.43 375.43,370.71 375.43,371.66 378.15,371.3 378.15,378.98" fill="#111" stroke="#111" stroke-width="0.3"/>
<text x="381.81" y="378.98" font-size="14.3" fill="#111" stroke="#111" stroke-width="0.3">0</text>
<rect x="363.21" y="373.61" width="9.6" height="1.15" fill="#111"/>
<polygon points="634.3,577 634.3,566.86 633.4,566.86 632.95,567.78 631.94,568.45 630.37,568.73 630.37,569.68 633.09,569.32 633.09,577" fill="#111" stroke="#111" stroke-width="0.3"/>
<text x="636.75" y="577" font-size="14.3" fill="#111" stroke="#111" stroke-width="0.3">0</text>
<rect x="619.06" y="571.63" width="9.4" height="1.15" fill="#111"/>
<text x="373.86" y="416.24" font-size="14.3" fill="#111" stroke="#111" stroke-width="0.3">2</text>
<text x="381.81" y="416.24" font-size="14.3" fill="#111" stroke="#111" stroke-width="0.3">0</text>
<rect x="362.37" y="410.87" width="9.6" height="1.15" fill="#111"/>
<text x="582.32" y="577" font-size="14.3" fill="#111" stroke="#111" stroke-width="0.3">2</text>
<text x="590.27" y="577" font-size="14.3" fill="#111" stroke="#111" stroke-width="0.3">0</text>
<rect x="571.74" y="571.63" width="9.4" height="1.15" fill="#111"/>
<text x="373.86" y="453.5" font-size="14.3" fill="#111" stroke="#111" stroke-width="0.3">3</text>
<text x="381.81" y="453.5" font-size="14.3" fill="#111" stroke="#111" stroke-width="0.3">0</text>
<rect x="362.2" y="448.13" width="9.6" height="1.15" fill="#111"/>
<text x="535.51" y="577" font-size="14.3" fill="#111" stroke="#111" stroke-width="0.3">3</text>
<text x="543.46" y="577" font-size="14.3" fill="#111" stroke="#111" stroke-width="0.3">0</text>
<rect x="524.75" y="571.63" width="9.4" height="1.15" fill="#111"/>
<text x="373.86" y="490.76" font-size="14.3" fill="#111" stroke="#111" stroke-width="0.3">4</text>
<text x="381.81" y="490.76" font-size="14.3" fill="#111" stroke="#111" stroke-width="0.3">0</text>
<rect x="361.98" y="485.39" width="9.6" height="1.15" fill="#111"/>
<text x="488.71" y="577" font-size="14.3" fill="#111" stroke="#111" stroke-width="0.3">4</text>
<text x="496.66" y="577" font-size="14.3" fill="#111" stroke="#111" stroke-width="0.3">0</text>
<rect x="477.74" y="571.63" width="9.4" height="1.15" fill="#111"/>
<text x="373.86" y="528.02" font-size="14.3" fill="#111" stroke="#111" stroke-width="0.3">5</text>
<text x="381.81" y="528.02" font-size="14.3" fill="#111" stroke="#111" stroke-width="0.3">0</text>
<rect x="362.23" y="522.65" width="9.6" height="1.15" fill="#111"/>
<text x="441.69" y="577" font-size="14.3" fill="#111" stroke="#111" stroke-width="0.3">5</text>
<text x="449.64" y="577" font-size="14.3" fill="#111" stroke="#111" stroke-width="0.3">0</text>
<rect x="430.96" y="571.63" width="9.4" height="1.15" fill="#111"/>
<text x="373.86" y="565.28" font-size="14.3" fill="#111" stroke="#111" stroke-width="0.3">6</text>
<text x="381.81" y="565.28" font-size="14.3" fill="#111" stroke="#111" stroke-width="0.3">0</text>
<rect x="362.39" y="559.91" width="9.6" height="1.15" fill="#111"/>
<text x="394.71" y="577" font-size="14.3" fill="#111" stroke="#111" stroke-width="0.3">6</text>
<text x="402.66" y="577" font-size="14.3" fill="#111" stroke="#111" stroke-width="0.3">0</text>
<rect x="384.14" y="571.63" width="9.4" height="1.15" fill="#111"/>
<rect x="404.1" y="342.8" width="134.9" height="37.6" rx="2.5" fill="#fff" fill-opacity="0.8" stroke="#cfcfcf" stroke-width="1"/>
<circle cx="420.8" cy="353" r="2.7" fill="#1f77b4" fill-opacity="0.88" stroke="#000" stroke-width="0.95"/>
<circle cx="420.8" cy="371.2" r="2.7" fill="#ff7f0e" fill-opacity="0.88" stroke="#000" stroke-width="0.95"/>
<text x="445.35" y="357.5" font-family='"Liberation Sans", sans-serif' font-size="13.3" fill="#111" stroke="#111" stroke-width="0.24" textLength="86.7" lengthAdjust="spacingAndGlyphs"><tspan>Co</tspan><tspan font-size="9.04" dy="2.79">66</tspan><tspan dy="-2.79">Ni</tspan><tspan font-size="9.04" dy="2.79">10</tspan><tspan dy="-2.79">Al</tspan><tspan font-size="9.04" dy="2.79">8</tspan><tspan dy="-2.79">Cr</tspan><tspan font-size="9.04" dy="2.79">24</tspan></text>
<circle cx="443.5" cy="373.1" r="0.9" fill="#111"/>
<circle cx="447.7" cy="373.1" r="0.9" fill="#111"/>
<circle cx="452" cy="373.1" r="0.9" fill="#111"/>
<text x="374.39" y="320.4" font-family='"Liberation Sans", sans-serif' font-size="18" fill="#111" stroke="#111" stroke-width="0.3" textLength="20.93" lengthAdjust="spacingAndGlyphs">(c)</text>
<text x="483.1" y="522.4" font-family='"Liberation Sans", sans-serif' font-size="15.3" fill="#111" stroke="#111" stroke-width="0.3" textLength="11.43" lengthAdjust="spacingAndGlyphs">R</text>
<text x="493.77" y="517.7" font-family='"Liberation Sans", sans-serif' font-size="9.6" fill="#111" stroke="#111" stroke-width="0.3" textLength="5.86" lengthAdjust="spacingAndGlyphs">2</text>
<text x="499.68" y="522.4" font-family='"Liberation Sans", sans-serif' font-size="15" fill="#111" stroke="#111" stroke-width="0.3" textLength="45.77" lengthAdjust="spacingAndGlyphs">=0.997</text>
<text x="481.47" y="542.8" font-family='"Liberation Sans", sans-serif' font-size="15" fill="#111" stroke="#111" stroke-width="0.3" textLength="159.82" lengthAdjust="spacingAndGlyphs">MAE = 0.433 meV/atom</text>
<text x="106.29" y="600.3" font-family='"Liberation Serif", serif' font-size="14.2" fill="#111" textLength="32.2" lengthAdjust="spacingAndGlyphs">True</text>
<text x="144.61" y="600.3" font-family='"Liberation Sans", sans-serif' font-style="italic" font-size="14.5" fill="#111" stroke="#111" stroke-width="0.3" textLength="10.64" lengthAdjust="spacingAndGlyphs">E</text>
<text x="155.25" y="602" font-family='"Liberation Sans", sans-serif' font-style="italic" font-size="10" fill="#111" stroke="#111" stroke-width="0.3" textLength="2.86" lengthAdjust="spacingAndGlyphs">f</text>
<text x="164.49" y="600.3" font-family='"Liberation Serif", serif' font-size="14.2" fill="#111" textLength="90.02" lengthAdjust="spacingAndGlyphs">(meV/atom)</text>
<text x="465" y="598.6" font-family='"Liberation Serif", serif' font-size="14.2" fill="#111" textLength="31.69" lengthAdjust="spacingAndGlyphs">True</text>
<text x="503.03" y="598.6" font-family='"Liberation Sans", sans-serif' font-style="italic" font-size="14.5" fill="#111" stroke="#111" stroke-width="0.3" textLength="10.23" lengthAdjust="spacingAndGlyphs">E</text>
<text x="513.25" y="600.3" font-family='"Liberation Sans", sans-serif' font-style="italic" font-size="10" fill="#111" stroke="#111" stroke-width="0.3" textLength="2.86" lengthAdjust="spacingAndGlyphs">f</text>
<text x="522.51" y="598.6" font-family='"Liberation Serif", serif' font-size="14.2" fill="#111" textLength="88.08" lengthAdjust="spacingAndGlyphs">(meV/atom)</text>
<text transform="translate(12.6,515.6) rotate(-90)" x="-0.45" y="0" font-family='"Liberation Sans", sans-serif' font-style="italic" font-size="14.5" fill="#111" stroke="#111" stroke-width="0.3" textLength="9.82" lengthAdjust="spacingAndGlyphs">E</text>
<text transform="translate(14.9,503.4) rotate(-90)" x="-0.35" y="0" font-family='"Liberation Sans", sans-serif' font-style="italic" font-size="9.4" fill="#111" stroke="#111" stroke-width="0.3" textLength="2.86" lengthAdjust="spacingAndGlyphs">f</text>
<text transform="translate(14.9,499.6) rotate(-90)" x="-0.82" y="0" font-family='"Liberation Sans", sans-serif' font-size="9.4" fill="#111" stroke="#111" stroke-width="0.3" textLength="22.87" lengthAdjust="spacingAndGlyphs">,GNN</text>
<text transform="translate(12.6,469.7) rotate(-90)" x="-0.82" y="0" font-family='"Liberation Serif", serif' font-size="14.2" fill="#111" textLength="90.73" lengthAdjust="spacingAndGlyphs">(meV/atom)</text>
<text transform="translate(350,514.8) rotate(-90)" x="-0.42" y="0" font-family='"Liberation Sans", sans-serif' font-style="italic" font-size="14.5" fill="#111" stroke="#111" stroke-width="0.3" textLength="9.2" lengthAdjust="spacingAndGlyphs">E</text>
<text transform="translate(352.3,503.4) rotate(-90)" x="-0.35" y="0" font-family='"Liberation Sans", sans-serif' font-style="italic" font-size="9.4" fill="#111" stroke="#111" stroke-width="0.3" textLength="2.86" lengthAdjust="spacingAndGlyphs">f</text>
<text transform="translate(352.3,499.6) rotate(-90)" x="-0.84" y="0" font-family='"Liberation Sans", sans-serif' font-size="9.4" fill="#111" stroke="#111" stroke-width="0.3" textLength="23.51" lengthAdjust="spacingAndGlyphs">,GNN</text>
<text transform="translate(350,470.1) rotate(-90)" x="-0.8" y="0" font-family='"Liberation Serif", serif' font-size="14.2" fill="#111" textLength="88.49" lengthAdjust="spacingAndGlyphs">(meV/atom)</text>
</svg>
</body></html>
